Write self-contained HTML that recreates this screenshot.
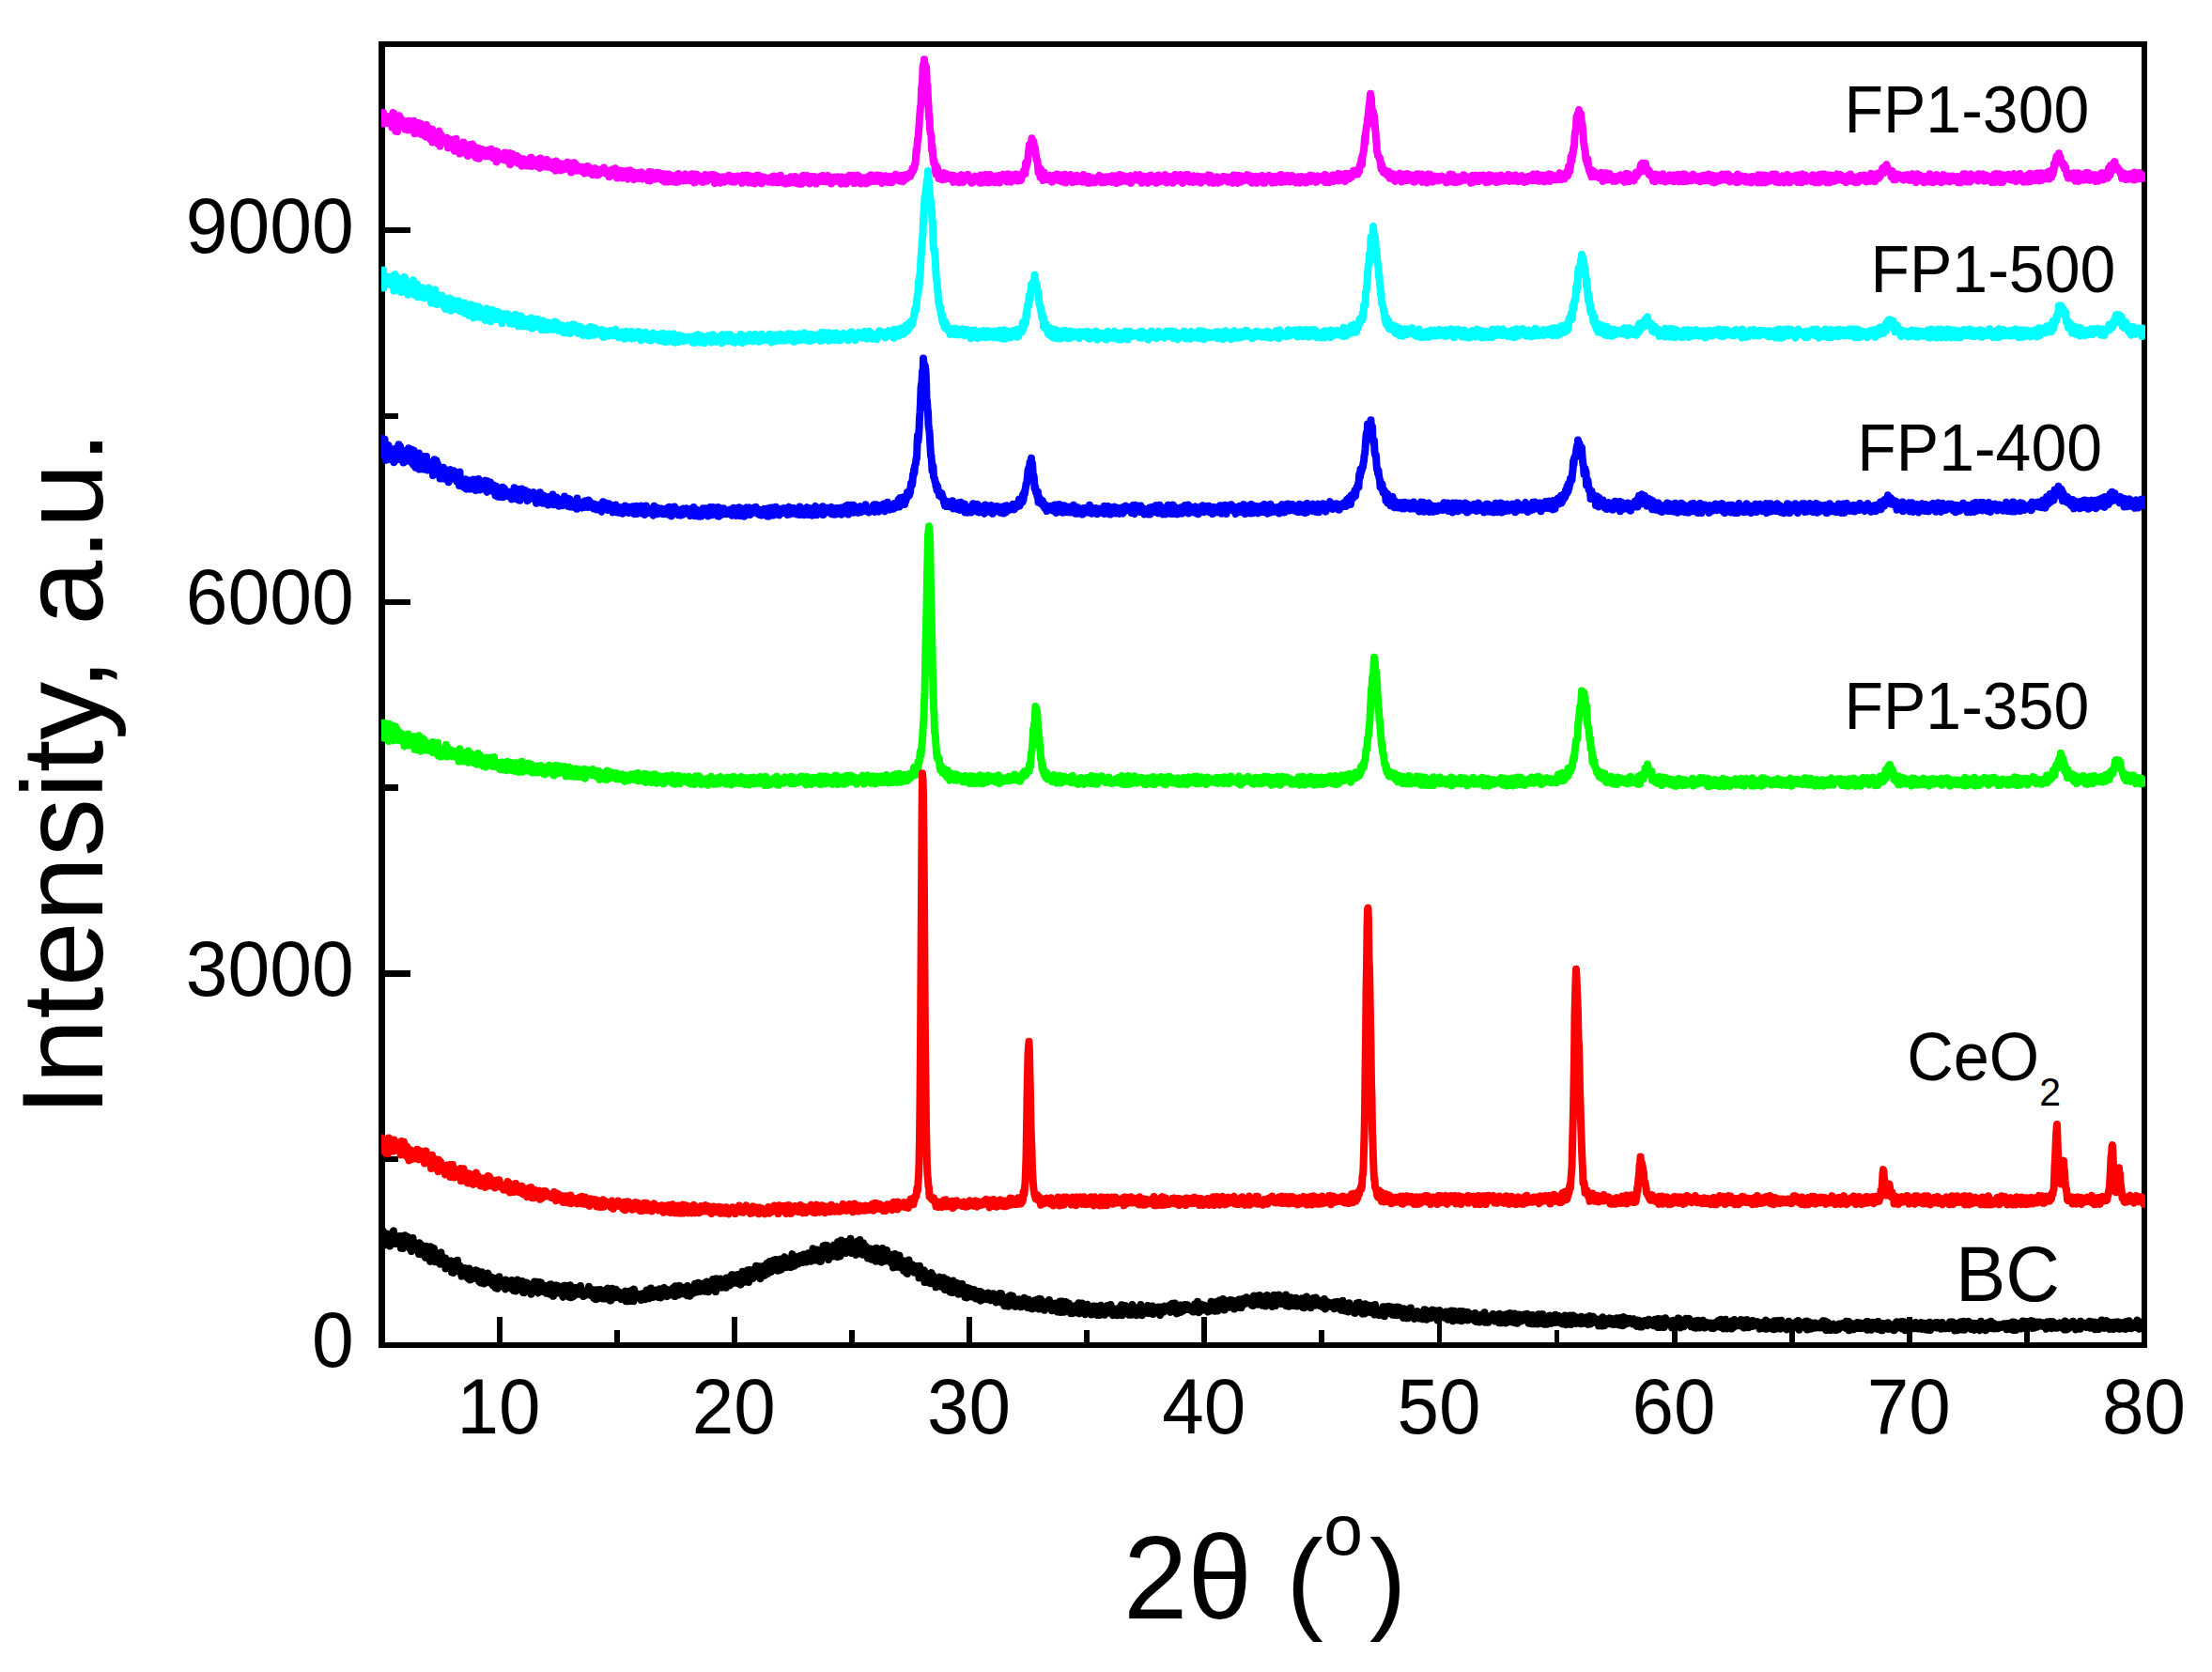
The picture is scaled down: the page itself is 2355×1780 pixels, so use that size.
<!DOCTYPE html>
<html lang="en"><head><meta charset="utf-8"><title>XRD patterns</title>
<style>html,body{margin:0;padding:0;background:#fff}svg{display:block}text{font-family:"Liberation Sans",Arial,Helvetica,sans-serif;fill:#000}</style></head><body>
<svg width="2355" height="1780" viewBox="0 0 2355 1780">
<rect width="2355" height="1780" fill="#fff"/>
<g stroke="#000" fill="none" shape-rendering="crispEdges">
<rect x="406.5" y="47" width="1876.5" height="1385" stroke-width="6.5"/>
<path d="M531.6,1432 V1402 M781.8,1432 V1402 M1032.0,1432 V1402 M1282.2,1432 V1402 M1532.4,1432 V1402 M1782.6,1432 V1402 M2032.8,1432 V1402 M656.7,1432 V1415.5 M906.9,1432 V1415.5 M1157.1,1432 V1415.5 M1407.3,1432 V1415.5 M1657.5,1432 V1415.5 M1907.7,1432 V1415.5 M2157.9,1432 V1415.5" stroke-width="5.8"/>
<path d="M406.5,1036.4 H436.8 M406.5,640.8 H436.8 M406.5,245.2 H436.8 M406.5,1234.2 H423.5 M406.5,838.6 H423.5 M406.5,443.0 H423.5" stroke-width="6.4"/>
</g>
<defs><clipPath id="cp"><rect x="406" y="0" width="1878" height="1780"/></clipPath></defs>
<g fill="none" stroke-width="8" stroke-linejoin="round" stroke-linecap="butt" clip-path="url(#cp)">
<path stroke="#ff00ff" d="M406.5,128.1l.5 2.6 .5-2.4 .5-8.4 .5 11.6 .5-2.3 .5-4.9 .5 5.9 .5-1 .5-.3 .5-1.2 .5 2.8 .5-6.4 .5 3 .5-1.5 .5 5.7 .5-2.8 .5-1.5 .5-2.3 .5 2.8 .5 1.4 .5-1.3 .5 8.1 .5-1.4 .5-14.3 .5 .2 .5 8.7 .5-1.1 .5 3.3 .5 .1 .5 8.5 .5-14.7 .5 3.7 .5 11.4 .5-6 .5 .2 .5-5.6 .5-5.4 .5 9 .5-.1 .5-6.4 .5 2.8 .5 3.1 .5-4 .5 4.2 .5 1.1 .5-.1 .5-2.5 .5 5.4 .5 1.6 .5-2.6 .5-5.2 .5 7.5 .5-5.7 .5 6.7 .5-9 .5 9.5 .5-4.3 .5-5.5 .5 4.5 .5 1.9 .5 1.2 .5-5.7 .5-.4 .5 6.2 .5-2.9 .5 3.4 .5 2.6 .5-10.9 .5 8.9 .5 4.6 .5-6.8 .5-2.2 .5 7.3 .5-2.1 .5 3.1 .5-5.4 .5-5 .5 6.4 .5-1.4 .5 5.7 .5-2.4 .5-8 .5 2.1 .5 9.5 .5-.7 .5-5.7 .5 3 .5 2.2 .5 .3 .5 2 .5-2.5 .5-1.4 .5-.5 .5 6 .5-12.7 .5 7.9 .5 .9 .5-6.1 .5 7.9 .5-4.1 .5 6.8 .5-4 .5 3.6 .5 2.6 .5-3.4 .5-5.1 .5-2.5 .5 14.1 .5-7.7 .5-2.2 .5 3.7 .5-1.1 .5 4.6 .5-3.2 .5 .1 .5-2.8 .5 5.2 .5-6 .5 7.2 .5 3.8 .5-12.3 .5-1.3 .5 10.5 .5 5.5 .5-11.6 .5-.8 .5 7.7 .5-5.6 .5 1.6 .5 .9 .5 3.8 .5-3.6 .5 3 .5-1.6 .5-2.4 .5 2.3 .5-2.3 .5 4 .5-4.2 .5 .3 .5 10.3 .5-5.7 .5 .2 .5 2.4 .5-3.4 .5 .9 .5 2.8 .5-.4 .5-5.4 .5 8 .5-5.3 .5-1.6 .5 .8 .5 2.1 .5 7.9 .5-10.5 .5 5.3 .5-7.7 .5 7.4 .5 3.6 .5-4.1 .5-1.3 .5 3.4 .5 1.9 .5 .1 .5 4.8 .5-6.2 .5-2.9 .5 1.9 .5 .4 .5 .8 .5-.4 .5 1 .5-6.7 .5 9.4 .5-5.1 .5-2 .5 6.8 .5 2.6 .5-2.9 .5-1 .5-3.9 .5 10.5 .5-3.6 .5-7.2 .5 1.5 .5 3.2 .5-5.7 .5 6.3 .5-2.1 .5 6.2 .5-.8 .5-10.1 .5 7 .5-5.7 .5 9.8 .5-3.2 .5 1.5 .5-5.6 .5 10.4 .5 .3 .5-10.3 .5 5.2 .5-3.6 .5 2.4 .5-4.2 .5 11.1 .5-9.8 .5 2.5 .5 2.9 .5-3.9 .5 1.6 .5-1 .5 1.6 .5-3.5 .5 2.7 .5 .9 .5-.3 .5 1.4 .5-1.1 .5 3.7 .5-3.5 .5 .7 .5-1.7 .5 .6 .5-2.4 .5 6.2 .5-5.5 .5 1.4 .5 3.9 .5 .3 .5-2.6 .5-5 .5 7.9 .5-.4 .5-5.5 .5 7.4 .5-4.8 .5-1.3 .5 4.2 .5-.8 .5 1.3 .5-5.9 .5 11.5 .5-7.9 .5-3 .5 7.2 .5-3.1 .5 2.4 .5-2.1 .5 1 .5 1.1 .5-3.2 .5 4.8 .5-3.7 .5-1.2 .5 3.2 .5 1.3 .5-2.1 .5-1.9 .5 4.9 .5-7.7 .5 2.5 .5 3.6 .5-4.5 .5 4.6 .5-.2 .5 3.2 .5-5.8 .5 1.1 .5 3.1 .5-7 .5 12.2 .5-8.2 .5 0 .5 5.2 .5-2.8 .5-5.5 .5 7.8 .5 .8 .5-4.1 .5 .6 .5 2.6 .5-4.4 .5 4.4 .5-.7 .5-2.7 .5-2.2 .5 3.8 .5-2 .5 6 .5-2.6 .5 2.1 .5-2 .5 .5 .5-3.2 .5 4.6 .5 3.6 .5-6.5 .5-.8 .5 1.5 .5-.9 .5-.7 .5 2.7 .5-1.2 .5 5.4 .5-4.4 .5 1.1 .5 2 .5-3.8 .5 5.4 .5-6.2 .5-.5 .5 1.4 .5 .9 .5-3.9 .5 4.3 .5-4.9 .5 9.4 .5-4.5 .5-1.6 .5-.7 .5 1.6 .5 .6 .5-2.4 .5 .4 .5 2.3 .5-.9 .5 4.5 .5 .6 .5-3.3 .5 1.5 .5-5.4 .5 6 .5-1.9 .5 1.6 .5 3.4 .5-10.4 .5 6.5 .5-4 .5 5.1 .5-5.6 .5 2.5 .5 2.2 .5 1.3 .5-1.6 .5-2.5 .5 .8 .5 4.3 .5-2.5 .5-4.9 .5 7.5 .5-1.2 .5 1.4 .5-3.5 .5 3.5 .5-5.5 .5 4.9 .5-3.1 .5 3.5 .5 1 .5-5 .5 2.1 .5 .3 .5 3.4 .5-1.3 .5-5.6 .5 4.9 .5 .9 .5 3.4 .5-10.3 .5 3.4 .5 5.5 .5-7.8 .5 .6 .5 5 .5 1.5 .5-4.8 .5 3.5 .5-1.2 .5 4.1 .5-4.3 .5 2.9 .5-5.3 .5 2.1 .5 .3 .5 3.6 .5-1.6 .5-3.7 .5 4.1 .5 .3 .5-2.4 .5-.4 .5 .3 .5-4.3 .5 5.5 .5 .1 .5-3 .5 4.6 .5-5.9 .5 2.3 .5 .3 .5 6.8 .5-9.8 .5 6.1 .5 1.1 .5-1.5 .5 2.3 .5-6.1 .5-2.4 .5 7.5 .5-5.4 .5 2.5 .5-2.4 .5 6.3 .5-.4 .5-4.4 .5 4.6 .5-2.2 .5-.6 .5 .6 .5-.7 .5 2.3 .5-.7 .5-1.8 .5 3.8 .5-4.4 .5 2.5 .5 .5 .5 2.9 .5-5.4 .5 6.3 .5-4.3 .5-.9 .5-1.3 .5 3.5 .5-1.4 .5-3.1 .5 0 .5 1.6 .5-.2 .5 4.9 .5 .8 .5-1.3 .5-1.4 .5-2 .5 1.4 .5 2.3 .5 2.8 .5-2.6 .5-3.2 .5 .9 .5-1.3 .5-.7 .5 1.6 .5 1.1 .5 4.5 .5-4.7 .5 3.6 .5 1.1 .5-4.4 .5 4.1 .5-2.3 .5-2.9 .5 1.9 .5-.6 .5-.6 .5 .1 .5 1 .5 .9 .5-3.5 .5 2.4 .5-3.9 .5 4.8 .5 1 .5-1.1 .5 .4 .5 .8 .5-3.2 .5 1.2 .5 2 .5 1.4 .5-1.5 .5 4 .5-5.2 .5 3 .5 .7 .5-3.6 .5-1.7 .5-.9 .5 3.6 .5 2.6 .5-2.2 .5-.2 .5-1.3 .5 2.5 .5-6.3 .5 5.6 .5-.5 .5-3.5 .5 8.5 .5-8.5 .5 .9 .5-.2 .5 6 .5-5.1 .5 4.1 .5-.2 .5-.8 .5-3.9 .5 1.8 .5 5.9 .5-7.5 .5 1.2 .5 1.8 .5 2.6 .5-1.4 .5 1.3 .5-4.6 .5 5.2 .5-.9 .5-5.4 .5 8 .5 .9 .5-6.7 .5 2.2 .5 3.4 .5-7.2 .5-1 .5 1.5 .5 1.9 .5 0 .5 3.1 .5-.8 .5-3.8 .5 4.6 .5 3.3 .5-1.6 .5-.5 .5-2.4 .5 2.5 .5-4.9 .5 4.4 .5-2.1 .5 3.1 .5-1.6 .5-3.9 .5 3.1 .5 2.8 .5-5.8 .5 1.4 .5-.4 .5-1.8 .5 6.1 .5 1 .5-1.3 .5-1.3 .5-.7 .5 .8 .5-2.4 .5 4.1 .5 .4 .5-.3 .5-3.6 .5 1.6 .5-.6 .5 4.9 .5-3.9 .5-5.1 .5 5.7 .5 3.7 .5-2.9 .5 .5 .5-2.1 .5-4.7 .5 .3 .5 1.4 .5 2.8 .5 1.1 .5 .9 .5-2.4 .5 3.2 .5-3 .5-1 .5 3.8 .5-4.3 .5-2.3 .5 2 .5 2.9 .5-4.8 .5 3.7 .5 .1 .5-2.6 .5-.1 .5 2.5 .5-.2 .5 4.5 .5-2.2 .5-4.7 .5 1.8 .5 3.8 .5 2.9 .5-3.6 .5-.2 .5 3.8 .5-4.5 .5-.7 .5-2.6 .5 2.2 .5 5.8 .5-8 .5 3.5 .5-3.4 .5 3.8 .5 1.8 .5-2.7 .5 2.4 .5 0 .5-.7 .5 3.1 .5-2.2 .5-2.6 .5-.9 .5-.4 .5 3.2 .5-1.9 .5 5.4 .5-.1 .5-5 .5-.2 .5 4.8 .5-8.5 .5 3.4 .5 3.4 .5-4.4 .5 1 .5 .4 .5 2.4 .5-1.2 .5 .6 .5 .5 .5-1.3 .5 2.6 .5-4.4 .5-1.7 .5-.8 .5 .4 .5 2.6 .5 3.8 .5-2.1 .5-1.8 .5-1.1 .5 1.3 .5 .3 .5-.3 .5-2.1 .5 2.3 .5 3.6 .5-7 .5 4 .5-3.9 .5 4.9 .5-2.2 .5-2.7 .5 4.8 .5 4.1 .5-4.1 .5 2.5 .5-2.9 .5-4.3 .5 5.7 .5-2.2 .5-2.4 .5 5.3 .5-1.1 .5-2 .5 3.4 .5-4.1 .5 3.6 .5-3.8 .5 3.5 .5-3.8 .5 6.1 .5-2.9 .5 2.8 .5-5.3 .5 .8 .5 3.1 .5-6.4 .5 1.9 .5 5 .5-1.3 .5 1.2 .5-3 .5 2 .5-3 .5-1.5 .5-.7 .5 2.7 .5 0 .5-.2 .5-3 .5 0 .5 3.3 .5 1.9 .5-2 .5-.7 .5-2.4 .5 8.9 .5-7 .5 6.5 .5-.3 .5-3 .5-1.9 .5 1.6 .5-3 .5 3.3 .5-.6 .5 1.3 .5 1 .5 1.8 .5-4.9 .5 3.3 .5-4.3 .5-.2 .5 .7 .5-.9 .5 4.6 .5-.1 .5 .8 .5-3 .5 .7 .5-2 .5-1.3 .5 3.7 .5-.4 .5-3.2 .5 4 .5-5.5 .5 3.7 .5-1 .5 .2 .5-1.3 .5 4.8 .5-.9 .5 1.4 .5-2.4 .5-3.3 .5 2.1 .5-1.9 .5 3.8 .5 1.8 .5-2 .5-2.2 .5 .5 .5 1.4 .5-3.9 .5 3.8 .5 .1 .5-1.7 .5 .3 .5 1.3 .5-2.3 .5 0 .5 3.8 .5-1.3 .5 3.4 .5-6.2 .5-1.9 .5 6.4 .5 0 .5-3.9 .5-1.7 .5 3.3 .5-4 .5 3.3 .5-3.6 .5 3.8 .5-3.8 .5 3.9 .5 4 .5-4.1 .5 2.4 .5-3.3 .5-.6 .5-1.4 .5 5.9 .5-2.5 .5 3.9 .5-6.5 .5 2.2 .5 .7 .5 3.1 .5 1 .5-5.8 .5-1.1 .5-1.4 .5 7.1 .5-3.3 .5-1.3 .5 1.4 .5-4.2 .5 .3 .5 6.2 .5-1.2 .5-.6 .5-2.7 .5 3.7 .5 2.8 .5-7 .5 2.9 .5-1.1 .5 1.9 .5-.8 .5-.4 .5-1.7 .5 2 .5-1.4 .5 1.1 .5 .2 .5 1.7 .5-2.9 .5 .6 .5 3.3 .5-3 .5-.1 .5 2.6 .5-1.4 .5-.4 .5 .3 .5-3.4 .5 3.9 .5 2.1 .5-1.8 .5-4.9 .5 4.2 .5-2.7 .5 1.6 .5 .8 .5-3.1 .5 5.9 .5-3.2 .5 2 .5-.4 .5 1.6 .5-.3 .5-6.2 .5 3.5 .5-4.4 .5 3.3 .5 2.7 .5 .5 .5 .8 .5-3.8 .5 1.6 .5-.5 .5 2.7 .5 .7 .5-4.5 .5 5.3 .5-4.5 .5-.8 .5 2.3 .5 .3 .5-.5 .5-2.7 .5 4.9 .5-3.3 .5 3.4 .5-.3 .5-6.2 .5 .7 .5 0 .5 2.9 .5-.5 .5 .5 .5-2.5 .5 2.9 .5 2.3 .5-6.4 .5 2.7 .5 1 .5-.9 .5-.1 .5 4.5 .5-1.1 .5-1 .5-3.7 .5 6.2 .5-3.6 .5-2.2 .5 .5 .5-.3 .5 5.6 .5-4 .5-.3 .5-4.5 .5 6 .5-4.1 .5-.2 .5 4 .5-3.4 .5 4 .5 .6 .5-6.7 .5 3.8 .5-3.3 .5 3.5 .5 2.2 .5-5.2 .5 7.3 .5-4.9 .5-2 .5 2.4 .5 2.2 .5-5.1 .5 3.2 .5-3.2 .5 6 .5-2.4 .5-1.4 .5 3.4 .5-5.4 .5 2.1 .5 5.2 .5-4.6 .5 3.5 .5-2.7 .5-2.1 .5 1 .5 .8 .5-1.1 .5-1 .5 .1 .5-1.6 .5 3.7 .5 .6 .5 .8 .5-5.9 .5 6.1 .5-1.9 .5-3.3 .5 3.5 .5 1.7 .5-.7 .5 .5 .5 .5 .5-.1 .5-2.2 .5-4.2 .5 2.5 .5 2.6 .5-1.9 .5 2.7 .5 .2 .5-1.7 .5 4.2 .5-6.6 .5 4.4 .5-3.2 .5-.7 .5 3.2 .5-2.8 .5 3.4 .5-4.7 .5 2.8 .5-2.1 .5 1.4 .5-.3 .5-1.7 .5 4.1 .5-4.4 .5 .6 .5 4.3 .5 .2 .5-.7 .5-.7 .5 3.6 .5-7.2 .5 1 .5-.5 .5 4.3 .5-1.4 .5 1.9 .5-.3 .5-2.8 .5-1.3 .5-.4 .5 6.7 .5-2.2 .5-.9 .5-2.1 .5 .3 .5-.4 .5 .1 .5-3.6 .5 4.2 .5-.8 .5 1.6 .5-.2 .5 1.5 .5-2 .5 1.9 .5-6.3 .5 1.9 .5 6.5 .5-6.8 .5 2.1 .5 2.3 .5-3.7 .5 3.7 .5-4.9 .5-1.1 .5 1.3 .5-.8 .5 3.8 .5-.7 .5 1.5 .5-3.2 .5 6.9 .5-4.7 .5 .1 .5 1.2 .5-1.7 .5-.9 .5 1.7 .5 1.9 .5-.6 .5 .7 .5-3.5 .5-.5 .5 6.2 .5-5 .5 1.7 .5 .5 .5 1.6 .5-6.4 .5 2 .5 .1 .5 .3 .5-3.7 .5 4.2 .5-4.2 .5 5.1 .5 .5 .5 .1 .5-4.1 .5 4.9 .5-4.2 .5-.8 .5 .5 .5 .3 .5 2.4 .5 1.5 .5-6.3 .5 3.1 .5 3.3 .5-1.6 .5 .7 .5-4.7 .5 5.7 .5-5.8 .5 4 .5 2.7 .5 1.2 .5-3.2 .5 .8 .5-3.4 .5 .3 .5 3.8 .5-2.8 .5-.3 .5-3 .5 3.6 .5 1.1 .5-3.3 .5 .6 .5 4.8 .5-3.2 .5-1.1 .5-2 .5 1.1 .5 .9 .5 3.7 .5-4.6 .5 5.5 .5-6.3 .5 1.3 .5 2.7 .5-2.5 .5-1.5 .5 1.6 .5 1.3 .5-5.1 .5 3.4 .5 .3 .5-.7 .5 2.6 .5-3.1 .5 .4 .5 .9 .5 1.5 .5-2.3 .5 4 .5-5.7 .5 5 .5-5.1 .5 1.6 .5 1.1 .5 3.5 .5-2.4 .5-3.2 .5 3.9 .5-3.7 .5-1.6 .5 2.9 .5-1.1 .5 1.9 .5-3.8 .5 2 .5 .4 .5-1.1 .5-1.1 .5-2 .5 3.5 .5-2.3 .5 .3 .5-2.8 .5 .1 .5-3.7 .5 1.7 .5 .4 .5-3.4 .5 .1 .5-3.7 .5 .3 .5-7.5 .5-7.8 .5 2.2 .5-6.4 .5-7.6 .5-.1 .5-7.2 .5-5.7 .5-9.5 .5-5 .5-6.8 .5-.9 .5-17.1 .5-3.8 .5-4.4 .5-14.6 .5-3.8 .5 13 .5-18.5 .5 10.7 .5-5.3 .5 3.2 .5-1.1 .5 9.7 .5 13.3 .5-2.8 .5 15.2 .5 5.9 .5 13.3 .5-2.2 .5 13.1 .5 5 .5 1.9 .5 1.1 .5 15.3 .5-4.4 .5 6.9 .5 7.6 .5 3.7 .5-2.7 .5 4.6 .5 1.4 .5 5.5 .5 3.2 .5-8.4 .5 8 .5-6.2 .5 5.5 .5-2.2 .5 7.9 .5-3.8 .5-1.9 .5 .9 .5 .1 .5 2.1 .5-.6 .5 2.2 .5 2.3 .5-1.9 .5-4.5 .5-.8 .5 2.2 .5 4.5 .5-3.2 .5-.7 .5 2 .5-3.6 .5 .7 .5 4 .5-1.8 .5-.3 .5 1.9 .5-2.1 .5-.2 .5 .6 .5 2.6 .5-1.2 .5-2.9 .5 2.1 .5 2.3 .5 2.9 .5-7 .5 3.5 .5-1.4 .5 2.6 .5-.9 .5 2.5 .5-2.2 .5-2.5 .5 0 .5 2.3 .5 0 .5 3.5 .5-.5 .5-6.6 .5 3.6 .5-3.9 .5-.8 .5 5.6 .5-.4 .5-3.7 .5 6.3 .5-6.1 .5-.4 .5 4.2 .5-1 .5-.9 .5 .3 .5 .7 .5-.9 .5 0 .5-4 .5 1.3 .5 4.5 .5-3 .5 2.9 .5 1.6 .5-3.7 .5 1.5 .5 3.8 .5-2.8 .5 2.6 .5-.7 .5-1.8 .5-2 .5-1.7 .5-.6 .5 3.7 .5 0 .5-1.5 .5 2.4 .5-3.4 .5 4 .5-2.5 .5-.2 .5 .1 .5-.2 .5 4.6 .5-8.1 .5 4.1 .5 2.5 .5-1.2 .5-2.4 .5 4.8 .5-6.5 .5-.6 .5 4.4 .5-4.7 .5-1.1 .5 6.5 .5-.3 .5-.1 .5-2.8 .5 1.6 .5-2.7 .5 6.3 .5-2.2 .5-.1 .5-6.2 .5 6.3 .5 1.6 .5-.7 .5-1 .5-1.8 .5-.8 .5 2.2 .5-.5 .5-.4 .5-1.2 .5 4.6 .5-6.6 .5 2.6 .5-1.3 .5 3.8 .5 .9 .5-.5 .5-1.1 .5-5 .5 7.6 .5-3.2 .5-1.5 .5 .3 .5-.8 .5 1.8 .5-.3 .5-1.6 .5-3.6 .5 4.3 .5 1.2 .5 .1 .5-1.6 .5 1.4 .5 1.3 .5-3.5 .5 4.5 .5-7.9 .5 1.5 .5 .8 .5-2.3 .5 2 .5 5.2 .5 0 .5-2.7 .5 3.7 .5-3.5 .5-1.7 .5 1.7 .5-1 .5 2 .5-5.3 .5 5.8 .5-3.5 .5 3 .5-5.7 .5 2.6 .5 1.1 .5 1.8 .5-5.1 .5 6.7 .5-3 .5-2.5 .5 3.9 .5-2.8 .5 2.2 .5 1.5 .5-3.1 .5-3.5 .5-.3 .5 1.8 .5-1.5 .5-3.6 .5-.7 .5 2.2 .5 1.8 .5-11.5 .5 5.1 .5-4.5 .5 .6 .5-2.1 .5-4.8 .5-5.8 .5-3.8 .5-4.1 .5 7.1 .5-6.6 .5-2.8 .5-.4 .5-4.1 .5 5.4 .5 4 .5 .8 .5-6.8 .5 11.4 .5-4.1 .5-.8 .5 4.8 .5 3.4 .5 5.2 .5-.5 .5 .9 .5 5.4 .5 7.4 .5-5.2 .5 4.3 .5 .2 .5 5.6 .5-8.6 .5 8.1 .5-5.2 .5 2.2 .5 1.6 .5 5.2 .5-6.1 .5-2.5 .5 7.9 .5-4.9 .5 1.5 .5 .7 .5 .4 .5-.5 .5 1.1 .5 .4 .5 1.2 .5-3 .5-.7 .5-.6 .5 3.9 .5-1.4 .5 1.4 .5 0 .5 2.8 .5-3.4 .5 1.3 .5-4.6 .5 .4 .5 1.8 .5-2.1 .5 4.5 .5-4.7 .5 3.3 .5-4.6 .5 1.9 .5 1.8 .5 .2 .5-3.5 .5 4.4 .5 2 .5-.7 .5-3 .5 .2 .5-1.4 .5 4.2 .5 1.9 .5-4.6 .5-2.7 .5 4.5 .5 1.1 .5-6 .5 4.7 .5 4.1 .5-2.5 .5-.6 .5-.3 .5 1.5 .5-4.6 .5 .2 .5 2.9 .5-2.5 .5 2.2 .5-5 .5 6.2 .5 .2 .5-1.9 .5 .3 .5 3.4 .5-6.3 .5 .4 .5-.4 .5 1.6 .5-1.4 .5 2.4 .5-1.5 .5-1.9 .5-.2 .5 6.4 .5-3 .5-.3 .5 .5 .5-.2 .5 1.9 .5-.4 .5-2.7 .5-.5 .5-.6 .5-.4 .5 6.2 .5-5.4 .5-2.3 .5 2.5 .5 .1 .5 2.6 .5-2.8 .5 3.3 .5-.4 .5 2.1 .5 1.4 .5 0 .5-1.2 .5-5.9 .5 1.8 .5 1.5 .5 3.8 .5-2.8 .5 1.2 .5-3.2 .5 1.8 .5 .3 .5-2.7 .5 2.8 .5 .7 .5-2.8 .5 2.7 .5 1.5 .5-3.7 .5-.2 .5-.7 .5-.7 .5 1.8 .5-1.3 .5 .2 .5-1 .5-1.8 .5 1.4 .5 2.9 .5-3.5 .5 1.3 .5 5.3 .5-1.2 .5-4.3 .5 3.1 .5-2.9 .5 5.2 .5-5.1 .5 1.5 .5 3.1 .5-5.2 .5 5 .5-4.9 .5 2.4 .5-1.2 .5 .5 .5 .5 .5-.5 .5-2.2 .5 4.4 .5-.4 .5 1.3 .5 .3 .5-6.4 .5 6.1 .5 .1 .5-4.3 .5 3.7 .5 1 .5-4.7 .5-1.9 .5 2.3 .5 5.3 .5-3.9 .5-3.4 .5 2.3 .5-1.7 .5 1.3 .5 1.2 .5-4.6 .5 5.2 .5 2.4 .5-3.7 .5-.4 .5 3.4 .5-5.5 .5 .1 .5-.4 .5 2.9 .5 1.3 .5-1.2 .5 1.5 .5 .7 .5-.8 .5-3 .5 1.2 .5 3.5 .5-5.3 .5 1.9 .5-.4 .5 .5 .5-2 .5-.7 .5 7.6 .5-2.3 .5-3.8 .5 1.5 .5 1.7 .5-2.3 .5 2.2 .5-2.9 .5 .6 .5 .7 .5-.9 .5-3.3 .5 4.4 .5 .6 .5 .5 .5-3.4 .5 3 .5-.3 .5-4.5 .5-.3 .5 5.5 .5-3.4 .5 4.6 .5 2 .5-5.7 .5-.2 .5 1.5 .5 1.6 .5-4.2 .5 5.5 .5-.6 .5-.7 .5-2.8 .5 3.4 .5-.2 .5-4.7 .5 7.1 .5-5.1 .5 1.6 .5-2.1 .5 2.1 .5 1.8 .5-4.5 .5-2 .5 2.8 .5-2 .5 1.3 .5 1.4 .5 .2 .5 3.1 .5-5.3 .5 3.2 .5-2 .5 4.3 .5 1.2 .5-3.7 .5 3.2 .5-5.1 .5-2.5 .5 .8 .5-.7 .5 1.4 .5 1.7 .5 3.2 .5-1 .5-.6 .5-2 .5-.7 .5 1.7 .5 .3 .5 .2 .5 .3 .5-1.1 .5-4.2 .5 1.9 .5 .6 .5 5.9 .5-5 .5 2.6 .5 1.8 .5-2.6 .5-1.7 .5 .3 .5-1.7 .5 3 .5 1.9 .5-1.3 .5 .5 .5-.1 .5 2.7 .5-5.8 .5 1.8 .5 1.3 .5 1.2 .5-7.3 .5 3.2 .5 .7 .5-1.9 .5 4.4 .5-1.5 .5-1.4 .5-2.9 .5 .8 .5 .7 .5 3.4 .5-3.9 .5-1.6 .5 1.1 .5 2 .5 5.2 .5 .5 .5-5.5 .5 3.3 .5 1.1 .5-.3 .5-3.2 .5-2.8 .5 1.9 .5-3.2 .5 4.9 .5 1.2 .5-6.2 .5 4.3 .5 .8 .5 2.2 .5 .3 .5-1.3 .5-3.5 .5 .8 .5 3.6 .5-4.2 .5 1.3 .5 3.7 .5-3.3 .5-3.5 .5 2.5 .5 2.2 .5-1.9 .5 3.1 .5 .3 .5-4.5 .5 .4 .5 .9 .5-2.6 .5 3.7 .5-1.3 .5 2.2 .5-3.2 .5-.6 .5 6.3 .5-6.3 .5 .7 .5-.4 .5 1 .5-1.4 .5 2 .5-1.5 .5 .6 .5 1.9 .5 .7 .5-.5 .5-2.8 .5 2.6 .5-1.2 .5 .1 .5-3.8 .5 5.6 .5-1.9 .5 4.3 .5-2.5 .5-4.1 .5-.6 .5 5.9 .5-4.7 .5 3.6 .5-2.3 .5 5.1 .5-4.2 .5 3.3 .5-.4 .5-4.2 .5 .4 .5 4.2 .5-3.5 .5-2 .5 4.8 .5 1.6 .5-4.4 .5 3.3 .5-3.6 .5 3.5 .5-3.7 .5 3.7 .5-1.9 .5-1.6 .5 .9 .5-1.8 .5-1.3 .5 .2 .5 2.3 .5-2.3 .5 3.4 .5 .3 .5-.2 .5-2.2 .5 1.3 .5-.2 .5 3.1 .5-4.9 .5 1 .5 .3 .5 .2 .5-1.4 .5 .3 .5 3.8 .5-3.8 .5 3.6 .5 2.1 .5-1.3 .5-7.1 .5 6 .5-.7 .5 .1 .5-5 .5 5.5 .5-4.3 .5 5.6 .5-.6 .5 1.8 .5-5.1 .5-2.7 .5 6 .5-.4 .5-2.9 .5 4 .5-1.6 .5-4.5 .5 2.1 .5-.2 .5 .8 .5 .7 .5-2.1 .5 1.2 .5 1.8 .5-1.5 .5-.5 .5-.1 .5 .5 .5-4.2 .5 4.8 .5-2.8 .5 2.7 .5-3.7 .5 5.6 .5-1.6 .5-3.7 .5 3.7 .5-2.3 .5 5.9 .5-3 .5-3 .5 2.3 .5-.6 .5 2.9 .5-2 .5 .4 .5-3.8 .5 4.5 .5 2.4 .5-2.8 .5-1.6 .5 .5 .5-2.6 .5 2.7 .5-3 .5 2.6 .5-1 .5-1 .5 3.3 .5-4.8 .5 3.3 .5-3 .5 7.4 .5 0 .5-2.3 .5 2.3 .5-2.9 .5-.1 .5-2.3 .5-1.1 .5 2.4 .5-1.5 .5 .2 .5 2.7 .5-2 .5-3.3 .5 3.1 .5-1.3 .5 1.1 .5-1.9 .5 5.4 .5 1.4 .5-6.8 .5 4.1 .5-.1 .5-3.9 .5 2.7 .5 3 .5-1.3 .5 1.8 .5-6.4 .5 .9 .5 2.4 .5 .2 .5-.8 .5-.9 .5-.1 .5-.5 .5 2.5 .5-5.6 .5 8.2 .5-4.9 .5-2.1 .5 4.6 .5-4.5 .5 4.1 .5-1.8 .5 2.3 .5 .4 .5 1.2 .5-4.2 .5 .5 .5 .7 .5-3.3 .5 4.6 .5-1 .5-3.4 .5 5.9 .5 .3 .5-6.2 .5 4.4 .5 1.5 .5-.9 .5-4.2 .5-1 .5 3 .5-.9 .5 1.1 .5-.2 .5 1.4 .5-2.5 .5 .9 .5 4.7 .5-4.6 .5 2 .5-1 .5-.2 .5-2.6 .5 3.3 .5-1.3 .5 2 .5 2.4 .5-3.9 .5 1.3 .5-4.1 .5 2.6 .5 3.3 .5-3.7 .5-1.3 .5 1.9 .5-.9 .5-.1 .5-.4 .5 5.3 .5-6.4 .5 1 .5-.3 .5 4.2 .5-3.6 .5 3.7 .5-2.6 .5-.5 .5-3.3 .5 6.2 .5-1.6 .5-.3 .5-1.2 .5-.7 .5-2 .5 5.1 .5-1.6 .5-1.4 .5-.7 .5 1.8 .5-.5 .5 4 .5-2 .5-3.2 .5-1.2 .5 2 .5-1.6 .5 2.3 .5 .8 .5 .5 .5-.5 .5-1.5 .5 1.9 .5-3.5 .5 1.9 .5 2 .5-1.2 .5-3.6 .5 .2 .5-1 .5 7.9 .5-7.8 .5 3.3 .5 4.5 .5-1.7 .5 .5 .5-4.2 .5 2.8 .5 2.7 .5-4.5 .5 1 .5-1.7 .5 .7 .5 .9 .5 2.3 .5-5.3 .5-1.3 .5 3.4 .5 .4 .5 2.8 .5-1.7 .5-3.1 .5 2.7 .5 1.3 .5-2 .5-1.5 .5 2.4 .5-2.5 .5-3.6 .5 7.5 .5-6.2 .5 2.2 .5 0 .5-.1 .5 .1 .5-2.8 .5 4.6 .5-1.2 .5-.1 .5 2.4 .5 0 .5 .5 .5 1.2 .5-3.4 .5-4.8 .5 4.1 .5-.6 .5 .1 .5-1.7 .5-.8 .5 3.9 .5 .3 .5-5.1 .5 3.9 .5-1.9 .5-.6 .5 2.4 .5-1.9 .5-1.4 .5 1.2 .5-5 .5 3 .5 .1 .5-2.6 .5 3.5 .5-.2 .5-2.6 .5 .6 .5 1.6 .5 .3 .5-5.4 .5 1.9 .5 .8 .5-3.9 .5-3.3 .5-1.6 .5-.6 .5-4 .5 6 .5-9.5 .5-.1 .5-3.6 .5-2 .5-6.8 .5-7 .5 5.6 .5-10.1 .5-3.8 .5-4.2 .5-.7 .5-6.2 .5-2.5 .5-5.1 .5-5.9 .5-2.2 .5-5.8 .5-5.6 .5 6.8 .5-2.3 .5 13.9 .5 1.3 .5 1.8 .5-2.7 .5 13.5 .5-9 .5 6.5 .5 6.2 .5 3.9 .5 8 .5 4.3 .5 9.3 .5 .6 .5 4 .5 .5 .5 1.1 .5 1 .5-.1 .5 3.8 .5 3.1 .5 4.5 .5-5.1 .5 2 .5 5.1 .5-2.4 .5 4.2 .5-1.2 .5-.3 .5-.9 .5 3.5 .5-1.2 .5 .6 .5 .2 .5 2.3 .5 .1 .5-4.3 .5 4 .5 1.5 .5 1.7 .5-.5 .5-1.2 .5-3.1 .5 1 .5 4.2 .5-3.8 .5 4.2 .5 .7 .5-5.5 .5 3.7 .5-1.2 .5 4.8 .5-2.4 .5-3.2 .5 2.3 .5-3.1 .5 1.9 .5 .9 .5-.1 .5 .4 .5-2.8 .5-2.2 .5 3.6 .5-1.2 .5 .5 .5 6.1 .5-1.7 .5-3.1 .5-2.9 .5 .3 .5 4 .5 1.7 .5-3.2 .5 1 .5 .3 .5 2 .5-6.9 .5 4.8 .5 .6 .5 1.3 .5-1.3 .5-3.5 .5 1.3 .5-2.2 .5 4 .5 0 .5 .8 .5-3.5 .5-.3 .5 6.2 .5-3.1 .5 3.6 .5-3 .5-4.4 .5 5.3 .5 1 .5-3.9 .5-3.4 .5 6 .5-1.9 .5 1 .5-5 .5 5.5 .5-5.5 .5 2.4 .5 4.1 .5-6.3 .5-.1 .5 3.3 .5 4.9 .5-.1 .5-5.1 .5 3.7 .5-1 .5-.7 .5 .2 .5-2.5 .5 3.6 .5 .6 .5 2 .5-2.3 .5-6.6 .5 1.6 .5 3.6 .5-.6 .5-4.5 .5 4 .5-.5 .5 .8 .5-.2 .5 2.4 .5 1.3 .5-1.8 .5-4.2 .5 .6 .5 .5 .5 1.4 .5-.9 .5 .2 .5-1.3 .5 4.3 .5-.2 .5 .3 .5-2.4 .5 1.2 .5-3.2 .5-.2 .5 1.1 .5 2.6 .5-1.7 .5-2.3 .5 2.9 .5 .8 .5-.6 .5-2 .5 1.7 .5-1.1 .5 .2 .5 .6 .5 1.9 .5 2.5 .5-.6 .5-2.1 .5-2.4 .5 .2 .5 .1 .5 3.3 .5-7.1 .5 5 .5-5 .5 4.4 .5 3.1 .5-5.2 .5-2.3 .5 7.4 .5 .5 .5-2.3 .5 1.7 .5-4.7 .5 4.6 .5 1.2 .5-2.5 .5-.8 .5 2.3 .5-.3 .5-4.4 .5 4.9 .5-1.4 .5-1.4 .5 2.7 .5-.9 .5-.4 .5-2.9 .5 3.1 .5-4.5 .5 2.3 .5-3.7 .5 0 .5 5 .5-1.2 .5 .4 .5 1.1 .5-.5 .5-2.9 .5 2.2 .5-.3 .5-1 .5 .9 .5-.6 .5-.6 .5 .7 .5 1.3 .5 3.9 .5-6.3 .5 3.1 .5-4.6 .5 7.1 .5-4.5 .5 1.1 .5 2.6 .5-.6 .5-5.8 .5 4.8 .5-1.9 .5 2 .5-1.1 .5 1.4 .5-1.1 .5-1 .5 3.1 .5-6.3 .5 2.6 .5-1.2 .5 1.8 .5-.6 .5 .6 .5-.8 .5 .1 .5-2.7 .5 3.7 .5 .8 .5-2.1 .5-.2 .5 .1 .5 5.4 .5-3.5 .5 .5 .5-1.6 .5-.5 .5-.9 .5 5.6 .5-7.5 .5 4.7 .5-.8 .5-.5 .5-3.1 .5 .8 .5 5.1 .5-3.8 .5 3.6 .5-.5 .5-.2 .5 .4 .5-4.6 .5 1.8 .5 2.6 .5-4.5 .5 6.8 .5-5.1 .5 1.1 .5-2.2 .5 3.2 .5-2.6 .5 1.2 .5-2.1 .5 5.4 .5-6.6 .5 4.9 .5-.5 .5 .4 .5-3.3 .5 4.7 .5-.1 .5-1.9 .5 .3 .5-1 .5 1.8 .5-3.4 .5 3.2 .5-.3 .5-4.3 .5-1.1 .5 4.1 .5-.1 .5 3.2 .5-2.7 .5-1.3 .5-2 .5 3 .5-1.2 .5-1.2 .5 2.3 .5 2.7 .5-2.2 .5-2.7 .5 3.2 .5-3.3 .5-1.1 .5 4.8 .5-2.4 .5 3.8 .5-1.8 .5-2.6 .5 2.3 .5 2.5 .5-3.4 .5-2 .5 .9 .5-.4 .5-.8 .5-.3 .5 4 .5 1.6 .5-3.5 .5 2.7 .5 .3 .5 1.8 .5-4.4 .5-.4 .5 1.8 .5-.7 .5 .4 .5 2.3 .5-4 .5 1.5 .5-2.8 .5 1.9 .5-1.2 .5-.2 .5 1.3 .5-.6 .5 1.9 .5 1 .5-5.3 .5 5.8 .5-6.8 .5 5 .5 1 .5-3.1 .5 .9 .5-1.3 .5 3.9 .5-6.5 .5 2.2 .5-2.2 .5 4.8 .5 2.6 .5-.3 .5-1.2 .5-1 .5-2.4 .5 4.6 .5-1.4 .5-3.4 .5-1 .5 1.5 .5 3.9 .5 .4 .5 .8 .5-5.6 .5 1 .5 4 .5-2.7 .5 1.2 .5-4.9 .5 2.2 .5 .8 .5-.8 .5-.2 .5-2.9 .5 7.6 .5-3.5 .5-3.8 .5 5.9 .5-2.4 .5 1.5 .5-2.2 .5-1.4 .5 0 .5 2.5 .5 1 .5-.7 .5 .3 .5 1.2 .5-2.2 .5 1.6 .5 .2 .5-2 .5-1 .5-.9 .5-2 .5-.9 .5 6.7 .5-3.3 .5-1.4 .5 5 .5-1.7 .5-2.3 .5 2.1 .5-3.2 .5 1.1 .5 3.3 .5-2.2 .5-3.6 .5 2 .5 .7 .5-3.8 .5-1.4 .5 5 .5-6.3 .5-3.7 .5 2.6 .5 3.1 .5-4.8 .5-.9 .5-10.2 .5 1.7 .5 2.5 .5-7.6 .5 2 .5-5.9 .5-3.9 .5 .4 .5-11.2 .5-4.1 .5-2.2 .5-3.6 .5-11 .5 7.3 .5-6.9 .5-4 .5 1.4 .5-4.8 .5 6.3 .5-3.4 .5 4.4 .5-3.5 .5 5.5 .5 6.1 .5-.8 .5 5.2 .5 6.3 .5 8 .5 2.8 .5 4.2 .5 1.7 .5 5.1 .5 5 .5-1.3 .5 3.3 .5 2.7 .5-5.1 .5 7 .5 2.9 .5 2.2 .5-1.6 .5 4.3 .5-3.3 .5 2 .5 5.2 .5-7 .5 3.7 .5 .2 .5 .5 .5-.8 .5 3.1 .5-3.9 .5-.4 .5 4.6 .5-3.9 .5 3.9 .5-.7 .5-1.5 .5 .9 .5 .7 .5 1.4 .5-2.5 .5 1.1 .5-2.8 .5 2.8 .5-3.8 .5 4.5 .5-.9 .5 5.5 .5-1.3 .5-3.3 .5 2.6 .5-1.5 .5-3.3 .5-1.9 .5 7.3 .5-1.7 .5-5.5 .5 6.2 .5 .6 .5-3.7 .5 3.5 .5-5.9 .5 3.6 .5 .6 .5 1.8 .5-.9 .5-.4 .5 .8 .5-2.8 .5 5 .5-4.2 .5 2.6 .5-1.8 .5-.6 .5 2 .5-.3 .5 2.1 .5-.6 .5-3.9 .5 2.5 .5-.9 .5-2.1 .5-.7 .5 3.2 .5-1.9 .5-2 .5 3.1 .5 .7 .5-.3 .5-3 .5 1.4 .5 4.6 .5-5 .5 1 .5 5.1 .5-3.5 .5-2.1 .5-3.3 .5 5.2 .5-4 .5 3.2 .5-2 .5-1.9 .5 7.7 .5-4.1 .5 2.3 .5-.4 .5-3.5 .5 1.8 .5-1.1 .5 3 .5-1.3 .5-2 .5 4.6 .5-2.9 .5-.3 .5-3.3 .5 2.6 .5-4.9 .5 4.2 .5-3.9 .5 2.2 .5-1.7 .5 .5 .5-.4 .5-1.8 .5-.9 .5-4.5 .5-2 .5 7.3 .5-2.6 .5-6.2 .5 8.4 .5-7.5 .5 3.1 .5-.3 .5-.6 .5 1.7 .5-4.6 .5 4.2 .5 .3 .5 1.8 .5-.1 .5 0 .5 .7 .5 4.8 .5-3.5 .5 3.7 .5 .6 .5-.6 .5 1.8 .5 .7 .5-2.2 .5 2.4 .5 4 .5-6.8 .5 2 .5-.9 .5 6.4 .5-7.7 .5 3.5 .5 2.2 .5-4.1 .5 1.7 .5-1.3 .5-1.4 .5 3 .5 1.4 .5-2.1 .5 1.4 .5 1.2 .5 1.2 .5-5.6 .5 4.3 .5-2.8 .5-3 .5 2.6 .5 3.4 .5-.8 .5-3.2 .5 6.3 .5-2.8 .5-1.1 .5-1.1 .5 2.2 .5-1.8 .5 3.5 .5-1.9 .5 .7 .5-2.1 .5-2.7 .5 4.7 .5-3.6 .5 2.1 .5 .2 .5-1.8 .5 3.9 .5-5.3 .5 6.7 .5-4.8 .5 3.6 .5 .8 .5-5 .5 .3 .5 3.9 .5-1.8 .5-.2 .5-4.4 .5 .4 .5 5.1 .5 2.1 .5-5 .5-.4 .5 2.5 .5 .6 .5 .2 .5-2.3 .5-3.4 .5 7.8 .5-4.5 .5 4.1 .5-7.4 .5 5.3 .5-2 .5-1.4 .5 4.8 .5 .7 .5-4.3 .5 2.9 .5-4 .5 1 .5 .9 .5-.2 .5 2.2 .5-4.2 .5 5 .5 0 .5-2.7 .5-2.3 .5-1.6 .5 4.2 .5-1.5 .5 1.9 .5-2.7 .5 2.5 .5-.2 .5 .2 .5 .6 .5 .1 .5 1.5 .5-4 .5 3.4 .5-1.2 .5-1.4 .5-1.3 .5 5.6 .5-2.8 .5-1.7 .5 1.4 .5-.2 .5-1.2 .5-2 .5 3.5 .5-.7 .5-.3 .5 3 .5-5.3 .5 .8 .5 2.6 .5 1.5 .5-.5 .5 .3 .5-6.1 .5 5.5 .5-.1 .5 .6 .5-3.2 .5 2.8 .5 1.1 .5 1.4 .5-3.1 .5-3.7 .5 3.2 .5 1.4 .5-.3 .5 3.2 .5-4.9 .5-1.8 .5 .8 .5 3 .5-3.3 .5-.6 .5 .5 .5 4.7 .5-2.3 .5-1.3 .5 2.8 .5-.4 .5-3.8 .5 4.1 .5-1.3 .5-5 .5 1.7 .5 3.3 .5 .5 .5-1.8 .5-1.6 .5 2.9 .5-4.8 .5 5.5 .5-1.6 .5 .2 .5-1.4 .5 3.4 .5-6.3 .5 2.4 .5 3.3 .5-2.9 .5 5 .5-2.4 .5-2.7 .5 4.3 .5-2.8 .5 1.6 .5-2.8 .5 .1 .5 3 .5-1.4 .5-2 .5-.3 .5 3.5 .5 2.6 .5-6 .5 3.5 .5-6.1 .5 1.4 .5 4.7 .5 2.1 .5-3.5 .5 1.1 .5-.6 .5 1.7 .5-4.8 .5 3.9 .5-2.4 .5 .2 .5 .8 .5-.5 .5-1.3 .5 1.2 .5-1.6 .5 5.6 .5-1.8 .5-2.6 .5 4.6 .5-.7 .5-1.8 .5-2.4 .5 1.9 .5 .7 .5 1.9 .5-3.6 .5-.9 .5 5.6 .5-1.1 .5-2.5 .5-2.8 .5 3.2 .5 1.4 .5-.8 .5 .2 .5-1.8 .5 2.5 .5-4 .5 .4 .5-.2 .5-.3 .5 5.8 .5-8.2 .5 4.4 .5-2.8 .5-.6 .5 3.1 .5-3.9 .5 3.4 .5 4.6 .5-4.6 .5 1.3 .5-3 .5 3.1 .5-4.6 .5 3.9 .5-.8 .5 4.7 .5-4.6 .5-.6 .5-.5 .5-1.5 .5 4.6 .5 1.5 .5-4.2 .5 2.5 .5-2.4 .5 1.7 .5 .1 .5-4.3 .5 1.5 .5 3.9 .5-6.5 .5 4.4 .5-.8 .5-1.4 .5 2.3 .5 .6 .5 .5 .5-5.7 .5 8.3 .5-5 .5 3.6 .5-2.7 .5-1.1 .5 1.2 .5 4.5 .5-.7 .5-4.5 .5 1.4 .5 2 .5-1.2 .5-1.2 .5-.6 .5-2.1 .5 4.3 .5 .8 .5 1.8 .5-5.6 .5 2.7 .5-1.5 .5 3 .5-3.2 .5-1.3 .5-2.4 .5 5.6 .5-1.3 .5 2.2 .5-3.9 .5 5.7 .5-6 .5 2.8 .5-.2 .5 1.6 .5-3 .5-1.7 .5-.2 .5 4.2 .5-1.6 .5 .5 .5-2.7 .5 2.2 .5 .2 .5 .9 .5-4.8 .5 1.6 .5 5.8 .5-4.9 .5 .7 .5-.7 .5-2.6 .5 1 .5 3.4 .5-2.5 .5 6 .5-7.9 .5-.9 .5 3.5 .5-1.9 .5 6 .5-4.2 .5 2.2 .5-4.5 .5 4.8 .5 0 .5 1.4 .5-2.4 .5 .7 .5-.8 .5 1.7 .5-3.1 .5 2.2 .5-2.6 .5 3 .5-2.3 .5-.8 .5-.1 .5 5 .5-7.1 .5 .2 .5 4.9 .5-3.8 .5 1.3 .5-.1 .5 5.6 .5-6 .5-.1 .5 .8 .5 1.4 .5 .6 .5-4.6 .5 4.5 .5 3.4 .5-8.6 .5 5.5 .5 .5 .5-1.5 .5-.8 .5-3.9 .5 7.2 .5-3.6 .5 .3 .5 3.3 .5-7.3 .5 4.3 .5 1.5 .5 .3 .5-.2 .5 3 .5-3.8 .5 1.7 .5-.5 .5-5.3 .5 1.7 .5 6.2 .5-5.1 .5 .5 .5-2.9 .5 2.3 .5-2.3 .5 1.6 .5 2.7 .5-3.2 .5 .5 .5 4.6 .5-2.1 .5 .2 .5 1.1 .5-3.6 .5 .3 .5-3.5 .5 6.2 .5-2.2 .5 .4 .5-2.5 .5 4 .5 0 .5-1 .5-4.2 .5 1.8 .5 1.8 .5-1.8 .5 2.8 .5 1.5 .5-4.1 .5 1.3 .5-1.2 .5 4 .5-.3 .5 2.3 .5-4.4 .5-2.2 .5 3.2 .5-1.5 .5 .9 .5 2.5 .5-3.6 .5 2.4 .5-6.1 .5 6.9 .5-2.2 .5-.9 .5-.6 .5 4.5 .5-4.5 .5 4.1 .5-4.1 .5 1.3 .5 .7 .5 3.6 .5-3.9 .5 0 .5-.7 .5-.6 .5-.7 .5 5.7 .5-.8 .5-5.1 .5 2 .5-3.1 .5 4.9 .5-.6 .5-1.3 .5-2.2 .5 3.7 .5-.4 .5-1.9 .5 2.2 .5-4.9 .5 1.7 .5-.8 .5 2.5 .5 3.6 .5-3.8 .5 2.5 .5-2.7 .5-.9 .5 3.3 .5-1.2 .5 2.1 .5-1.1 .5-4.2 .5-2.6 .5 4.7 .5-3.1 .5-.6 .5-.2 .5 1.9 .5 1 .5 .4 .5 4.3 .5-7.4 .5 2.7 .5-3.1 .5 .4 .5 2.3 .5 .6 .5-4.3 .5 5.5 .5-5.4 .5 4.1 .5-2.9 .5 1.8 .5-1.4 .5-2.8 .5 1.3 .5-5.4 .5-.6 .5 1.6 .5 3.8 .5-6.2 .5-.3 .5 5.4 .5-4.6 .5-.4 .5-2.8 .5 3.1 .5 1.7 .5-1.3 .5 2.7 .5-.5 .5 2.6 .5 .1 .5-1.7 .5 3.3 .5 3 .5-3.1 .5-3.1 .5 4 .5-.4 .5 5.6 .5-2.4 .5-4.1 .5 2.5 .5 4.2 .5-6 .5 1.8 .5 1.3 .5-.2 .5-.9 .5 1.8 .5-3.6 .5 2.1 .5 0 .5 .7 .5 .1 .5 .7 .5-.8 .5-.1 .5 1.9 .5 1.2 .5 .2 .5-4.9 .5 3.3 .5 1.2 .5-2.4 .5 1.7 .5-1.6 .5 1.5 .5-4.5 .5 4.7 .5-2.2 .5-.6 .5 1 .5 3 .5 0 .5-1.7 .5 1.5 .5-3 .5-1.9 .5-1.5 .5 4.3 .5-.2 .5 .4 .5 .1 .5 2.7 .5-5 .5 .3 .5 6.3 .5-2.7 .5-2.5 .5-3.6 .5 2.4 .5 1.1 .5 .6 .5 .7 .5-1 .5 3.2 .5-5.4 .5 2.1 .5-.9 .5 3.4 .5-1.4 .5 1.4 .5-1.7 .5 4.4 .5-2.9 .5-3.4 .5 1.8 .5-1 .5 2.7 .5 .5 .5-1.3 .5-1.3 .5-1.2 .5 5.3 .5-1.1 .5-7 .5 4.6 .5-2.2 .5 1.1 .5 4.9 .5-6.6 .5 .2 .5 6.9 .5-5.6 .5 .6 .5 3.2 .5-3.8 .5 1.2 .5 .5 .5 2.7 .5-7 .5 1.8 .5 1.7 .5 2.4 .5-3.6 .5 2.5 .5-2.2 .5 .2 .5 3.9 .5-3.5 .5 5 .5-3.6 .5 1.8 .5-.9 .5-5.4 .5 .1 .5 4.7 .5-3.7 .5 1.3 .5 .5 .5-1.4 .5 4.9 .5-.9 .5-1.4 .5 .9 .5-3.4 .5 4.1 .5-4 .5 5.6 .5-5.2 .5 .3 .5 4 .5-1.2 .5-3.8 .5 3.7 .5-1.4 .5 0 .5 1.4 .5 0 .5 .9 .5-1.2 .5-.4 .5-1 .5 3.8 .5-5.4 .5 6.3 .5 0 .5 0 .5-4.8 .5 4.8 .5-1.8 .5-.1 .5 1.9 .5-4 .5 .9 .5-4.3 .5-1.5 .5 5.1 .5 .4 .5 .6 .5-.9 .5-5.2 .5 5.3 .5 1.8 .5 1 .5-5.8 .5 .1 .5 .4 .5 .2 .5-2.3 .5 2.2 .5 5.3 .5-6.2 .5-1.9 .5 3.7 .5-.5 .5 2.7 .5-3.3 .5 1.3 .5-1.5 .5-.3 .5 3.1 .5-.6 .5-.4 .5 1.3 .5-3.1 .5 2 .5 .4 .5 2.3 .5-7.2 .5 3.6 .5 1.9 .5-2.4 .5 1.5 .5 1.4 .5-.5 .5-5.1 .5 1.2 .5-1.6 .5 5.9 .5-1 .5 2.6 .5-3 .5-2.8 .5 5.2 .5-5.6 .5 3.1 .5-.5 .5 2.3 .5 .3 .5-3.1 .5-.7 .5 1.6 .5-1.3 .5 3.6 .5-1.3 .5 2.3 .5 1.2 .5-6.5 .5 .6 .5 2.6 .5-.2 .5-1.8 .5-3.2 .5 8.5 .5-4.3 .5-2.9 .5-1.7 .5 7.7 .5-2.5 .5-.8 .5-2.4 .5 2.2 .5-.7 .5-3.5 .5 8.9 .5-3.5 .5-1.8 .5-1.5 .5 .9 .5 5.9 .5-3.6 .5-4.1 .5 5.3 .5-.9 .5 0 .5-1.5 .5-.1 .5 .9 .5-1 .5-2.9 .5 1 .5 2.4 .5-3.8 .5 3.4 .5-.4 .5 2.5 .5-1.4 .5-1.1 .5 0 .5 1.7 .5 1.2 .5-4.7 .5-1.1 .5 1.8 .5-2.6 .5 2.5 .5 3.8 .5 .4 .5 1.3 .5-3.5 .5 .2 .5-1.8 .5 .2 .5 1.9 .5 1.5 .5-1.2 .5-5.4 .5 5.6 .5-1.2 .5-1.4 .5 1.7 .5 1.8 .5-1.8 .5-2.1 .5 6.2 .5-6 .5 2.6 .5 1.9 .5-5 .5 3.3 .5-3.3 .5 1.3 .5-1.1 .5 5.9 .5-7.4 .5 4.4 .5-1.1 .5-4.5 .5 8.5 .5-5.5 .5 .7 .5 1.1 .5-2.6 .5 .3 .5 1.7 .5-2 .5 2.3 .5 2.7 .5-5.4 .5-1.4 .5 3.5 .5 1.2 .5 .6 .5-4.2 .5-1.9 .5 6.5 .5-.4 .5 1.9 .5-6 .5 3.6 .5 1.1 .5-6.8 .5 6.8 .5 .8 .5-2 .5-.2 .5 .4 .5-2.4 .5-2.9 .5 1.2 .5 1.6 .5-1.7 .5 4.4 .5-3.5 .5 .5 .5-4.1 .5 5 .5-2.9 .5 5.1 .5-8.2 .5 4.6 .5-2.2 .5-.5 .5 4.6 .5-2.6 .5-5.3 .5 4.8 .5-6.3 .5 2.7 .5-7.9 .5 2.4 .5-1.3 .5-1.5 .5-4.9 .5-2.3 .5 3.9 .5 .7 .5-2.6 .5-1.6 .5-3.7 .5 3.7 .5-.4 .5 .4 .5 3.6 .5 1.2 .5 2 .5-.4 .5-.2 .5 3.1 .5 1.1 .5-2.3 .5 4.6 .5-2.4 .5 .5 .5 3.5 .5 1.2 .5 3.9 .5-1.9 .5 2.5 .5 2.7 .5-2.9 .5 .9 .5-2.4 .5 3.9 .5-1.7 .5 .2 .5-2.8 .5 .6 .5 .7 .5 2 .5 2.4 .5-6.2 .5 2.8 .5 .2 .5 5.4 .5-5.1 .5-.7 .5 3.1 .5-4.4 .5 3.9 .5-5.2 .5 8.6 .5-4.7 .5-.9 .5-2.1 .5 2.8 .5 .6 .5-1.9 .5 4.5 .5-3.6 .5 1 .5 .5 .5 2.5 .5-4.1 .5 1.1 .5 .5 .5 .8 .5-5.8 .5 7.1 .5-3 .5-1.5 .5 1.7 .5-4.4 .5 2.6 .5 2.3 .5 2.8 .5-3.5 .5 1.2 .5-1.7 .5 2.7 .5-3 .5 2.1 .5-1.9 .5-1.5 .5-.1 .5 .8 .5 4.3 .5 1.7 .5-5 .5-1.3 .5 3 .5-.1 .5-2.5 .5 5.8 .5-2.5 .5 .1 .5-2.1 .5 .1 .5 2 .5-5.8 .5 1.4 .5 2 .5-3.8 .5 7.4 .5-5.6 .5 .3 .5 1.7 .5 2.6 .5-3.9 .5-2.1 .5-.7 .5 2.5 .5-2.4 .5 5.6 .5-2 .5-8.5 .5 1.8 .5 2.5 .5 3.3 .5-10.5 .5 2.9 .5 3.5 .5-5.7 .5 1.2 .5-2.1 .5 2.6 .5-5.2 .5 2.8 .5-4 .5 6.7 .5-.6 .5-1.2 .5 .8 .5 .7 .5-.3 .5 2.2 .5 1.3 .5-.4 .5-.6 .5 1.2 .5 .5 .5 2.8 .5-.2 .5 4.8 .5-4.7 .5 1 .5-1.4 .5 2 .5-1.1 .5-.8 .5 2.7 .5 3.5 .5-5.8 .5 .7 .5 1.5 .5 .8 .5 2.6 .5-4.6 .5 1.2 .5-1.5 .5-.2 .5 1 .5-1.5 .5 3.8 .5 1.4 .5-3.7 .5-.4 .5 4.8 .5-3.6 .5 4 .5-8 .5 4.1 .5-2 .5 1.2 .5 3.2 .5 .6 .5-3 .5 2.7 .5-4.9 .5 3.3 .5-1 .5-3.7 .5 6.2 .5-3.7 .5 2.6 .5-2.8 .5 2.2 .5 1.1 .5-1.5 .5-1.1 .5 2.6 .5-1"/>
<path stroke="#00ffff" d="M406.5,297.9l.5-3.6 .5 .7 .5-7.4 .5 18.9 .5-3.2 .5-7.3 .5 5.7 .5-2.4 .5-4.1 .5 7.9 .5-6.4 .5 0 .5-2.1 .5 6.3 .5-2.6 .5 3.3 .5-5.6 .5 3.8 .5-4.9 .5 8.7 .5-3.1 .5 .9 .5 .5 .5-6.8 .5 8.9 .5 5.6 .5-17.1 .5-.3 .5 1.2 .5 11.6 .5-3.3 .5 4.7 .5-1.6 .5-2.3 .5 .5 .5-2 .5 5.1 .5-9.4 .5 3.5 .5 3.3 .5 7.6 .5-12 .5-1.4 .5 2.6 .5 7.4 .5-5.5 .5 7.5 .5-14.8 .5 14.2 .5-.3 .5-11.3 .5 7.5 .5 5.1 .5-5.1 .5 4.4 .5 4.3 .5-7.4 .5-2.4 .5-2 .5 6.6 .5-3.7 .5 .3 .5 .5 .5 3.6 .5-7.6 .5-1.9 .5-1.5 .5 14.1 .5-4.9 .5 6.6 .5-6.6 .5-3.1 .5 5.6 .5-2.3 .5-5 .5 1.8 .5 11.9 .5-6.1 .5 .5 .5-2.9 .5-1.6 .5 7.1 .5-4.2 .5-2.6 .5 2.9 .5-3.2 .5 5 .5 4.3 .5-8.3 .5 10 .5-8.9 .5 3.8 .5-4 .5 2.8 .5 1.4 .5-1.9 .5-.9 .5 .4 .5-.4 .5-2.9 .5 5.7 .5 3 .5 2.4 .5-.9 .5 5.5 .5-6.4 .5-3 .5 9.9 .5-11.8 .5 8.5 .5-7.7 .5 5.7 .5-9 .5 11.7 .5-4.1 .5-3.1 .5 11 .5-3.4 .5-2.7 .5-3 .5 3.1 .5-.2 .5 3.8 .5 .5 .5-5.6 .5 .7 .5 .3 .5-3 .5 3.3 .5 2.2 .5 3.3 .5 2.7 .5-8.1 .5 5.5 .5-3.6 .5 9.3 .5-7.3 .5 2.3 .5-5.3 .5 .7 .5 4.2 .5-2.1 .5 3.1 .5-7.1 .5 8.7 .5-5.7 .5 10.1 .5-7.4 .5 5.4 .5-9.1 .5 7 .5-4.7 .5 1.7 .5 2.1 .5-1.1 .5 2.4 .5 1.9 .5-.1 .5-2.6 .5-4.5 .5 2.2 .5 2.5 .5-6.1 .5 9.8 .5-3.4 .5 .1 .5 4.5 .5-.8 .5-1.5 .5-4.3 .5 4.9 .5 .3 .5-4.3 .5 7.1 .5-1.8 .5-8.5 .5 7.4 .5-4.8 .5 8.7 .5-1.1 .5-6.6 .5 .9 .5 3.6 .5-1 .5 6.3 .5-2.6 .5-3.5 .5 3.1 .5-8.5 .5 7.9 .5 2 .5-3.5 .5-1.7 .5 4.5 .5 4.8 .5-5.8 .5-4.4 .5 9 .5-11.4 .5 8.3 .5-3.6 .5 5.3 .5-5.9 .5 7.5 .5-3.4 .5-6.8 .5-.4 .5 5.5 .5 5.5 .5-3.8 .5-.1 .5-.9 .5 3.4 .5-1.1 .5-.2 .5-4.2 .5 7.4 .5 .7 .5-8.8 .5 10.8 .5-3.8 .5-3.9 .5-4.6 .5 8.6 .5-.2 .5-3.8 .5-3.8 .5 9.7 .5-5.5 .5 .5 .5 7.9 .5 .1 .5-3 .5-4.5 .5 3.7 .5-8.2 .5 6.6 .5-2.7 .5-1.6 .5-.9 .5 7 .5-1.4 .5 .4 .5 2.3 .5-5.4 .5-1.1 .5-1.6 .5 4.7 .5 3.6 .5-2.8 .5 2.6 .5-5.7 .5 2.4 .5-.9 .5-1.4 .5 10 .5-3.1 .5-5.1 .5 .1 .5 2.4 .5-4.3 .5 6 .5-5.3 .5 3 .5-2 .5 1.8 .5-2.5 .5-.7 .5 2 .5 1 .5 1.3 .5 1.2 .5 4.6 .5-2.1 .5-3.2 .5 3.1 .5-4.2 .5 6.6 .5-2.6 .5-5.8 .5 6.6 .5 .3 .5-8.3 .5 3.6 .5 1 .5-4.3 .5 2.7 .5 .4 .5 4.5 .5-.5 .5 4.9 .5-6.8 .5 4.7 .5-3.1 .5 .6 .5-4.2 .5-2.1 .5 3.5 .5 4.7 .5 2.5 .5-2.8 .5-.3 .5-3.9 .5 7.2 .5-.5 .5-5.5 .5 1.5 .5-2.7 .5 7.4 .5-3.1 .5-1.4 .5 1.6 .5 .2 .5-2.4 .5-2.4 .5 0 .5-1.3 .5 6.6 .5 4.3 .5-10.5 .5 5.5 .5 .8 .5-4 .5 3.6 .5-3.7 .5 6.8 .5-5.2 .5 2.1 .5 1.8 .5-3.2 .5-3.8 .5 3.7 .5 3.8 .5-2.3 .5 1 .5-3.7 .5 3.6 .5 1.7 .5-1.9 .5 5.4 .5-5.9 .5-2.3 .5-1.6 .5 8 .5-3.4 .5 3.1 .5-1.5 .5 3.4 .5-.9 .5-4.6 .5 1.9 .5 2.4 .5-6.5 .5 7.7 .5-.6 .5-.6 .5-3.3 .5 1.5 .5-3.9 .5 3.4 .5-1.7 .5 1.9 .5-1.5 .5 2.2 .5 2.6 .5-6.9 .5 6.3 .5-7.7 .5 0 .5 5 .5 .5 .5 1.2 .5-5.6 .5 4.4 .5 .6 .5 3.2 .5-3.7 .5 1.8 .5-4 .5 2.2 .5-.6 .5 3.2 .5-4.6 .5 .5 .5 3.9 .5 3.4 .5-3.7 .5-.2 .5-1.7 .5 4 .5-1.4 .5 3.3 .5-3.8 .5-3.4 .5 1.1 .5-1 .5-.6 .5 6.8 .5-1.2 .5-5.4 .5 8.2 .5-4.1 .5-3.1 .5 3.6 .5-1.1 .5-1.8 .5-3 .5 5.3 .5 .7 .5-5.8 .5 6.6 .5 .3 .5-2.9 .5 1.7 .5-1 .5-1.4 .5 1.3 .5 4.6 .5-7.3 .5 4.5 .5-.1 .5-2.3 .5 .8 .5-2.5 .5 1.5 .5 2.3 .5 .9 .5-3.1 .5 7.3 .5-6.3 .5 1.8 .5-.8 .5-.4 .5 4.5 .5-4.6 .5 4.8 .5-.5 .5-5.6 .5 5.4 .5-4.3 .5 6.7 .5-5.9 .5-1.3 .5-2.4 .5 1.6 .5 1.9 .5-1.1 .5-.5 .5 1.4 .5 1.3 .5 4.3 .5-8 .5 3 .5-1 .5-1.3 .5 .7 .5 .9 .5 4.2 .5-2.2 .5-.9 .5 3 .5-.8 .5-1.2 .5 1.6 .5-3 .5 3.7 .5-.4 .5-2.1 .5-2 .5 6.9 .5-3.5 .5 4.6 .5-6.4 .5 3.8 .5-3.1 .5 1.7 .5 1.5 .5-4 .5 1.8 .5 .7 .5-.1 .5 1.3 .5 1.1 .5-.4 .5-1.4 .5-1.5 .5-1.9 .5 1 .5 .6 .5 3.1 .5-2.6 .5-2.1 .5 4.7 .5-3.5 .5 .1 .5 1.4 .5 1.8 .5-5.9 .5 2 .5 3.2 .5-1.2 .5-1.2 .5 .8 .5 4.8 .5-4.5 .5 2.9 .5 .3 .5-3 .5 2.2 .5-2.2 .5-.3 .5-1.2 .5 4.9 .5-3.1 .5-.3 .5-1.3 .5 7.2 .5-2.6 .5-2.1 .5-1.3 .5-2 .5 4.5 .5 0 .5-4.1 .5 6.3 .5-.9 .5-4.2 .5 1 .5 .4 .5 1.5 .5-.7 .5-3.6 .5 7.5 .5-2.7 .5 2.3 .5 0 .5-3.4 .5 1.3 .5 1 .5 .1 .5-2.2 .5-1 .5 1.6 .5-2 .5 .7 .5-3.2 .5 4.8 .5-2.6 .5 1.1 .5 1.3 .5 .9 .5 3.8 .5-4 .5-3.8 .5 3.7 .5-1.7 .5 2.4 .5-2.5 .5 0 .5 .5 .5-.3 .5-2.8 .5 2.8 .5 1.6 .5 2.9 .5-3.5 .5-.1 .5 2.3 .5-.1 .5 2.6 .5-2.4 .5-1.4 .5 3.3 .5 .5 .5-4.7 .5 1.5 .5-4.3 .5 3.1 .5-1.2 .5 1.7 .5-.6 .5 .7 .5 .2 .5 1.5 .5-.6 .5-1.9 .5-1.7 .5 6.1 .5 .4 .5-4.4 .5 2.5 .5-4.9 .5-.1 .5 3.1 .5 4.1 .5-5.9 .5 .5 .5 5.8 .5-8.2 .5 6 .5-.3 .5-1.6 .5 .9 .5 4.1 .5-7.1 .5 1.9 .5 .2 .5-1 .5-1.5 .5 6.9 .5-3.2 .5-4.7 .5 2.5 .5 2.7 .5 0 .5-4.3 .5 3.2 .5 .8 .5 .3 .5 .1 .5-5.3 .5 8.7 .5-3.8 .5 3.7 .5 .3 .5-4.9 .5-2.5 .5 5 .5-2.5 .5-.6 .5-1.3 .5 6.4 .5-5 .5-2.3 .5 2.3 .5-1.7 .5 3.2 .5-1.4 .5-1.5 .5 3.9 .5-2.9 .5 3.3 .5 1.2 .5-3.8 .5-.6 .5 2 .5 1.6 .5-2.1 .5 .4 .5-.4 .5 .8 .5 .8 .5-3.2 .5 .6 .5 1.2 .5-1.6 .5 1.9 .5 .9 .5-1.3 .5-1.3 .5-.4 .5 5.9 .5-2 .5-4.7 .5 .7 .5 6.4 .5-.9 .5-3.2 .5 2.4 .5-6.2 .5 3.5 .5 1.8 .5-6.1 .5 2.5 .5 3.7 .5 .8 .5-4 .5 2 .5 3.1 .5-4.6 .5-2.2 .5 3 .5-.8 .5 4 .5-2.7 .5-2.3 .5 6.4 .5-5.6 .5 2.3 .5 .4 .5 .3 .5-1.4 .5 .9 .5-1.5 .5-3.1 .5 2.8 .5 0 .5 .1 .5 .7 .5-1.8 .5 4.6 .5 .6 .5-8.1 .5 4.4 .5-1.7 .5-2.7 .5 5.4 .5-2.4 .5 .5 .5-.6 .5 4 .5 .4 .5-2.2 .5 .9 .5-1.9 .5 .6 .5-2 .5 1.8 .5-1.8 .5 2.6 .5 1 .5-1.2 .5 2.1 .5 1.6 .5-8.9 .5 4.5 .5-1.4 .5 .3 .5-2.1 .5 3.3 .5-.7 .5-.9 .5 .9 .5-.8 .5-3.1 .5 6.9 .5-3.2 .5-1.5 .5 2.9 .5-2.2 .5-2.9 .5 6.5 .5-6 .5 3.4 .5 .8 .5 2.8 .5-.4 .5-2.3 .5-2.2 .5 .8 .5 3.5 .5 1.6 .5-2.9 .5-2.8 .5 3.9 .5-3.3 .5 0 .5 .2 .5 2.1 .5-.8 .5 1.7 .5 .7 .5-1.8 .5-5.7 .5 .5 .5 4.3 .5-.5 .5 4.5 .5-4.5 .5-.3 .5 2.6 .5 .3 .5-3.1 .5 1.7 .5-3.8 .5 .5 .5 5 .5-6.1 .5 5.4 .5-.6 .5 .2 .5 .3 .5-.8 .5-5.7 .5 2 .5 1 .5 3.5 .5-4.8 .5 1 .5 .8 .5 3.9 .5-6.4 .5 .2 .5 4.6 .5-5.9 .5 5.2 .5-1.9 .5-2.6 .5 2.7 .5-1.4 .5 2.7 .5 .5 .5 2.6 .5-3.5 .5 .3 .5-1.6 .5 1.3 .5 2.4 .5-6.8 .5 5.9 .5-2.8 .5 1.4 .5 .6 .5 1.2 .5-1.4 .5-1.5 .5 1.6 .5-.7 .5-.5 .5 1 .5 1.5 .5-1.7 .5 0 .5-3.4 .5 2.7 .5-4 .5 6 .5-3.9 .5 5.2 .5 1.4 .5-5.4 .5 4 .5-2.1 .5-2.3 .5-.6 .5 3.2 .5 1.9 .5-2.4 .5-4.3 .5 1 .5 1.9 .5 3.7 .5-2.5 .5 .1 .5 2 .5-3.3 .5 .3 .5-.3 .5-3.7 .5 5.2 .5-.1 .5 1.3 .5-5.1 .5 .9 .5 4 .5-1.4 .5 2.4 .5-5.2 .5 2.5 .5-2.1 .5 2.3 .5-1.9 .5 2.4 .5 1.2 .5-.9 .5-5.8 .5 6.4 .5-1.2 .5-3.5 .5 .4 .5 2.1 .5 1.2 .5-2.3 .5-2.8 .5 4.4 .5-.2 .5 4 .5-7.5 .5 7.4 .5-.4 .5-3.3 .5 3.1 .5-3.6 .5 2 .5-4 .5 1.9 .5-2.6 .5-1.3 .5 3 .5-.9 .5 2.9 .5 1.6 .5-3.4 .5 .5 .5 .3 .5-4.3 .5 4.5 .5-.6 .5-.2 .5-2.4 .5-1.9 .5 3.8 .5 1.3 .5 2.4 .5-.5 .5 .7 .5-2.5 .5 1.8 .5-3.2 .5 1.9 .5 .7 .5 2.2 .5-3.8 .5-3.5 .5 6.1 .5-5.1 .5 1.7 .5-.5 .5-1.5 .5 5.2 .5-1.7 .5-2.8 .5 1.5 .5-1.1 .5 2.4 .5-2.3 .5-.9 .5 .2 .5 .5 .5 1.7 .5-2.9 .5 2 .5 1.2 .5 3.3 .5-2.4 .5-6.4 .5 3.2 .5 .3 .5 1.6 .5 2.9 .5-1.9 .5-6.2 .5 5.1 .5-.4 .5 .6 .5 2.2 .5-5.7 .5 5.1 .5-6.4 .5 3.9 .5 .8 .5 3.5 .5-6 .5-2.3 .5 5.5 .5-3.2 .5 5.2 .5-5.3 .5-.4 .5 4.9 .5-2.7 .5 2.1 .5-5.6 .5 7.1 .5-5.2 .5 3.2 .5-4.2 .5-1.3 .5 3 .5 1 .5 3.2 .5-2.8 .5 .8 .5-.1 .5 2.8 .5-6.3 .5 4.8 .5-3.2 .5 .9 .5-1.9 .5 4 .5-5.6 .5-.2 .5 2.6 .5-2.2 .5 4.3 .5 .5 .5-3.9 .5 3.5 .5-3.3 .5 1.4 .5 .1 .5 4.3 .5-4.4 .5-2.1 .5 0 .5 4.9 .5-6.7 .5 2.8 .5 .2 .5-3.5 .5 3.3 .5 3.4 .5-1.8 .5-2.7 .5 3.7 .5-.4 .5 3.2 .5-6.1 .5 .8 .5 .9 .5-.4 .5 .5 .5-.4 .5-1.4 .5-2.1 .5 2.4 .5-2 .5 .8 .5 1.2 .5 2.4 .5 .8 .5-4.4 .5 3.1 .5 1.1 .5-2 .5-3.7 .5-.6 .5 6.2 .5 .3 .5-1.5 .5-3.2 .5 5.8 .5-.5 .5-3 .5-.4 .5-3.9 .5 6.1 .5-5.5 .5 5.3 .5 .1 .5-1.5 .5 3.4 .5-4.4 .5 2.1 .5 .5 .5-1.3 .5-1.6 .5 3.8 .5-1.9 .5-1.5 .5 .1 .5 .6 .5 4.2 .5-4.3 .5-.8 .5-2 .5-.4 .5-1.5 .5 4.9 .5-.5 .5-2.6 .5-1.1 .5 2.7 .5-.5 .5-1.9 .5 3.8 .5-.4 .5-.5 .5 1.9 .5-3.4 .5 4.7 .5-5.7 .5 3.6 .5 .2 .5-2.1 .5 1.4 .5-4 .5-.5 .5 3 .5-1.3 .5 3.1 .5-1.4 .5 1.3 .5-.8 .5-.3 .5-.4 .5-1.1 .5-.3 .5 5.6 .5-8.9 .5 3.7 .5 2.7 .5-1.4 .5 2.2 .5-2.1 .5-4.5 .5 2.1 .5-2.7 .5 5.7 .5 1 .5-4.7 .5 2.2 .5-2.4 .5-2.7 .5 2.3 .5-3 .5 2.3 .5 1.8 .5 1 .5 1.2 .5-4.2 .5 1.2 .5 .2 .5 .1 .5-6.3 .5 2.4 .5 3.6 .5-5.2 .5 3.1 .5 1.1 .5-7.3 .5 3.7 .5 .5 .5-1.2 .5-4.8 .5 4.1 .5-3.3 .5 2.6 .5-2.2 .5-4 .5 .5 .5-4.2 .5-2 .5-4.7 .5 1.4 .5 .4 .5-5.1 .5-3.9 .5-5.7 .5-3.8 .5-.2 .5-12.8 .5 7.2 .5-13.1 .5 1.8 .5-9.5 .5-13.1 .5-2.2 .5-9.3 .5-6.5 .5-6 .5-13.7 .5-7.9 .5-6.3 .5-11.5 .5-.9 .5-3.2 .5-4.7 .5-4 .5-5.7 .5 4.7 .5-13.6 .5 8.4 .5 2.8 .5 9.9 .5 3.3 .5 6.1 .5 2.2 .5 11.3 .5-2.3 .5 12.5 .5-.8 .5 23.1 .5 6.8 .5-2.1 .5 6.2 .5 3.3 .5 7.5 .5 12.5 .5 4.8 .5 .7 .5 8.5 .5 4.1 .5 7.9 .5 4.6 .5 .5 .5 4.1 .5 2.5 .5-2.6 .5 7.8 .5 1.3 .5 4.1 .5-5.4 .5 8.3 .5-2.6 .5 3.5 .5 3.4 .5-6.3 .5 1.2 .5 6.7 .5-4.9 .5 1 .5 4.4 .5-1.6 .5 2.9 .5-.9 .5-.5 .5 2.8 .5 2.9 .5-5 .5 4.1 .5-.6 .5-2.3 .5 1 .5-3.2 .5 .9 .5 2.4 .5-.6 .5 3.4 .5-6.2 .5 2.6 .5-.7 .5 1.3 .5 3.3 .5-5.6 .5 5 .5-3.3 .5 .7 .5 3.3 .5-3 .5 2.4 .5-1.3 .5-.6 .5-.4 .5-3.2 .5 2.5 .5 2.2 .5 .2 .5-4 .5 6 .5-1 .5-4.4 .5 .7 .5 3.7 .5-5.3 .5 2.5 .5 1.6 .5-.1 .5 .2 .5 1.1 .5-2.7 .5 .7 .5 6 .5-8.1 .5 2.3 .5 1.4 .5-1.8 .5 4.5 .5-2.7 .5 1.6 .5-6 .5 7.1 .5-.1 .5-4.4 .5 4.8 .5-2.4 .5 1.6 .5 2.1 .5-4 .5-2.6 .5 2.4 .5-3 .5 1.2 .5 .1 .5 .1 .5 4.4 .5-.7 .5-4.1 .5 4.8 .5-6.6 .5 2.4 .5 1.2 .5 3.2 .5-1.1 .5-.6 .5 2 .5-1.4 .5 1.5 .5-5 .5-2.1 .5 3 .5 2.9 .5-1.3 .5 1.5 .5-.5 .5-.4 .5 .7 .5-3.6 .5 4.3 .5-5 .5 2.1 .5-3 .5 4.5 .5-4.9 .5 7 .5-6.5 .5 3.8 .5-1 .5-1.7 .5 5 .5-4 .5 4.5 .5-5.9 .5 .5 .5-2.4 .5 5.6 .5 .8 .5-1.6 .5-1 .5-1.8 .5 6.8 .5-2.9 .5-6.1 .5 3.6 .5-3.6 .5 8 .5 .9 .5-1.2 .5-3.6 .5-1.3 .5-2 .5 4.6 .5-3.1 .5 .8 .5-.6 .5 .7 .5 2.8 .5 1.8 .5-3.7 .5-.3 .5-2.8 .5-.3 .5 .3 .5 4.5 .5-1.6 .5 1.7 .5-1.4 .5-2.1 .5-2.2 .5 2 .5-2.8 .5 8 .5-4.3 .5-1.7 .5 5.3 .5-6 .5 2 .5-2.2 .5 .8 .5-2.4 .5 1.5 .5 1.6 .5-7.7 .5-2.5 .5 7.2 .5-4.4 .5 .5 .5-4.7 .5 3.4 .5-1.1 .5-10.6 .5 3.1 .5-6.2 .5-5.6 .5 1.2 .5-.1 .5-9.1 .5-2.7 .5 5.4 .5-7 .5-1.5 .5-8.1 .5-.7 .5 .6 .5-1.5 .5-1.4 .5 4.5 .5-5.5 .5-6 .5 3.2 .5 4.3 .5 6.5 .5-4.9 .5 3.5 .5 3.9 .5 .5 .5 2.5 .5 5 .5 6.9 .5 1.2 .5 .4 .5 4.8 .5-2.5 .5 9.2 .5 1.4 .5 .8 .5-3.4 .5 11.7 .5-8.6 .5 3.5 .5 1.5 .5 5.3 .5-4.6 .5 5.3 .5-.3 .5 .4 .5 3.4 .5 1.9 .5-2.1 .5-1.3 .5-3.3 .5 8.2 .5-4.1 .5-3.3 .5 4.8 .5 3.3 .5-3.7 .5-2.3 .5 7.7 .5-3.2 .5-.6 .5 1.8 .5-6.6 .5 4.1 .5-.1 .5 5.2 .5-6 .5 0 .5-1.9 .5 1.4 .5 1.5 .5 1.2 .5-1 .5 5.2 .5-3.5 .5 .4 .5 1.8 .5-1.8 .5-2.7 .5-2.4 .5 4.6 .5-2.8 .5 5.1 .5-4.9 .5-2.4 .5 4.4 .5 2.5 .5-3.1 .5 1 .5-.1 .5 3.8 .5-3.4 .5-.8 .5-1.3 .5-2.4 .5 7.2 .5-.6 .5-4.9 .5 3.7 .5-.7 .5-1.7 .5 .2 .5 2.6 .5-4.7 .5 1.7 .5 1 .5 .2 .5-.5 .5 1.1 .5 .7 .5-3.4 .5 2.4 .5-1.5 .5 4.9 .5-6.9 .5 2.8 .5 2.2 .5-2.3 .5-.2 .5-.4 .5 2 .5-3.5 .5 2.6 .5-.1 .5-3.2 .5 4.1 .5-1.7 .5 1.8 .5 1.4 .5-1.3 .5-3.5 .5 3.5 .5-4.5 .5 2 .5 5.7 .5-3.9 .5 3.7 .5-4.1 .5 .4 .5-2.6 .5 4.8 .5-2.6 .5 1.9 .5-.4 .5 .2 .5-.5 .5-.8 .5 .1 .5-1.6 .5-2.7 .5 5.5 .5 3.3 .5-1.9 .5 1.9 .5-3.3 .5-3.4 .5-.1 .5 4.1 .5-.9 .5-1.2 .5 2.1 .5-3.7 .5 3.2 .5-1.8 .5 1 .5 2.4 .5-3.1 .5 3.6 .5-.1 .5-4.9 .5 6.2 .5-7.3 .5 2.6 .5 2 .5-6.1 .5 6.8 .5 .3 .5-3 .5 .9 .5-.1 .5-1 .5 3 .5-3.4 .5 .8 .5 1 .5 1.1 .5 .6 .5-6.1 .5-.9 .5 4.1 .5 .2 .5-2.4 .5 3.2 .5 .8 .5-.6 .5 3 .5-6.3 .5 2.5 .5 4.3 .5-2.8 .5-4.2 .5 3.1 .5 2.3 .5 1.6 .5-2.8 .5 1.1 .5-5.3 .5 2 .5 3.4 .5-5.1 .5 2.1 .5-4.2 .5 7.9 .5-3.8 .5 1.6 .5-4.9 .5 .5 .5 7.4 .5-5.1 .5-.5 .5 2.5 .5 .1 .5-5.7 .5 2.1 .5 2.4 .5-.1 .5 .8 .5-1.8 .5 .3 .5 1.2 .5-2.1 .5-.4 .5 .7 .5 1.3 .5-.4 .5-.8 .5 .6 .5 .5 .5 .8 .5 .1 .5-3.9 .5 5.4 .5-6.1 .5 5 .5-2.9 .5 3 .5 1.1 .5-6.8 .5 5.8 .5-.8 .5-1.7 .5 1.9 .5-2 .5 1.4 .5-2.7 .5 4.3 .5-.5 .5 .4 .5-3.3 .5 5.8 .5 .2 .5-4.7 .5-.8 .5 .1 .5 2.5 .5 .8 .5-4.1 .5-2.7 .5 5.5 .5-1.2 .5 .5 .5 .8 .5-3.8 .5 2.8 .5-.9 .5 1.6 .5 1.9 .5-2.8 .5-2 .5 4.9 .5-1.3 .5-2.1 .5-3.8 .5 2.2 .5 2.4 .5 .9 .5-2.5 .5 2.3 .5-2.6 .5 .5 .5 2.3 .5-1.9 .5 .9 .5 1.8 .5 .6 .5-4.1 .5 .8 .5-2.5 .5 0 .5 3.8 .5-1.9 .5-3.1 .5 5.5 .5-3.2 .5 1.2 .5 1.7 .5 0 .5-1.1 .5-4.1 .5 5.6 .5-2.7 .5-1.9 .5-1 .5 7.3 .5-2.7 .5-.1 .5 1.2 .5-1.6 .5-3.3 .5 5 .5 .8 .5-1.1 .5 2.3 .5 .9 .5-6.3 .5 .8 .5 3.1 .5-1.6 .5 0 .5 1.7 .5-.4 .5-2.8 .5 1.3 .5-1.9 .5 1.2 .5-2.2 .5-1.7 .5 3.2 .5-.2 .5 3.4 .5 1.6 .5-3.6 .5 1 .5-2.6 .5-.6 .5 1.5 .5 0 .5 1.3 .5-.4 .5 3.6 .5-4.4 .5-3.3 .5 4.1 .5-1.8 .5 2 .5 2.1 .5-4.1 .5 1.3 .5 1.4 .5-3.4 .5 2.7 .5 .8 .5 .6 .5 .7 .5-1.3 .5-.4 .5-4.1 .5-1.2 .5 2.2 .5 5.5 .5-3 .5-4.7 .5 3.4 .5 1.8 .5-5.1 .5 5.6 .5-4 .5 5.1 .5-2.3 .5 4.4 .5-7.6 .5 3.8 .5-4.1 .5 6.1 .5-2.4 .5 1.8 .5-1.9 .5-2.9 .5 1.2 .5-1.4 .5 .4 .5 2.8 .5 2.2 .5-.5 .5-.8 .5-2.5 .5 2.4 .5-3.1 .5 2.4 .5 1.5 .5-2.4 .5-.6 .5 0 .5 2.5 .5-2.2 .5-2.6 .5 2.4 .5-1.6 .5 6 .5-3.5 .5-3.4 .5 4 .5 1.1 .5-.8 .5-1.8 .5 1.2 .5 .3 .5 1.7 .5-1.5 .5 3.6 .5-4.9 .5 4 .5-3.5 .5-4 .5 1.2 .5-1.5 .5 .2 .5 6.8 .5-4.3 .5 2.9 .5-3.5 .5 2.1 .5-2.5 .5 4.5 .5-2.6 .5-.5 .5 .7 .5 4.8 .5-3.4 .5 .9 .5-4.8 .5 1.3 .5 2.2 .5-5 .5 7.4 .5-2.5 .5-.6 .5-.5 .5-.1 .5-.6 .5 4.4 .5-1.6 .5 1.3 .5-3.6 .5-1.4 .5 5.2 .5-6 .5 1.4 .5 3.1 .5 .8 .5-5.6 .5 2.5 .5 .7 .5-.4 .5-1.7 .5 3.6 .5-2.9 .5 .7 .5-3.9 .5 4.2 .5-4.2 .5 6.1 .5-.5 .5-2.4 .5 1.6 .5-.1 .5-.6 .5 1.1 .5-1.1 .5-.8 .5-.8 .5 5.8 .5-3.5 .5-.5 .5 1.7 .5-2.6 .5 0 .5 2.5 .5 .8 .5-.8 .5-5.1 .5 3.6 .5-.2 .5 1.1 .5-3.1 .5-.4 .5 2.2 .5-1.8 .5-.4 .5 2.3 .5 2.3 .5-1.9 .5 2.3 .5-4.9 .5 3.9 .5-1.6 .5-2.1 .5 1.1 .5-1 .5 1.4 .5-1.2 .5 4.7 .5-3.8 .5-2.5 .5 2.9 .5 1.3 .5-1.6 .5 2.7 .5-4.1 .5 .1 .5 5.7 .5-3.7 .5 1.2 .5-.1 .5 .2 .5-1.3 .5-.5 .5 2.9 .5-3.6 .5 1.4 .5 1.3 .5-2.5 .5-2.7 .5 4.6 .5 1.5 .5-1.9 .5-4.5 .5 5.3 .5 3 .5-8 .5-.9 .5 3.9 .5 .7 .5 1.6 .5 .1 .5-1.7 .5 1 .5-.4 .5-.5 .5-.5 .5-.2 .5 2 .5-.7 .5-1.9 .5 3.5 .5-4.2 .5 1.1 .5 .8 .5-4.7 .5 3.5 .5 2.9 .5-.1 .5-4.7 .5 .9 .5-.6 .5 1.9 .5 .4 .5-3.5 .5 4.4 .5-.6 .5-.3 .5-1.4 .5 1.1 .5-3.7 .5 4.6 .5 0 .5-.8 .5-2.4 .5 5.6 .5-.3 .5-7 .5 5.3 .5-.6 .5-4.9 .5 5.7 .5 .3 .5 .2 .5-1.3 .5-1.9 .5 .3 .5 2.4 .5 1.5 .5-3.9 .5 .5 .5 2.3 .5-6.2 .5 5.6 .5-1.6 .5-4 .5 6.3 .5-3.9 .5 3.9 .5 1.4 .5-6.1 .5 .1 .5 2.7 .5-4 .5 5.7 .5-1.3 .5 1.9 .5-6.5 .5 4.7 .5 .5 .5-5.2 .5 6.2 .5-5.2 .5 3.6 .5-3.5 .5 4.8 .5 2.1 .5-3.8 .5 0 .5 2.9 .5-4.1 .5 1.2 .5 1.7 .5-.9 .5 2.7 .5-.9 .5 1.6 .5-4.4 .5 2.6 .5-4.5 .5 4 .5 2 .5 .2 .5-7.2 .5 2.5 .5 2 .5-3.7 .5 3.3 .5 0 .5-2.5 .5-.1 .5-.9 .5 2.8 .5 2.2 .5-2.3 .5 3.7 .5-7.8 .5 2 .5 2.9 .5-4.2 .5 3.4 .5 1.1 .5-1.5 .5-1 .5 2.7 .5-1.3 .5 .7 .5-.5 .5-2.9 .5-1 .5 1.6 .5 1.3 .5-.9 .5 2.6 .5-1.7 .5 1.7 .5-2.1 .5-2 .5 3.6 .5-.9 .5-3.2 .5 .9 .5 5.3 .5-9.2 .5 7.4 .5-2.7 .5-.3 .5-.7 .5-.6 .5 5.6 .5-5.6 .5 .2 .5 2.5 .5-1.1 .5-1.5 .5-.3 .5-2.7 .5 5.7 .5-5.4 .5-2.4 .5 7.2 .5-.9 .5-1.2 .5-2.3 .5 4 .5-5.9 .5-2.4 .5 5 .5 1.3 .5-.8 .5 2.8 .5-3.1 .5-3.2 .5-.4 .5 2.1 .5-3.1 .5-1 .5-5.2 .5 2.8 .5-3.9 .5 2.8 .5-1.7 .5-.1 .5 1.2 .5-7.8 .5 2.3 .5-10.3 .5 .9 .5-.7 .5-.5 .5-13.6 .5-1.4 .5-3.1 .5-5.5 .5-8.1 .5-7.7 .5-3.9 .5-.9 .5-10.4 .5 7.5 .5-7.2 .5-17.9 .5 1.8 .5 4.4 .5-2.1 .5-3.3 .5-12.3 .5 4.8 .5 8.5 .5-3.2 .5 .5 .5 7.8 .5 6.3 .5 1.1 .5 5.5 .5 8.5 .5-1.2 .5 4 .5 11.6 .5-2.1 .5 11 .5 .3 .5 9.8 .5-2.7 .5 11.4 .5 .7 .5 1.4 .5 1.2 .5 4.8 .5 .1 .5 1.4 .5 8.3 .5 .3 .5 3.2 .5-5.7 .5-.4 .5 1.9 .5 6.8 .5 1.2 .5-6.2 .5 8 .5-3.2 .5-1.5 .5 3.3 .5 2 .5-1.7 .5 .4 .5-1.4 .5-1.2 .5 2.9 .5-2.9 .5 5.7 .5-3.4 .5 5.5 .5-7 .5 7.6 .5-5.5 .5 .1 .5 3 .5 1.6 .5-2.2 .5-.6 .5 5.6 .5-3.3 .5-4.1 .5 2.4 .5 4.8 .5-3.2 .5 1.3 .5 2.7 .5-6 .5 2.4 .5-2.5 .5 1.7 .5 1.4 .5-4.5 .5 3.6 .5 0 .5 2.3 .5-3.9 .5-1.6 .5 4 .5-3.6 .5 3.2 .5 1 .5-3.5 .5 1.9 .5-2.2 .5-2 .5 1 .5-1 .5 4.7 .5-2.6 .5 2.2 .5 .3 .5 2.7 .5-3.4 .5-.1 .5 2.2 .5 2.7 .5-4.1 .5 1.1 .5-1.3 .5-1.2 .5-2 .5 3.5 .5-.4 .5 .1 .5 5.2 .5-5.4 .5 1.6 .5-1.6 .5 3.7 .5-3.5 .5 5.1 .5-5 .5 2.5 .5 .6 .5-3 .5 2.6 .5-1.9 .5-2 .5 .3 .5 2.4 .5 3.5 .5-5.5 .5 2.5 .5-3.2 .5 2.5 .5-3.7 .5 1.3 .5 1.8 .5-1.7 .5 1.1 .5 3.1 .5-2.7 .5-1.4 .5-1.3 .5 1.7 .5 4.1 .5-3 .5-.1 .5 2.1 .5 .2 .5 .4 .5-3.2 .5-1.3 .5-1.8 .5 2.3 .5 .8 .5 2.6 .5-1 .5-2.1 .5 3.5 .5-5.1 .5 .5 .5-.3 .5 .2 .5 2 .5-1.4 .5 .2 .5 5 .5-6.7 .5 1.1 .5 1.8 .5 1.7 .5 .1 .5-1.8 .5-.2 .5 .2 .5 2.4 .5-4 .5-2.3 .5 5 .5-3.2 .5 2.6 .5 3.5 .5-3.1 .5 4.1 .5-8.1 .5 4.3 .5 .4 .5 1 .5-3.7 .5 2.2 .5-.1 .5-.1 .5-3.5 .5-.8 .5 5.4 .5-.5 .5-.7 .5 1.4 .5 1.1 .5-5.4 .5 4.7 .5 1.7 .5-1.1 .5-1.1 .5 .3 .5-5.1 .5 2.3 .5 3.6 .5 1.1 .5-2.4 .5-2.2 .5 .7 .5 2.4 .5 2.4 .5-2.5 .5-3.1 .5 2.7 .5-.5 .5 3.4 .5-3 .5-1.3 .5-.3 .5-2.7 .5 .4 .5 1.4 .5-.8 .5 2.4 .5-.2 .5 2 .5 1.3 .5-3.2 .5-.8 .5-4 .5 5.3 .5 .7 .5-3.4 .5 .9 .5-.7 .5 4.2 .5-1.1 .5 1.4 .5-5.7 .5 7.2 .5-6.4 .5-.4 .5 2.9 .5-1.8 .5 5.6 .5-5.3 .5-.6 .5 3.9 .5 .6 .5-4.9 .5 .9 .5 .2 .5 .5 .5 4.5 .5-1.1 .5-.5 .5 .5 .5-3 .5 2 .5-2.2 .5-1.6 .5 5.7 .5-8.1 .5 4.2 .5-1.4 .5-2.6 .5 3 .5 1.1 .5 .9 .5-3.1 .5 3.8 .5-1.1 .5 1.2 .5-6.4 .5 3.4 .5-.4 .5 2.9 .5-3.2 .5 .6 .5-1.6 .5-.1 .5 .6 .5 4.5 .5-4.8 .5-2 .5 5.2 .5-1.8 .5 2.4 .5 0 .5-2 .5-.3 .5-.3 .5 1.3 .5-1.9 .5 2.3 .5 2.9 .5-4.9 .5 .1 .5 0 .5 2.9 .5 .1 .5 1.9 .5-1.7 .5-1.4 .5 .7 .5-4.2 .5 4.5 .5-.9 .5 4.1 .5-1.3 .5-5.2 .5 .6 .5 3.4 .5-6.6 .5 2.3 .5 3.1 .5 .6 .5-1 .5 2.3 .5-3.4 .5 .8 .5-.7 .5-2.1 .5 2.7 .5-1.4 .5 1.5 .5-4.8 .5 4.8 .5-1.6 .5-.1 .5 1.5 .5-1.2 .5 3.3 .5 .8 .5-.9 .5 .2 .5-1.5 .5-.8 .5-3.1 .5 2.2 .5 3.7 .5-1 .5-3.1 .5 1.5 .5 2.2 .5-2.9 .5 4.2 .5-5.7 .5 3.7 .5-.2 .5-1.3 .5 .3 .5 .6 .5-5.9 .5 5.7 .5 1.6 .5-1.8 .5 1.7 .5-5.5 .5 2.6 .5 1 .5-1.5 .5 3.5 .5-1.7 .5-2.4 .5 3.1 .5 0 .5-3 .5 2.5 .5-.6 .5-.1 .5-3.9 .5 6 .5-1.5 .5-1.6 .5 .8 .5 0 .5-1.6 .5-.7 .5 1.6 .5-1.7 .5 .2 .5-1.7 .5 2.1 .5 3.1 .5-2 .5-.4 .5-1 .5-.3 .5-2.7 .5 7.6 .5-5.8 .5-1.9 .5 4.5 .5-.4 .5-2 .5-2.4 .5 .2 .5 7.1 .5-4.2 .5-1.4 .5 6 .5-6 .5-1 .5 3.5 .5-.6 .5 2.8 .5-7.8 .5 4.4 .5-5.1 .5 5.1 .5-2.9 .5 .2 .5-.9 .5 3.7 .5 1.6 .5-4.6 .5-.8 .5-1.1 .5 2.2 .5-4.6 .5 7 .5-6.2 .5 4.3 .5-5 .5-5 .5-1.7 .5 1.8 .5-2.2 .5-.2 .5-4.3 .5 6.9 .5-2 .5-13.2 .5 4.5 .5-.4 .5-7.5 .5-2.7 .5 1.3 .5-5.1 .5-9.3 .5 5 .5-9.5 .5 4.9 .5-13.7 .5-6.9 .5 4.2 .5 1.4 .5-5.3 .5-3.6 .5-6 .5 6.1 .5-11.6 .5 10.6 .5-7.3 .5 3.7 .5-1 .5 3.9 .5 12 .5-7.2 .5 8.4 .5-.3 .5 10.2 .5-5.1 .5 8.4 .5 6.5 .5 6.7 .5-7.2 .5 4.2 .5 5.6 .5 7.5 .5-5.2 .5 7.9 .5-2.1 .5 .9 .5 .2 .5 6.6 .5 3.9 .5-1.7 .5-3.4 .5 4.5 .5 5.1 .5 .5 .5-.8 .5 3.8 .5-6.6 .5 .7 .5 8.7 .5-2.9 .5-1.9 .5-.4 .5-3 .5 6.9 .5-6.4 .5 .2 .5 4.6 .5 4.1 .5-4.6 .5 2.1 .5-1.9 .5 2.2 .5-5 .5 9.1 .5-7.1 .5 3.9 .5-5.8 .5 9 .5-3.3 .5 3.9 .5-6.4 .5 4.3 .5-3 .5 .4 .5 3.4 .5-5.4 .5 4.1 .5 3 .5-.3 .5-1.7 .5-1.8 .5-3.1 .5 6 .5-5.2 .5 4.7 .5-3.8 .5 .9 .5 0 .5 1.5 .5-2.5 .5 1.5 .5-1.7 .5 2.6 .5-.5 .5 .3 .5-3.1 .5 2.9 .5-.7 .5 1.4 .5-1.3 .5-2.5 .5 4.1 .5-3.4 .5 2.4 .5-5.2 .5 5.7 .5 .4 .5-3.9 .5 3.7 .5-2.4 .5 4.3 .5-1.7 .5-4.8 .5 2.6 .5-3.9 .5 3.5 .5 2.1 .5 .7 .5-2.4 .5-.3 .5 .9 .5-2 .5 2.2 .5 1.9 .5-2.4 .5 1.5 .5-4.2 .5 .5 .5 1.9 .5 3.6 .5-2.5 .5 1.5 .5-4.5 .5 2.6 .5-7.8 .5 5.1 .5-6.6 .5 7.5 .5-2.6 .5 1.2 .5-2.6 .5-3 .5-1.3 .5 1.8 .5 2.9 .5-3 .5-3.8 .5-.6 .5-.8 .5 1 .5 .1 .5-1.2 .5 1.3 .5-4.2 .5 9 .5-3.3 .5 4 .5-2.8 .5-.7 .5 1.4 .5 1 .5-1.6 .5 1.4 .5 6.6 .5-1.8 .5-3.2 .5 3.3 .5-2.9 .5 6.2 .5-5.7 .5 5.3 .5-1.8 .5 .3 .5-1.7 .5 1.6 .5-1 .5 0 .5 3.5 .5 3.6 .5-5.3 .5 3.4 .5-2.3 .5-1.6 .5 5.1 .5-1.7 .5 1.3 .5-2.4 .5 .1 .5-2.3 .5 1.4 .5 4.8 .5-8.7 .5 5.6 .5 2.7 .5-1.6 .5 .2 .5-2.7 .5 3.4 .5 0 .5-2.8 .5 4.1 .5-5.2 .5-3.4 .5 4.6 .5-.2 .5-1.8 .5 1 .5-.2 .5-3.1 .5 7.4 .5-2.9 .5 4.4 .5-4.5 .5 1 .5-4.5 .5 6.1 .5-5.1 .5 3.9 .5 1 .5-.4 .5-3.8 .5 0 .5 3.8 .5 1 .5 .7 .5-3.6 .5-.2 .5 4.6 .5-5.7 .5 3.2 .5-2.5 .5-2.7 .5 .7 .5 3.8 .5-.5 .5 .6 .5-2 .5-.4 .5 1.9 .5-1.1 .5-3.4 .5 2.8 .5 5.1 .5-5.9 .5 3.2 .5-1.5 .5 1.9 .5-3.8 .5-1 .5 4.1 .5-2.7 .5 1.6 .5-.7 .5 3.1 .5-1.7 .5-.3 .5-2.6 .5-1.5 .5 1.8 .5 4 .5-.4 .5-.2 .5-2.4 .5-1.5 .5 5.2 .5-2.3 .5 .9 .5-3.6 .5 .7 .5 3.1 .5 .3 .5-4.2 .5 3.1 .5-3.5 .5 5.7 .5-1.3 .5 2.9 .5-.9 .5-5.2 .5 2.1 .5-1.6 .5 1.4 .5 1.6 .5-1.9 .5 .2 .5-3.4 .5 4.6 .5-1.4 .5 1.5 .5 1 .5-2.4 .5 1.6 .5-3.1 .5 3.7 .5-2.3 .5-1.4 .5 .9 .5-2.8 .5 1.8 .5 .5 .5 1.1 .5-.3 .5-1.3 .5 1.1 .5-4.1 .5 4.7 .5 1.2 .5 .5 .5 .7 .5-3.1 .5 .3 .5-.9 .5 0 .5 1.4 .5 2.9 .5-7.2 .5 2.9 .5 1.8 .5-3 .5 3.3 .5-4.2 .5 2.4 .5-3.1 .5 4.6 .5-2.5 .5 3.3 .5-2.2 .5-1.6 .5 1.3 .5 1.3 .5-.3 .5-.6 .5-.2 .5 .8 .5 2 .5-3.4 .5 2.4 .5-4.1 .5 5.3 .5-1.4 .5-1.6 .5 0 .5-3.2 .5 4.2 .5-.8 .5-2.7 .5 2.3 .5 2.4 .5-1 .5 .2 .5-1.9 .5 3.3 .5-2.1 .5 2.1 .5 2.6 .5-9 .5 3.2 .5 1.2 .5-1.7 .5 4.2 .5-3.3 .5 4.8 .5-2.2 .5-.8 .5-1 .5 2 .5-.8 .5 2.3 .5-2.5 .5 1.5 .5-1.5 .5-.1 .5-4.5 .5 3.7 .5 .9 .5-3.7 .5-.5 .5 2.6 .5 1.4 .5-4.7 .5 4.7 .5 1.5 .5-2.8 .5 1.2 .5 .5 .5-2.7 .5 3.1 .5-.4 .5-4 .5 4.1 .5 .9 .5-4.6 .5 4.5 .5-2.6 .5-2.6 .5 .8 .5 .3 .5 3.4 .5-2.4 .5 .2 .5-2.1 .5 3 .5-2.9 .5 1.3 .5 3 .5 .2 .5-2.9 .5 1.2 .5 1.3 .5-1.2 .5 2.8 .5 .3 .5-3.3 .5-2.7 .5 2.5 .5 3.6 .5-.5 .5 .1 .5-.2 .5-3.8 .5 1.8 .5 2 .5-2 .5 1.5 .5-4.5 .5-.5 .5 7.4 .5-2.7 .5-.3 .5 2 .5 1 .5 0 .5-9 .5 5.4 .5 1.6 .5-7 .5 .3 .5 3.8 .5 4.9 .5-2.2 .5 2.2 .5-3.8 .5 1.9 .5 1 .5-2.5 .5-1.1 .5 .3 .5-4.8 .5 5.3 .5-5.2 .5 2.5 .5 3.6 .5-.7 .5-5.5 .5 5.8 .5 .5 .5-1.3 .5 1.1 .5-.3 .5-5.4 .5 3.6 .5-.2 .5-2.2 .5 2.8 .5-1.9 .5 1.8 .5-1.9 .5 4.6 .5 2 .5-5.9 .5 1.5 .5 0 .5 .9 .5-1.5 .5-4 .5 5.3 .5-1.2 .5-2.2 .5 2.1 .5-.8 .5 1.8 .5-1.3 .5 .1 .5 .9 .5 .3 .5-.5 .5 2.7 .5-2.2 .5-2.4 .5 5.9 .5-3.8 .5 3.5 .5-6.3 .5 3.9 .5 2.7 .5-1 .5-2.9 .5-1.6 .5 0 .5 1 .5-1.9 .5 .5 .5-.6 .5 0 .5 3 .5-4.8 .5 4.6 .5 1.3 .5-3.9 .5 0 .5 2.3 .5-.2 .5 2.4 .5-6.7 .5 4.2 .5 3.6 .5-3.2 .5 4 .5 .4 .5-5.9 .5 4.9 .5-2.3 .5-1.3 .5-.6 .5 .1 .5-1.7 .5 1.8 .5 2.7 .5 .7 .5-3.9 .5 2.2 .5-.1 .5-5.7 .5 6.2 .5-4.6 .5 .2 .5 4.7 .5 2 .5-6.6 .5 .5 .5-.2 .5 1 .5 .4 .5-1.1 .5-1.9 .5 8.1 .5-5.4 .5-.6 .5 3.9 .5-3 .5 3.5 .5-.8 .5 .5 .5-3.3 .5 2.5 .5-5.2 .5 .4 .5 3.4 .5-.9 .5 4 .5-3.9 .5-3.5 .5 4.3 .5-.8 .5 1.1 .5-3.2 .5 .9 .5 2 .5 1.6 .5-.8 .5 .9 .5-5.3 .5 3 .5 1 .5 1.8 .5-1.7 .5-1.2 .5 .3 .5 .1 .5-3.2 .5 3.4 .5 1.9 .5-.2 .5-6.2 .5 4.5 .5-3.6 .5 6.2 .5-1.4 .5 .4 .5-3.2 .5-3 .5 2.1 .5 1.6 .5-2.7 .5 1.1 .5 6.6 .5-7.3 .5 4.4 .5-5.7 .5 5 .5 1.4 .5-.9 .5 1.8 .5 1.4 .5-7.6 .5 3.9 .5 .6 .5-.2 .5 2.8 .5-3.2 .5 2.3 .5-.2 .5-2.4 .5 1 .5-3.2 .5 2.6 .5-.3 .5-.8 .5-.8 .5 3.5 .5-2.6 .5 4.7 .5-1.4 .5-1.3 .5-3.2 .5 3.5 .5-1.8 .5-.1 .5-2.9 .5 4 .5-.8 .5-1.7 .5-.6 .5 1 .5-2.6 .5 1.8 .5 4.6 .5-4.9 .5 5.9 .5-7.7 .5 5.8 .5-.1 .5 .1 .5-1.5 .5-5.4 .5 6.5 .5-.3 .5-2.7 .5-5.1 .5 7.2 .5-5.2 .5 1.3 .5 3.4 .5-.1 .5-2.7 .5-2.8 .5 5.2 .5-1.9 .5-3.8 .5-2.6 .5 2.6 .5-4.8 .5 7.6 .5-3.9 .5-2.7 .5 1.5 .5-5.9 .5 3.9 .5-1.8 .5-2.6 .5 2.5 .5 2.7 .5-4.5 .5 3.6 .5-3 .5 4.9 .5-4.7 .5 7 .5 .5 .5 .9 .5 3.1 .5-3.7 .5 .4 .5 1.7 .5-2.2 .5-3.1 .5 2.1 .5 .3 .5 3.9 .5-1.8 .5 .9 .5 2.6 .5-.7 .5 4.3 .5-4.6 .5-2 .5 5.5 .5-4 .5 1 .5 2.6 .5-1.9 .5 1.3 .5-3.1 .5 .9 .5 2.3 .5-2.8 .5 .4 .5 .9 .5 3.9 .5-.2 .5-3 .5-.4 .5-1.8 .5 4.9 .5-2.2 .5 1.3 .5-5.6 .5 5.4 .5-1.6 .5 1.5 .5 .7 .5-2.5 .5-.9 .5 2.6 .5-4.5 .5 6.3 .5-2.6 .5-3.5 .5 5.8 .5-.8 .5 1.4 .5-1.3 .5-1.2 .5-1.2 .5-2.4 .5 4.3 .5-.4 .5-2.4 .5 2.4 .5-3.5 .5 4.7 .5-2.2 .5 .2 .5-2.3 .5 4 .5-1.9 .5-1.7 .5 2.3 .5-1.5 .5 3 .5-6.1 .5 .9 .5 7 .5-5.4 .5 2.3 .5-2.1 .5 1.4 .5 3.8 .5-9 .5 6 .5-1.1 .5-.1 .5-2 .5-.3 .5 5.5 .5-2.1 .5-4 .5 2.8 .5-3.2 .5 7.5 .5-3.4 .5-5.2 .5 6.5 .5-.7 .5-.7 .5-.4 .5-1.7 .5 .9 .5-4.3 .5 7.8 .5 1.2 .5-3.1 .5 .3 .5-4.8 .5 2.3 .5-2.4 .5 .3 .5 4.4 .5 2.1 .5-3.6 .5 4.5 .5-2.3 .5-6.7 .5 3.7 .5 4.1 .5-2.8 .5 2.2 .5-6.6 .5 7.1 .5-5.9 .5 3.7 .5 3.5 .5-4.2 .5-.7 .5 2.4 .5-3.8 .5-.3 .5 4.6 .5-5.9 .5 .6 .5 7.1 .5-7.2 .5 4.1 .5 1.6 .5-2.8 .5-2.4 .5 4.5 .5-4.2 .5 6.6 .5 0 .5-6.8 .5 3.8 .5-3.1 .5 2.6 .5-1.5 .5-1.7 .5 3.5 .5-5.2 .5 4.7 .5-1.1 .5-1.5 .5 4 .5-2 .5-1 .5 .5 .5-.2 .5 2.8 .5-2.9 .5-3.9 .5 0 .5 2 .5-.5 .5 2.4 .5-2.6 .5 1.3 .5 5.1 .5-6.4 .5 5.3 .5-2.4 .5 3.5 .5-1 .5-2 .5 2.4 .5-2 .5-3.2 .5 3.9 .5 0 .5-1.5 .5 .9 .5-1.6 .5 1.8 .5-1.5 .5-3 .5 3.1 .5 4.4 .5-1.8 .5 1.6 .5-3.6 .5-1 .5-1.5 .5 2.9 .5 2 .5-.4 .5-.2 .5-3 .5 1.4 .5-2.1 .5 3.9 .5-.6 .5-2.9 .5 1.8 .5-5 .5 6.4 .5-3.7 .5 1.1 .5 2.3 .5 .2 .5-3.3 .5 5.4 .5 .6 .5-.9 .5-.3 .5-3 .5 3.2 .5-5.5 .5-.5 .5 3 .5 .2 .5-2.7 .5 6.4 .5-7.8 .5-1.2 .5 3.7 .5 4.9 .5-2.1 .5-1 .5-.5 .5 1 .5-.6 .5-.5 .5-.6 .5-3.5 .5 6.1 .5-3.3 .5 1.9 .5 .3 .5 1.3 .5-4.4 .5 3.9 .5 0 .5-2.3 .5 .1 .5 .5 .5-2.8 .5 1.4 .5-1.7 .5 5.6 .5-4.7 .5-.8 .5 3 .5 .9 .5-2.2 .5-1.4 .5 3.3 .5 1 .5-6 .5 6.1 .5-6.4 .5 5.8 .5-2.6 .5 .4 .5 2.3 .5 1.8 .5 1 .5-1.2 .5-1.7 .5-4.8 .5 2.2 .5 1.3 .5-1.8 .5 2.8 .5-2 .5 4.9 .5-4.8 .5-2.6 .5 1.8 .5-.5 .5 3.4 .5 1.7 .5-.9 .5 0 .5-4.2 .5-1 .5 .7 .5 2 .5-.9 .5 1.5 .5 1.8 .5-2.3 .5 3.9 .5-6 .5 3.4 .5-1.7 .5 2.5 .5-2.5 .5-1.2 .5 .9 .5-1.8 .5-.6 .5 4.6 .5-3.4 .5 4.3 .5 1.5 .5-5.4 .5 3 .5-2.4 .5-4.4 .5 4.3 .5 3.8 .5-6.6 .5 2.5 .5-.1 .5-3.2 .5 4.3 .5-1.2 .5 1.6 .5-1.3 .5-3.7 .5 3.7 .5 1.1 .5-2.3 .5 1.9 .5-.2 .5-6.3 .5 6.1 .5-6.5 .5 1.2 .5 2.6 .5-2.4 .5 0 .5 4.4 .5-6 .5 5.2 .5 1.1 .5-1.8 .5-7.2 .5-2 .5 3.3 .5 4 .5-6.7 .5-2.1 .5 0 .5 1.2 .5 0 .5-4.7 .5-1.7 .5 .6 .5-2.7 .5-2.6 .5-5.2 .5 4.7 .5-3 .5 .5 .5-.5 .5-1.9 .5 4.6 .5 2 .5-1 .5-2.7 .5 3.5 .5 2.7 .5-1.1 .5 3.6 .5-4.7 .5 4.8 .5 5.9 .5 0 .5-1.9 .5 1.8 .5 5.9 .5-1.2 .5-3.9 .5 3.5 .5-1.2 .5 .4 .5-1 .5 5.5 .5 3.5 .5-2.2 .5-5 .5 4.9 .5-4.7 .5 4.5 .5 2.3 .5 1.2 .5-3.1 .5 .6 .5-.6 .5-.3 .5 4.3 .5-6 .5-1.5 .5 8.2 .5 .4 .5-8.4 .5 6.2 .5-.3 .5-2.9 .5-1.3 .5 2.8 .5-1.2 .5 2.9 .5-3.5 .5 4.4 .5-4.4 .5 5.5 .5-1.7 .5 .6 .5-3.7 .5 .4 .5 .3 .5 3.1 .5-4.4 .5-.3 .5 1.3 .5 1.5 .5-1.1 .5 0 .5-3 .5 1.7 .5-1.1 .5 5.1 .5-2.6 .5 1.7 .5-4.8 .5 3 .5 1 .5-3.5 .5 1 .5 .3 .5 1.6 .5 .3 .5-4.2 .5 4.3 .5-.4 .5 .2 .5-2.9 .5 1.9 .5 3.3 .5-.4 .5-4.4 .5 5.4 .5-5 .5-1.3 .5 4.8 .5-2 .5 3.7 .5-5.4 .5 .8 .5 1.2 .5-1.3 .5-1.9 .5 .7 .5-.4 .5-.4 .5-.4 .5-4.3 .5 5.7 .5-4.4 .5 .4 .5-2.1 .5 .8 .5 2.4 .5 0 .5-3.3 .5-1.3 .5-2.7 .5-.2 .5 .6 .5-1.9 .5-3.1 .5 2.3 .5-3.7 .5 7.9 .5-4.8 .5-2.6 .5 3 .5-3.2 .5 1.7 .5 5.6 .5-.1 .5-6.2 .5 1 .5 2.5 .5 7.5 .5-4.2 .5 1.4 .5-1.2 .5 5.6 .5-.2 .5-6.3 .5 2.9 .5-1.9 .5 2.3 .5 1.4 .5-.8 .5 2.2 .5 3.7 .5 1.4 .5-2.2 .5 1.8 .5-5 .5 7.2 .5 1.3 .5-4.9 .5 1.9 .5-.4 .5-5.4 .5 7.2 .5-1.2 .5-5.1 .5 3 .5 3.9 .5-1.4 .5-4.7 .5 2 .5-.2 .5 2.1 .5-2.1 .5 1.9 .5-.5 .5-3.2 .5 4.6 .5-.3 .5-2.3 .5 3.5 .5 2.9 .5-8.5 .5 4.4 .5 1.5 .5-1.9 .5-1.5"/>
<path stroke="#0000ff" d="M406.5,488.7l.5-21.8 .5 13.5 .5-5.5 .5 .8 .5 1.5 .5-9.5 .5 9.7 .5-3.4 .5 15.8 .5-9.3 .5-3.1 .5 .5 .5-2 .5-2 .5 3.9 .5 5.1 .5-3.9 .5 6.8 .5-6.3 .5 1.4 .5 8.6 .5-5.4 .5-5.6 .5 1.9 .5 4.2 .5 7.6 .5-11.7 .5 .3 .5 6.9 .5-10.1 .5 3.4 .5 6.6 .5-1.5 .5-2.5 .5 3.3 .5-13.7 .5 15.9 .5-10.5 .5-3.6 .5 10.6 .5 2.4 .5-5.9 .5-3.2 .5 6 .5-.2 .5 7.9 .5-3.3 .5-2.8 .5 5 .5-6.7 .5-3.6 .5 8.1 .5 .1 .5-4 .5-2.7 .5 5.4 .5-10.8 .5 13.5 .5-.8 .5-10.8 .5 8.9 .5-5 .5 8.9 .5-13.3 .5 5.2 .5 8.4 .5 2.5 .5-15.3 .5 7.3 .5 4.3 .5-4.5 .5 11.2 .5-13.8 .5 8 .5-6.9 .5 12.5 .5-7 .5-1.5 .5-6.5 .5 17 .5-4.4 .5 .2 .5 2.1 .5-3.7 .5-4.7 .5-.6 .5 .2 .5 10.8 .5-13.5 .5 4.4 .5 1.5 .5 2.8 .5 1.9 .5-8.5 .5-2.1 .5 8.5 .5 6 .5-2 .5-2.4 .5-2.3 .5 3.1 .5-2.3 .5 5.2 .5-7.3 .5 4.6 .5-1 .5 3.3 .5-1.2 .5 8 .5-1.7 .5 .2 .5-15.4 .5 7.4 .5-1 .5 5.5 .5-10.9 .5 14.3 .5-.3 .5-10.5 .5 1.7 .5 1 .5 4.1 .5 2.9 .5 5.9 .5-9.2 .5 4.6 .5-2.5 .5 7.3 .5-4.3 .5 3 .5-10.6 .5 4.2 .5-2.5 .5 10.4 .5-3.5 .5-3.9 .5-.5 .5 4.4 .5-5 .5-.7 .5 6.3 .5 6.4 .5-9 .5-1.1 .5-2.4 .5-.5 .5 8.2 .5 1.6 .5-3.4 .5 1.6 .5-.7 .5 .3 .5-6.7 .5 4.7 .5 2.6 .5-3.5 .5 1.5 .5-1.2 .5 2.2 .5 5.1 .5-5 .5 1.3 .5 4.2 .5-.5 .5 4.5 .5-14.6 .5 11.5 .5-5.3 .5 2.7 .5 3.1 .5 1.2 .5 0 .5-3.4 .5 6 .5-7.4 .5 .7 .5 4 .5-5.3 .5 10 .5-3.4 .5 3.7 .5-7.5 .5-1.3 .5 2.4 .5 2.3 .5-5 .5 4 .5-1.5 .5 6.6 .5-8.8 .5 6.8 .5-6.4 .5-1.1 .5 1.1 .5-1.7 .5 5.4 .5 3.5 .5-3.2 .5 1.9 .5 4 .5-5.1 .5-.1 .5-1.7 .5-4.9 .5 9.2 .5-9.5 .5 9.3 .5-2.4 .5 4.5 .5-4.4 .5-2.7 .5 4.6 .5-3.4 .5 1.6 .5 1 .5-.6 .5 0 .5-2.3 .5 2.5 .5-6.2 .5 6.6 .5-3.7 .5 8.7 .5 .7 .5-11.6 .5 7.6 .5-.8 .5-3.3 .5 5.9 .5-3.5 .5-4.6 .5 5.6 .5 .5 .5 1.1 .5-4.8 .5 6.8 .5 .6 .5-6.7 .5 1.9 .5 2.2 .5-1.6 .5 8.4 .5-5.4 .5-4.3 .5 .9 .5 2.8 .5 7.1 .5-7.4 .5 1.2 .5 1.5 .5-1.8 .5 7 .5-8.6 .5 4.7 .5-2 .5 1.7 .5-6.2 .5 10.5 .5-6.5 .5 .6 .5-3.3 .5 .8 .5 4.7 .5 1.5 .5-.7 .5 1.7 .5-1.6 .5-2.3 .5 2.9 .5-.7 .5-2.3 .5 2.9 .5 2.1 .5-3.6 .5-1.9 .5 3.8 .5 4.1 .5-7.1 .5 .5 .5 0 .5 4.7 .5-10.3 .5 7.6 .5 2.9 .5-6.7 .5 7.9 .5-3.2 .5-3.5 .5 2.6 .5-5.8 .5 3.4 .5 8.1 .5-9 .5 9.3 .5-6.4 .5 3.7 .5-3.1 .5-6.4 .5 4.6 .5 2.6 .5-4.4 .5-.5 .5 5.7 .5-3.2 .5-3.4 .5 3.4 .5 5.2 .5-4.3 .5 4.7 .5 2.1 .5-4.9 .5-3.7 .5-.4 .5 4.2 .5 3.1 .5-1.9 .5 .9 .5-3.1 .5 2.5 .5-2.4 .5 .6 .5-3.1 .5-.8 .5 3.6 .5-1.9 .5 .5 .5 5.4 .5-2.5 .5 6.6 .5-3.1 .5-4.9 .5 4.6 .5-1.3 .5-3.2 .5 5.8 .5-5.9 .5-3.5 .5 8.6 .5-4.4 .5 6.8 .5-6.7 .5-1.6 .5 8.7 .5-8.2 .5 4.1 .5 4 .5-4.1 .5-.6 .5 .7 .5 2.4 .5-5.1 .5 4.5 .5 0 .5 4.2 .5-6.9 .5-1.7 .5 5.2 .5-3.5 .5 2.2 .5-.4 .5 3.3 .5-5.6 .5 1.9 .5-5.6 .5 3.2 .5 7.6 .5-6.8 .5 .1 .5-1.6 .5 5.6 .5-1.1 .5-4.1 .5 5.7 .5-1.1 .5 1.5 .5-4.2 .5 7.4 .5-4 .5-1.5 .5-1.2 .5 .9 .5 3.5 .5-3.4 .5 4.2 .5-1.5 .5 2.4 .5-1.5 .5-2.6 .5-5.5 .5 6.7 .5 1.6 .5-1.8 .5 1.2 .5-3 .5 .3 .5-1.6 .5 7 .5-3.5 .5-1.9 .5-2.4 .5 3.6 .5 4.8 .5-2.9 .5-3.4 .5 6.4 .5 .1 .5-1.3 .5-.5 .5 1.2 .5-1.8 .5 .8 .5-4.5 .5 6.8 .5-3.7 .5 5 .5-11.1 .5 7.7 .5 .9 .5-3.8 .5 2.3 .5 1 .5-.5 .5-3.1 .5 1.2 .5 3.4 .5 .8 .5-3.3 .5 0 .5 .4 .5 2.5 .5-6 .5-.7 .5 4.2 .5-3.4 .5 1.5 .5 2 .5 1.2 .5-4.4 .5 5.5 .5-7.4 .5 6.8 .5-6.1 .5 1 .5 5.5 .5-2.9 .5-1.1 .5 1.1 .5 2.6 .5-1.4 .5 .2 .5 3.1 .5-5 .5 .8 .5-.1 .5 4.8 .5-.4 .5 .9 .5-3.7 .5-.3 .5 2.9 .5-3.4 .5 3.5 .5-.3 .5-3.9 .5 1.8 .5-.1 .5 5.3 .5 .5 .5-5.6 .5 .4 .5-5.3 .5 6 .5-.6 .5-2.9 .5 5.2 .5-6.5 .5 3.8 .5 1.1 .5-3.8 .5 5.8 .5 .6 .5-6.7 .5 0 .5 5.6 .5-1.7 .5-3.2 .5 2.6 .5 .6 .5-.1 .5 2.7 .5-1.1 .5 3.8 .5-1 .5-1.9 .5 1.1 .5 .8 .5-1.7 .5-5.2 .5 5.7 .5-2.1 .5 4.3 .5-4.1 .5 1.2 .5-.5 .5 3.7 .5-4 .5-1.2 .5 1.7 .5-2 .5 1.7 .5-.5 .5 .8 .5 4.5 .5-6.2 .5 1.2 .5-.5 .5 2.3 .5-4.9 .5 1.4 .5 1.8 .5 1.6 .5-1.6 .5-1.1 .5-1 .5 3.8 .5 2.5 .5-3 .5-.3 .5 .7 .5-3.6 .5 1.7 .5 .2 .5 1.5 .5-.8 .5-3.1 .5 6.2 .5 1.6 .5-5.2 .5 1.8 .5-.3 .5 1.4 .5-6 .5 8.3 .5-5.5 .5 4.6 .5-3.1 .5-1.2 .5 .7 .5 2.8 .5-4.6 .5 1.3 .5-.3 .5-3.2 .5 8 .5-1.9 .5-1.5 .5 3.1 .5-5.5 .5 2.3 .5 4.8 .5-2 .5-7.5 .5 .1 .5 2.2 .5 5.6 .5-4 .5 .7 .5 2.1 .5-3.8 .5 2.9 .5 1.5 .5-.8 .5-.2 .5-2.6 .5 2.9 .5-2.4 .5 4.5 .5 1.6 .5-6.8 .5-3.1 .5 3.9 .5 2.1 .5 1.8 .5 .1 .5-4.9 .5 0 .5 5.4 .5-6.1 .5 5.7 .5-3.4 .5 2.6 .5-.1 .5 .2 .5 .1 .5-4.7 .5 3.4 .5-.8 .5 .8 .5 2.4 .5-3.9 .5-1.1 .5 0 .5 1.1 .5 2.8 .5-4.1 .5 5.2 .5-2.3 .5-1.3 .5-2.9 .5 4.2 .5 1.1 .5-6.3 .5 7.7 .5 1.2 .5-3.4 .5 .4 .5 3.7 .5-1.8 .5-5.5 .5 2.3 .5-.3 .5 0 .5-4.5 .5 6.9 .5-3.6 .5 2.1 .5-.8 .5 2.6 .5-3 .5-1.3 .5 3.5 .5 2.3 .5-4.5 .5 4.4 .5-2.9 .5-2 .5 5.3 .5-6 .5 4.7 .5-3.9 .5 2.5 .5-4.4 .5 1.1 .5 4.9 .5-2.3 .5-.3 .5-1.3 .5 2.3 .5-4.7 .5 .7 .5 2.5 .5-1.7 .5 .3 .5 1.6 .5-.1 .5-.2 .5 4.8 .5-1.6 .5 .5 .5-3.2 .5-1.2 .5-2.5 .5 2.9 .5-4 .5 3.4 .5 3.4 .5 2.3 .5-1.7 .5-4.7 .5 3.5 .5-3.4 .5 4.2 .5-2.4 .5 2.5 .5 2.7 .5-2.5 .5 2.5 .5-4.5 .5-1.3 .5 4.3 .5 1 .5-5.9 .5 1.7 .5-3.9 .5 3.2 .5 2.8 .5-2.5 .5-1.3 .5-2.2 .5 4.6 .5 1.1 .5-.5 .5-.9 .5-3.9 .5 7.8 .5-4.7 .5-.2 .5 2.3 .5-6.8 .5 4.7 .5-.2 .5 1.3 .5 2.5 .5-2.2 .5-6 .5 3.9 .5 1.4 .5-.2 .5-3.6 .5-1 .5 5.7 .5-.6 .5-.9 .5-4.4 .5 9 .5-9.4 .5 3.9 .5 5.8 .5-5.2 .5 1 .5-3.7 .5 6.5 .5-6.8 .5 4 .5-.3 .5-3 .5 4.9 .5-5.9 .5 1.9 .5 1.7 .5-1 .5 2.3 .5 1.1 .5-3.1 .5-.6 .5 0 .5 .4 .5 3 .5-2.6 .5 1.6 .5-1.3 .5-1.9 .5 4.4 .5-4.9 .5 2.7 .5 3.8 .5-6.7 .5 2.7 .5-3.9 .5 2.7 .5-2.5 .5 2.9 .5-.4 .5 1.7 .5 3.7 .5-3.3 .5 .9 .5-1.8 .5-.5 .5-1.5 .5-2.5 .5 4.8 .5 4 .5-3 .5-2.5 .5 5.6 .5-5.4 .5-.5 .5-1.5 .5 .7 .5 1.8 .5 5.5 .5-5.4 .5-2.1 .5 1.1 .5 .9 .5-3.8 .5 4.7 .5 1.5 .5-1 .5 .7 .5-4.8 .5-1 .5 7.6 .5-.5 .5-6.7 .5 4.4 .5-.4 .5 1.3 .5-.9 .5-1.8 .5 1.8 .5-.1 .5-.5 .5-4.7 .5-.1 .5 2.9 .5-2.2 .5 4.8 .5 1.2 .5-1.2 .5-1.6 .5 1.1 .5 2.9 .5-4.9 .5 4.2 .5-.5 .5-1.2 .5 3.1 .5-5.6 .5 4.3 .5-4.8 .5 .4 .5-.8 .5 3.9 .5-3.6 .5 2.6 .5-3.1 .5 5.6 .5 2 .5-4.1 .5 3.6 .5-2.8 .5 3.5 .5-4.6 .5-4.3 .5 7.8 .5-4.1 .5-2.4 .5 1 .5-2.5 .5 3.7 .5-2.3 .5 6.6 .5-2.1 .5-6 .5 .4 .5 2.4 .5-3.4 .5 4.6 .5 .1 .5-1.8 .5 .5 .5 2.7 .5 2.3 .5 .2 .5-3.7 .5 2.1 .5-4.1 .5 2.9 .5-3.5 .5 4.3 .5-5 .5 .7 .5 2.4 .5 1.5 .5-5.1 .5 2.3 .5 1.7 .5 .2 .5-2.7 .5 2.4 .5-1 .5 4.3 .5-2.2 .5-4.8 .5-1.4 .5 5.1 .5 2.7 .5-2.6 .5 1.8 .5-3.5 .5-2.2 .5 5.4 .5-1.7 .5 1.5 .5-5.3 .5 4 .5-2.1 .5 3.7 .5-3.6 .5-.1 .5 .1 .5 4.7 .5-3.2 .5-2 .5-.7 .5-.1 .5 6.4 .5-8.4 .5 2.5 .5 3.8 .5 1.3 .5-3.4 .5 2.4 .5-.1 .5 .6 .5-2.4 .5 4 .5-3.7 .5 3.4 .5-6.7 .5 5.2 .5-5.6 .5-.7 .5 5.1 .5-3.4 .5 3.3 .5-3.9 .5 6.8 .5-4.1 .5-2.9 .5 3.3 .5 1.8 .5-4.3 .5 3.3 .5 3.4 .5-2.5 .5-2.3 .5-1.4 .5 2.9 .5-5.4 .5-1.1 .5 3.2 .5-1 .5 7.2 .5-4.2 .5-2.8 .5-.5 .5 4.2 .5-3.4 .5 .6 .5 1.2 .5 .5 .5 0 .5 0 .5 3 .5 1 .5-8.5 .5 8.8 .5-4.3 .5 2.8 .5-5.1 .5 2.7 .5-.3 .5-.2 .5 1.8 .5-.5 .5-4.2 .5 2.2 .5 2.2 .5-.2 .5-2.6 .5 .1 .5 .3 .5-2.4 .5-.5 .5 7.3 .5-5 .5 1.2 .5-2.1 .5 5.2 .5 1.1 .5-5 .5 1.9 .5-3.3 .5 6.4 .5-2.1 .5-4.6 .5 5.4 .5-2.3 .5 .1 .5-.1 .5-2.7 .5 .4 .5 2.9 .5-1.7 .5-2.3 .5 7.1 .5-5.2 .5-.9 .5-.4 .5 3.5 .5 .8 .5-1.9 .5 1.6 .5-6.1 .5 2.9 .5-.3 .5 1.2 .5 1.2 .5-6.3 .5 9.8 .5-7 .5 3.1 .5 1.3 .5 0 .5-1.6 .5-5.7 .5 2.3 .5 4.7 .5-4.3 .5-.4 .5-2.3 .5 8.1 .5-1.8 .5-3.7 .5 2 .5 0 .5-2.6 .5 2.2 .5 1.3 .5 .7 .5 1.9 .5-3.2 .5-1.3 .5 2.2 .5-2.7 .5-1.6 .5 6.1 .5-3.9 .5 1.2 .5 1.4 .5-4.6 .5 4.5 .5-.5 .5-1.4 .5 1.2 .5-3 .5-3 .5 4.2 .5-1.6 .5 4.5 .5-1.6 .5-2 .5 1.4 .5 3.4 .5-.6 .5-2 .5 .1 .5-1.9 .5 .4 .5 1.8 .5-1.8 .5 1 .5-3.7 .5-1.5 .5-.1 .5 3.3 .5 4.5 .5-.4 .5-5.7 .5-1.5 .5 6.1 .5-.9 .5-4.9 .5 6.3 .5-2.3 .5 2.9 .5-2.6 .5 1.4 .5-1.6 .5-3.4 .5 1.9 .5-1.3 .5 3.9 .5-4.8 .5-1.5 .5 5.8 .5 1.1 .5 .7 .5-1 .5-6.9 .5 2 .5 .3 .5 1.4 .5-5.2 .5 5 .5 .7 .5-3.4 .5 2.7 .5 2.8 .5-3.2 .5 2.6 .5-.2 .5-1.8 .5-.2 .5-2.2 .5 4.2 .5-4.7 .5-.8 .5 3.6 .5-4 .5 2.9 .5 1.5 .5-2.8 .5-.2 .5 2.1 .5-.7 .5-6.6 .5 .4 .5 7 .5-2.9 .5-6.7 .5 1.2 .5 3.5 .5-3.2 .5 3.8 .5-1.6 .5 .8 .5-5.2 .5 4.6 .5 3.2 .5-8.3 .5 5.5 .5-1.6 .5-1.6 .5-2.9 .5-4.1 .5 0 .5 4.1 .5-.3 .5-.3 .5-2 .5-1.4 .5-5.6 .5-4.1 .5 3 .5-.9 .5-3.4 .5-7.7 .5 1 .5-6.1 .5 2.8 .5-7.6 .5-.4 .5-2 .5-5.1 .5 .2 .5-15.3 .5-9.4 .5 6.2 .5-4.6 .5-6.8 .5-12.9 .5-6.7 .5-10.1 .5-15.4 .5-4.2 .5-1.6 .5-12.1 .5 8.6 .5-22.3 .5 4.8 .5 9.3 .5-7.1 .5 1.5 .5 4.6 .5 10.4 .5 19.4 .5 2.3 .5 8.6 .5 3 .5 14.2 .5 3.9 .5 2.3 .5 8.6 .5 8.7 .5 9.3 .5 0 .5 6.7 .5 9.2 .5-6.3 .5 1.8 .5 11.1 .5 .8 .5 .7 .5 3.5 .5 .1 .5 4.7 .5-1.1 .5 5.2 .5-4.8 .5 2.4 .5 4.2 .5-.7 .5 4.6 .5-1.3 .5-.6 .5 3 .5-1.4 .5-2.3 .5 1.9 .5 1.6 .5 1.5 .5 2.2 .5 2.9 .5-.6 .5 3.9 .5-1 .5-3.8 .5 5.6 .5-1 .5-4.3 .5 2.5 .5 2.4 .5-2 .5 2.4 .5-1.5 .5 1.1 .5-2.6 .5 2.1 .5-1.8 .5 3 .5-6.2 .5 5.6 .5 2.7 .5-1.7 .5-1.5 .5 1.7 .5-3.6 .5 .2 .5 1.4 .5 .7 .5 3.1 .5-4.9 .5 5.2 .5-6.8 .5 2.2 .5 2.1 .5 3.3 .5-4.6 .5-3.5 .5 6.4 .5-1.1 .5-2.7 .5 .2 .5 .9 .5 2.2 .5 1.6 .5-5.6 .5 8.8 .5-4.9 .5-.8 .5 2.8 .5-1.5 .5 4.7 .5-2 .5-3.8 .5 0 .5-.2 .5 .4 .5 2.7 .5-3.4 .5 6 .5-4.4 .5-.1 .5 2.8 .5-7.5 .5 2.7 .5 4 .5-1.5 .5 0 .5 1.1 .5-2.6 .5 1.2 .5-3.1 .5-1.3 .5 8.2 .5-5.7 .5 .6 .5 5.5 .5-.9 .5-4.1 .5 0 .5 1.2 .5-2.3 .5 4 .5-1.1 .5 0 .5 1.6 .5-.1 .5 3 .5-.9 .5-8.3 .5 6.8 .5-5.3 .5-.8 .5 5.6 .5-3.7 .5 1 .5 3.6 .5-4.4 .5-.6 .5 3.1 .5 2.3 .5-1.8 .5-5.3 .5 2.3 .5 1.3 .5 5.2 .5-2.5 .5-.1 .5 .9 .5-3.9 .5 2 .5 0 .5-3.8 .5 2.5 .5 1.5 .5-4.3 .5 4.9 .5-.2 .5 .7 .5-4.7 .5 2.3 .5 3.5 .5-1.8 .5-4.1 .5 2.6 .5 3.1 .5-3.9 .5 1.1 .5 3.9 .5-5 .5-.2 .5-2.4 .5 .8 .5 5.6 .5-4.3 .5-2.8 .5 .6 .5 2.4 .5 1.9 .5-4 .5 3.7 .5-3.2 .5 2.1 .5 .4 .5 .1 .5-2.8 .5 .5 .5 1.7 .5-4.9 .5 3.7 .5 .8 .5 1.2 .5-3 .5-.6 .5 .6 .5-2.5 .5 1.1 .5 1.4 .5-.7 .5-3.9 .5 1.6 .5-4.8 .5 6.9 .5-4.2 .5 1.6 .5-4.5 .5 2.1 .5 .7 .5 .5 .5-7.9 .5 5.2 .5-4.5 .5-3.5 .5 1.9 .5-4.5 .5-2.5 .5-4 .5 .1 .5-3.8 .5-4.2 .5-6.3 .5-2 .5 .1 .5 .5 .5-7.1 .5 4.4 .5-5.6 .5-3.2 .5 8.5 .5-3.2 .5 8.3 .5 5.8 .5-1.3 .5 4.2 .5 10 .5-2.7 .5 2.8 .5 4.1 .5-.5 .5 1.9 .5 3.2 .5-5.2 .5 11 .5-6.1 .5 1.1 .5 5.5 .5-.7 .5-2.9 .5 4.7 .5-3.1 .5 1.7 .5-1.8 .5 2.3 .5 3.6 .5-.4 .5 .8 .5 1.9 .5-2.3 .5-1.5 .5 1.3 .5 5.2 .5-4.1 .5 1 .5-1 .5 1 .5 .7 .5-1.1 .5-.2 .5-1.6 .5 0 .5 3.3 .5 1 .5 .5 .5-2.2 .5-2.2 .5 3.9 .5 0 .5-5.4 .5 6 .5-.5 .5 2.8 .5-7.1 .5-.4 .5 5.4 .5-6.6 .5 2.8 .5-.9 .5 .2 .5-2.2 .5 4.3 .5 3.1 .5-1.3 .5 0 .5-2 .5 4.6 .5-2.3 .5 1.4 .5-6.7 .5 4.9 .5-3.8 .5 3.9 .5-.4 .5-3.4 .5 3.4 .5 2.5 .5-1.7 .5 .3 .5-3.7 .5 .5 .5-1.1 .5 3.2 .5 2.7 .5-1.9 .5-1.1 .5-2.9 .5 4 .5-1.7 .5-4.2 .5 .4 .5 3.6 .5-1.4 .5 6.5 .5-4.1 .5-2.8 .5 1.4 .5 5.4 .5-6.5 .5 4.4 .5-.9 .5 2.7 .5-2.4 .5-2.4 .5 2.4 .5-1.2 .5 2.3 .5-2.6 .5 5 .5-5.1 .5 1.4 .5-2.8 .5 2 .5-.2 .5 .3 .5 1.9 .5-3.7 .5-.7 .5 4.9 .5-3.5 .5-1 .5 4.7 .5-1 .5-6.9 .5 4 .5 3 .5 .1 .5-3.4 .5 5.2 .5-6 .5 1.5 .5 .9 .5-.3 .5 2 .5 .6 .5-2.7 .5 3.6 .5-5.3 .5 1.2 .5 5 .5-4.2 .5 2.5 .5-3.8 .5 .4 .5 .4 .5 .7 .5-1.2 .5 .9 .5 1.6 .5 1.4 .5-2.8 .5 1.4 .5 .6 .5-5 .5-1.3 .5 8.1 .5-.7 .5-3.2 .5 .7 .5-3.3 .5-1.1 .5 4.3 .5-4.6 .5 6.2 .5-4.1 .5 2.5 .5 4 .5 0 .5-5.5 .5 3.4 .5-5.3 .5 1.1 .5 2.5 .5 2.5 .5-4.9 .5 2.8 .5-1.1 .5-3.5 .5 2.9 .5 4.1 .5-4 .5 1.5 .5 .8 .5-4 .5 5 .5 .7 .5 .3 .5-.8 .5-4.5 .5-.3 .5-.5 .5-.3 .5 .3 .5 4.5 .5 1.2 .5-5.4 .5 3.7 .5-5.3 .5 2.4 .5-1.7 .5-1.6 .5 4.3 .5 .1 .5-1.3 .5-.3 .5-1.2 .5 2.2 .5-1.2 .5 2.1 .5-3.6 .5 3.6 .5 .7 .5 1.9 .5-.5 .5-2.2 .5-2.2 .5-3 .5 4.7 .5 3.6 .5 .6 .5-9.1 .5 3 .5 1 .5-1.8 .5 3.2 .5-.4 .5-1.4 .5 1.2 .5-4 .5 1.6 .5 .2 .5 4.6 .5-6.5 .5 3.6 .5 2.6 .5-2.2 .5 2.2 .5-3.7 .5 2.8 .5 1.2 .5 2.5 .5-3 .5 1.8 .5-3.6 .5 .2 .5 3.8 .5-2.6 .5 2.2 .5-1.8 .5 3 .5 0 .5-7 .5 6.9 .5-3.6 .5 .1 .5-1.5 .5 2.1 .5-4.7 .5 1 .5-.1 .5 2.7 .5 1.6 .5-.5 .5-.9 .5-2.5 .5-3 .5 5.6 .5-.7 .5 .6 .5 2.7 .5-4.1 .5-.1 .5-4.4 .5 6.4 .5-1.6 .5-1.8 .5 2.9 .5-3.6 .5 1.2 .5 6.2 .5-2.8 .5 .4 .5-.5 .5-.2 .5-1.2 .5 4.3 .5-5 .5 2.1 .5-2.5 .5-.3 .5-4 .5 0 .5 8.9 .5-.2 .5-4.9 .5 1 .5 1.6 .5-4.1 .5 7.1 .5-7.2 .5 .8 .5-3.1 .5 8.8 .5-3.7 .5 4 .5-6.7 .5 3.4 .5-.7 .5 .3 .5 4.4 .5 0 .5-1.3 .5-4.6 .5 3.3 .5 1.2 .5-2.1 .5 .1 .5-.3 .5-3.5 .5 2.9 .5 3.5 .5-6.7 .5 2.8 .5 1.9 .5-5.6 .5 3.1 .5-4 .5 2.8 .5-2.1 .5 1.4 .5 1 .5 .5 .5 .2 .5-4.4 .5 9 .5-4.8 .5-2.1 .5 1.2 .5 2.4 .5-3.4 .5 1.5 .5-.1 .5 2.6 .5-3.3 .5 3.1 .5-.3 .5-1.3 .5 3.6 .5-3.2 .5-3 .5 3.7 .5-.4 .5-.4 .5 .7 .5 4.2 .5-4.2 .5 .5 .5-1.8 .5 4 .5-3.5 .5-1.9 .5-1.1 .5 4.5 .5 .6 .5-6 .5 2.2 .5 3.5 .5 1 .5-6.1 .5 2.4 .5 3.2 .5-3.6 .5 .3 .5-.3 .5-2 .5 3.5 .5 .7 .5-4.4 .5 3.9 .5 2.5 .5-2.3 .5 1.9 .5-3.8 .5 4.9 .5-5.5 .5 6.8 .5-6 .5-.7 .5-.4 .5 1.2 .5-.2 .5-.5 .5 .9 .5 2.6 .5 .5 .5-3.1 .5 4 .5-5.7 .5-.1 .5-.3 .5 4.5 .5-5.6 .5 .4 .5 6.9 .5 1.1 .5-.9 .5-7.3 .5 3.8 .5 2.1 .5-1.9 .5-4.4 .5 3.3 .5-3.5 .5 1.2 .5 8.1 .5-3.2 .5-5.5 .5-.1 .5 5 .5-2.7 .5 3 .5-3.1 .5 1.1 .5 1.1 .5-3.2 .5-2.3 .5 1.8 .5 1.3 .5 1.3 .5 .3 .5 0 .5 1.5 .5-3.6 .5 5.9 .5 1.3 .5-4 .5-.5 .5 2.8 .5-1.6 .5-1.2 .5-.9 .5-1.5 .5-1.1 .5 4.7 .5 1.4 .5-5.8 .5 2.5 .5 .8 .5-1.7 .5-.9 .5 1 .5-3.9 .5 4.7 .5-.6 .5 5.7 .5-2.5 .5-3.3 .5 .8 .5 4.5 .5-.3 .5-3.7 .5-.8 .5-3.4 .5 2.9 .5 .4 .5-1.5 .5 6.4 .5-9.3 .5 4.5 .5 1.4 .5 0 .5 3.2 .5-7.9 .5 1.6 .5 2.2 .5 .1 .5-1.3 .5-1 .5 4.7 .5-5.5 .5 1.3 .5 5.2 .5 .7 .5-2.2 .5-4.5 .5 0 .5-.1 .5-.6 .5 1.8 .5 4.4 .5-2.7 .5-2.6 .5 0 .5-1.1 .5 6.2 .5-8 .5 5.5 .5-4.4 .5 1 .5-1.1 .5 6.3 .5-2.7 .5 5.2 .5-7.7 .5-.2 .5 4.4 .5-.1 .5-2.2 .5-4.1 .5 8.6 .5-2.3 .5-.5 .5-2.5 .5 3.1 .5-3.1 .5 1.6 .5-.6 .5 3.7 .5-4.5 .5 .3 .5 3.8 .5-2.3 .5-.7 .5-.5 .5 3 .5-4.1 .5 2.9 .5 3.8 .5-4 .5-3.1 .5-1.1 .5 3.5 .5-3.6 .5-1 .5 2.2 .5-.9 .5 5.1 .5-6 .5 7.8 .5-6 .5 2.2 .5 1.4 .5-1.2 .5 1.3 .5-4.4 .5-2.2 .5 4.2 .5-3.9 .5 2.9 .5 3.9 .5-2.9 .5-1.1 .5-1.4 .5 2.2 .5 .3 .5-3.7 .5 4.9 .5-3.6 .5 3.3 .5-1.7 .5 3.7 .5-.3 .5-2.3 .5-.3 .5 1.4 .5 2.5 .5-.9 .5-2.3 .5 .4 .5 3.3 .5-8.4 .5 5.7 .5-3.8 .5 5.9 .5-4.9 .5 1 .5-2.5 .5 2.8 .5 2.1 .5 2.3 .5-7.7 .5 2.1 .5 6.2 .5-2.6 .5-2.5 .5 1.4 .5-6.3 .5 9.1 .5-3.8 .5-4.2 .5 6.8 .5-4.7 .5-1.1 .5 4.1 .5-.4 .5-2.2 .5 .9 .5-3.3 .5-.3 .5 6.1 .5 1.1 .5-2.3 .5-.2 .5-2.1 .5 .7 .5-2.1 .5 7 .5-6.1 .5 2.5 .5-1.1 .5-3.7 .5 8.7 .5-6.1 .5-1 .5 2.3 .5-2.8 .5 2.5 .5-2.7 .5 4 .5-1.4 .5-3.8 .5 6.3 .5-2.2 .5-3.5 .5 3.8 .5 .2 .5 3.7 .5-7.3 .5 4.6 .5-2.6 .5 1.8 .5-2.4 .5 .5 .5 1.5 .5-4.6 .5-2 .5 5 .5-1.2 .5 1.4 .5 1.4 .5-2.4 .5 3.7 .5-3.4 .5 .4 .5 1.8 .5-.7 .5-1.9 .5 .5 .5-2.5 .5 .3 .5 1.8 .5 1.9 .5-3.5 .5 3.3 .5 2.7 .5-.1 .5-5.2 .5 2.7 .5-1.3 .5 .3 .5 0 .5-1 .5 .7 .5-2 .5-1.4 .5 1.2 .5 .5 .5 1.8 .5-2.6 .5 .8 .5 1.7 .5-6.9 .5 1.6 .5 2 .5-1.8 .5-3.3 .5 5.3 .5-3.4 .5-3.1 .5 7.7 .5-9.5 .5 3.1 .5-2.5 .5 1.7 .5 .7 .5-4.9 .5 1.4 .5-1 .5-3.6 .5 5.7 .5-4.2 .5-2.6 .5-2.5 .5-.4 .5 .1 .5-3.6 .5 3.9 .5-12.6 .5-2.1 .5 3.6 .5-8 .5 3.8 .5-4.7 .5 1.8 .5-3.5 .5 .4 .5-4.6 .5-1.9 .5-6.2 .5-1.2 .5-5.7 .5-8 .5-6.2 .5-3.1 .5 4.5 .5-13.4 .5 7.3 .5-6 .5 5.6 .5-3.1 .5-4.5 .5 4.1 .5-7.8 .5 11.7 .5 3 .5-7.7 .5 14.7 .5-1.1 .5 4.5 .5-3.3 .5 11.9 .5 3.3 .5 .9 .5-.5 .5 10 .5 4.9 .5-.3 .5 4.9 .5-3.1 .5 5.1 .5 3.2 .5 1.3 .5 7.8 .5-2.9 .5-1.5 .5 6.2 .5-4.7 .5 6.1 .5 2.6 .5-2.8 .5 1.7 .5-.9 .5 4.3 .5-1.6 .5 8 .5-2.5 .5-1.9 .5-2.9 .5 10 .5-.9 .5-1.9 .5-.4 .5 .4 .5-1.5 .5 6.9 .5-4.2 .5-4.4 .5 2.6 .5-3.5 .5 7.7 .5 .6 .5 3 .5 .3 .5-7 .5 3.7 .5 1.7 .5-.4 .5-3.4 .5 3.7 .5-.6 .5 2.5 .5-3.7 .5-.4 .5-.7 .5 .5 .5-.9 .5 1.3 .5 2.4 .5-.1 .5 2.5 .5-.5 .5-1.2 .5-4.8 .5 4.8 .5 1.7 .5-6.6 .5 .6 .5 .5 .5-.2 .5 2.1 .5-1.7 .5 3.6 .5-4.2 .5 3 .5-1 .5-1.2 .5 5.4 .5-2.6 .5 1.4 .5-2.3 .5 2.8 .5-.2 .5-2 .5-4.3 .5 7 .5-.3 .5-1.3 .5 .2 .5-.3 .5 .2 .5-3.1 .5 2.5 .5 1 .5-2.4 .5-.9 .5 7.5 .5-3.3 .5-2.4 .5-.4 .5-3.9 .5 1.4 .5 3.2 .5 4.1 .5-8.6 .5 3.4 .5 6.7 .5-3.1 .5-.6 .5 2.1 .5-3.5 .5-.1 .5 2.3 .5 .4 .5-5 .5 6.8 .5-8.6 .5 2.8 .5 6.7 .5-6.2 .5 3.1 .5-4.3 .5 1.8 .5-1.1 .5 .9 .5 2.8 .5 2.9 .5-2.3 .5 1.8 .5-5.4 .5 5.2 .5-2.4 .5 2.2 .5-4.8 .5 .5 .5 4.3 .5-2 .5-1.3 .5-2.1 .5 1.5 .5 1.6 .5 .6 .5-3.4 .5 .6 .5 2 .5-4 .5 5.4 .5-2.5 .5-.4 .5-4.7 .5 .9 .5 1.4 .5 1.2 .5-1.3 .5 3.9 .5-.7 .5-1 .5-4.3 .5 8.7 .5-4.4 .5 2.2 .5-3.3 .5 1.8 .5 1.8 .5-1.2 .5 1.9 .5-3 .5 5.5 .5-10 .5 3.6 .5 4 .5-3.2 .5-.5 .5-3.5 .5 7.8 .5-8.1 .5 6.3 .5-.8 .5 1.7 .5 1.6 .5-5.7 .5-.3 .5 1.3 .5-3.7 .5 6.7 .5-3.2 .5 1.5 .5-3.4 .5 3 .5-1.7 .5 1.4 .5-2.6 .5 5.5 .5-4.4 .5-3.2 .5 6.6 .5-2.5 .5-1.5 .5 7.4 .5-5.2 .5-3.4 .5 1.9 .5 2.6 .5-1.6 .5 3.9 .5-.5 .5-4.9 .5 2.2 .5 1.6 .5-2.8 .5-.1 .5 3.5 .5-1.1 .5-4.9 .5 2.3 .5 .3 .5 .8 .5-1.6 .5 5.5 .5-6.1 .5-.3 .5 3.4 .5-5.4 .5 2.1 .5 4.4 .5-5.1 .5 1.2 .5 5.1 .5-1.7 .5-1 .5 .5 .5-2.4 .5 2.6 .5-1.4 .5 5.6 .5-3.6 .5-2.3 .5 .7 .5 .3 .5-3.8 .5 1.5 .5 6.2 .5-7.7 .5 2.1 .5 4.3 .5 1.2 .5-6.6 .5 6.5 .5-4.8 .5 5.3 .5-3 .5-2.1 .5 2.7 .5-.5 .5-3.5 .5 7.1 .5-5.9 .5 3.9 .5-4.3 .5-3.5 .5 1.8 .5 2.7 .5 2.1 .5 2.8 .5-4.4 .5-1 .5-2.5 .5 3.1 .5 .9 .5-5.7 .5 8.4 .5-.5 .5 2.1 .5-7.5 .5 2.5 .5 0 .5-3.6 .5 1.3 .5-.4 .5 3.9 .5-.2 .5 2.4 .5-4.6 .5-2.6 .5 4.8 .5-.2 .5 .8 .5 1.5 .5-4.8 .5 3.6 .5-4.7 .5 3 .5 1.4 .5-2.1 .5 .9 .5-4.3 .5 2 .5 2.1 .5-3.6 .5 .9 .5 7.3 .5-4.4 .5-2.9 .5-.5 .5 6.3 .5-8.6 .5 4 .5 2.5 .5-3.2 .5 2.8 .5-4.1 .5 2.7 .5 .1 .5-.1 .5 .3 .5-.3 .5 2.9 .5-3.7 .5-.9 .5 .8 .5-.1 .5-3.2 .5-.7 .5 1.1 .5 4.3 .5-2.5 .5 .6 .5 6.5 .5-2.4 .5-3.6 .5-1.1 .5 5.3 .5-5.8 .5 5.4 .5-1.8 .5 2.1 .5-5.6 .5 4.3 .5-7.1 .5 4.2 .5 3.3 .5-1.1 .5-6.5 .5 6.4 .5-.6 .5-1.4 .5-1.8 .5 1.1 .5-.8 .5 4 .5-1.3 .5 1.6 .5-1 .5-5.3 .5 3.7 .5 5 .5-8.4 .5 3.6 .5-2.8 .5-.4 .5 2.9 .5 1.8 .5-.4 .5-.9 .5 1.3 .5-7 .5 6.5 .5-1.2 .5-1.7 .5 .4 .5-2.3 .5 5.3 .5-5.2 .5-2.1 .5 3.9 .5-1.6 .5 1.2 .5 4.2 .5-4.6 .5 .6 .5 5.1 .5-9.5 .5 4.7 .5 2.1 .5 .8 .5 1.2 .5-7.5 .5 3.3 .5-2.2 .5-1.2 .5-.9 .5-2.3 .5 4.7 .5 .9 .5-5.3 .5 4.8 .5-4.1 .5-1.6 .5-2.6 .5 7.8 .5-1.5 .5-3.5 .5-.8 .5-3.2 .5 4.7 .5-2.5 .5 1.1 .5-1.9 .5-5.8 .5-1.5 .5 5 .5-7.8 .5 4.9 .5 .6 .5-8.6 .5 4.7 .5-3.9 .5-.2 .5-6.1 .5-.1 .5-.8 .5 2.6 .5-6.6 .5-3.6 .5-9.6 .5 3.3 .5-6.9 .5-.6 .5-1.5 .5 .1 .5-4.1 .5-3.9 .5-3 .5 4.6 .5-10.5 .5 3.5 .5 5.9 .5-5.9 .5 5.6 .5 1.9 .5 6.5 .5-.9 .5-8.7 .5 9.6 .5 4.1 .5 5 .5 1.2 .5 8.5 .5-.2 .5-5.6 .5 4.5 .5-1.7 .5 14.6 .5-4.2 .5 1.9 .5-2.9 .5 5.5 .5 4.4 .5-1.2 .5 1.3 .5 .6 .5 9.2 .5-6.8 .5-1.8 .5 3.7 .5 1.3 .5 1.5 .5 .2 .5-2 .5 3.2 .5 2.3 .5-4.8 .5 10.2 .5-.4 .5-9.4 .5 4.2 .5 4.2 .5 1.2 .5 1.5 .5-9.5 .5 1.9 .5 1.9 .5 3.2 .5-4.4 .5 4.4 .5 .3 .5 .9 .5-5.5 .5 4.3 .5-.2 .5-1.2 .5 4.9 .5-4.3 .5 5 .5-5.6 .5 6.5 .5-.1 .5-6.7 .5 3.3 .5 .1 .5-3.5 .5 4.9 .5-.4 .5-4 .5 2.8 .5 2.2 .5-2.8 .5-1.4 .5 6.4 .5-7 .5 3.6 .5 2.2 .5-.9 .5-6.9 .5 4 .5 .6 .5-.2 .5 2.3 .5-.2 .5-1 .5 .4 .5 2 .5 .7 .5-8.3 .5 10.1 .5-6.6 .5 3.6 .5-6.5 .5 3 .5-2 .5 6.4 .5-.5 .5-2.4 .5-.5 .5 1.5 .5-3.6 .5 .9 .5-.5 .5 4.3 .5-2.2 .5-3.6 .5 4.4 .5 .4 .5 2.3 .5-5.4 .5 2.6 .5 3.9 .5-6.2 .5-.2 .5 2.2 .5-2.9 .5 1.2 .5-1.6 .5-1.1 .5 4.4 .5-3.8 .5-2.1 .5 1.7 .5 0 .5 .8 .5 1.4 .5 2 .5-9 .5 2.3 .5-5.1 .5 5.5 .5 .4 .5-3.8 .5-1.2 .5-.5 .5-1.7 .5 6.2 .5 3.7 .5-8.9 .5 8.4 .5-4.9 .5-3.3 .5 6.1 .5 1 .5-.6 .5-1.4 .5 6 .5-5.1 .5 3.1 .5 .5 .5-4 .5-2.1 .5 .6 .5 4.1 .5 2.4 .5-5.6 .5 3.2 .5 6.4 .5-8.9 .5 6.3 .5-.1 .5 1.4 .5-6 .5 5 .5-4.6 .5 7.5 .5-5.8 .5 3.4 .5-3.1 .5 2.6 .5-4.4 .5 4.9 .5 .9 .5-1.6 .5 4.4 .5-3.3 .5 1.2 .5-.7 .5 3.7 .5-6.8 .5 1.1 .5 .1 .5 2.3 .5-.9 .5 1.5 .5-1.4 .5-2.1 .5 1.2 .5 1.4 .5-5.9 .5 8.5 .5-5.2 .5 .6 .5 1.6 .5-1.3 .5-3.2 .5 3.3 .5 4.3 .5-.9 .5 .5 .5-4.7 .5 .9 .5 3.4 .5 1.2 .5-3.9 .5-2.6 .5-2.3 .5 8.7 .5-7.9 .5 5.3 .5 1.2 .5 2.7 .5-4.5 .5-.8 .5 1.5 .5 .2 .5 2.2 .5-1.7 .5-3.9 .5-2.9 .5 5.8 .5-2.6 .5 5.6 .5-7.3 .5 4 .5-2.5 .5-.3 .5 6.8 .5-4 .5-.9 .5 2.4 .5-4.1 .5 1.2 .5-.8 .5 6.7 .5-4 .5 .8 .5 1.3 .5-3.5 .5 .1 .5-4 .5 5.7 .5-.6 .5-1.8 .5 4.4 .5-8.1 .5 5.9 .5-4.8 .5 .6 .5 2.6 .5 4.1 .5-6.8 .5 .5 .5-.5 .5 8.2 .5-3.5 .5-.4 .5 3.9 .5-4.3 .5-5.6 .5 3.6 .5-1.9 .5 8.2 .5-8.8 .5 4.7 .5-2.2 .5 .2 .5 1.2 .5-.4 .5-1.5 .5-1.5 .5 1.6 .5-1.1 .5 .4 .5 2.8 .5-.7 .5 1.7 .5-2 .5 5.7 .5-7 .5-.7 .5 5.5 .5-4.7 .5 2.2 .5 2.3 .5-2.9 .5-.7 .5 3.6 .5-1.7 .5-2.3 .5-1.9 .5 2.3 .5-3.5 .5 2.1 .5-.6 .5 3.8 .5 1.3 .5-3.9 .5 .6 .5-1.8 .5-.7 .5 2.5 .5 2.7 .5-.2 .5 .3 .5-2.3 .5-4.2 .5 7.4 .5 1.1 .5-1.1 .5 0 .5 .5 .5 2 .5-4.1 .5 3.4 .5-2.1 .5-.3 .5-2.2 .5-.6 .5-2.1 .5 4.7 .5-2.5 .5-2.4 .5 1.2 .5-1.1 .5 7.5 .5-5 .5 1 .5-3.6 .5 .5 .5 5.6 .5-3.5 .5 1.3 .5 4.4 .5 0 .5-3.1 .5-.6 .5-.7 .5-1.4 .5 5.8 .5-8.3 .5 3.1 .5-4.8 .5 1.6 .5 4.5 .5 .1 .5-.3 .5-1.8 .5-1 .5 .4 .5 .5 .5 4 .5 1 .5-2.8 .5-2.6 .5-1.1 .5 3.3 .5-1.4 .5-4.3 .5 8.6 .5-3.7 .5-.8 .5-1.5 .5 0 .5 4.8 .5-5 .5 2.8 .5 1.4 .5 3.3 .5-3.3 .5-1.8 .5-1.1 .5 3.5 .5 .5 .5-3.9 .5 2.7 .5-1.9 .5-4.1 .5 1.7 .5 4.9 .5 1.7 .5-2 .5-2.4 .5-1.4 .5 3.4 .5-.6 .5-5.2 .5 6.1 .5-3.7 .5 3.8 .5-.4 .5 .5 .5 .9 .5-.9 .5-4.8 .5 .1 .5 5.6 .5-1.6 .5-5.5 .5-.7 .5 7.4 .5 2.5 .5-2.7 .5-2.9 .5 1.4 .5-5.7 .5 2.2 .5 5.5 .5-.4 .5-7.3 .5 8.2 .5-1.8 .5 1.1 .5-3.1 .5 .6 .5-3 .5 3.8 .5 1.6 .5-5 .5 3.5 .5-2.4 .5 4.3 .5-.2 .5-7.6 .5 6.2 .5 1.5 .5-4.3 .5 1 .5 .1 .5-2.6 .5 2.7 .5 4.6 .5-3 .5 2.9 .5-1.5 .5 .6 .5-2.9 .5 1.8 .5 2.8 .5-1 .5-3.1 .5-2.7 .5-.6 .5 3.1 .5 .5 .5-6.1 .5 5.5 .5 .4 .5-.1 .5-2.3 .5 6.4 .5-2.6 .5-6.1 .5 1.8 .5 4.1 .5-.8 .5-1 .5-.5 .5-.5 .5-.6 .5-1.6 .5 4.4 .5-6.5 .5 2.9 .5 5.3 .5-5.4 .5-1.2 .5 8.3 .5-2.2 .5-3.3 .5-1.1 .5 .9 .5-.3 .5 .3 .5-1.4 .5 3.5 .5-3 .5-3.3 .5 1.3 .5 3.5 .5-2.8 .5-2 .5 8.8 .5-2.7 .5-2.6 .5-.2 .5 2.8 .5 2.4 .5-5.4 .5 2.7 .5-2.8 .5 2.6 .5-4 .5-1.7 .5 5 .5-.4 .5 2.2 .5-3.8 .5 5.5 .5-3.4 .5 3.9 .5-5.1 .5 5 .5-4.3 .5 .6 .5 2.2 .5-7.4 .5 1.9 .5 7.8 .5-9 .5 2.7 .5 2.9 .5 2.4 .5-5.3 .5 1.7 .5-3.4 .5 2 .5 3.9 .5-1.9 .5-1 .5 1.2 .5-.7 .5 0 .5-1.4 .5-1.7 .5 4.5 .5-4.9 .5 5.8 .5 2.4 .5-1 .5 1 .5-7.9 .5 3.5 .5-2.9 .5 .2 .5-2.6 .5 1.3 .5 5.6 .5-.4 .5 1.4 .5-.2 .5-1 .5-4.3 .5 1.9 .5 2.3 .5 1.4 .5-4.4 .5-.3 .5 .2 .5 5.4 .5-2.7 .5-2.4 .5-1.2 .5 3.2 .5-5.7 .5 3.9 .5-.9 .5 0 .5 2.1 .5 .6 .5 3.8 .5-4.7 .5 1.6 .5-4 .5-2.3 .5 7.5 .5 1.9 .5-7.7 .5 2.5 .5 3.2 .5-2.7 .5-5.3 .5 7.7 .5-3.1 .5 2.4 .5-4.6 .5 5 .5 .4 .5-4.7 .5 3.2 .5-3 .5 .3 .5-1.1 .5 1.3 .5-.7 .5 5 .5-3.8 .5-2.4 .5 6.7 .5-2.2 .5 1.2 .5-2.9 .5 2.1 .5-2.2 .5-2.3 .5 2.9 .5 .1 .5-.1 .5 1.9 .5-6.9 .5 5.4 .5-2.9 .5 1.4 .5 1.9 .5-1 .5-2 .5 3.8 .5-2.2 .5 2.7 .5 .8 .5-4.3 .5-2 .5 3.1 .5 2 .5-1.4 .5-4 .5-1.4 .5 2 .5-.1 .5 4.2 .5-1.5 .5 2.1 .5-2.6 .5 4.7 .5-4.5 .5 1.4 .5-2.7 .5 2.3 .5 1.7 .5-1 .5 1.3 .5-5.2 .5 2.8 .5 3.3 .5-4.1 .5-1.3 .5-.3 .5-1 .5 1.7 .5 3.2 .5-2.8 .5-1.6 .5-2.4 .5-1.2 .5 7.8 .5-6.6 .5 1.2 .5-2 .5 1.5 .5-2.1 .5 1.1 .5 3.5 .5-6.7 .5 3.3 .5-2.1 .5 2 .5-4.4 .5 3 .5-4.2 .5-2.5 .5 1.5 .5 1.1 .5-.3 .5 2.5 .5 4.4 .5-6.1 .5 4.9 .5-.5 .5-2 .5-.3 .5 4.2 .5 .6 .5-2 .5 .9 .5 .7 .5-3.3 .5 4.2 .5 .8 .5 4.3 .5-8.1 .5 1.3 .5 2.8 .5-1.6 .5 .6 .5 1.3 .5-.7 .5 .8 .5 1.4 .5-5.4 .5 5.9 .5-6.5 .5 9.7 .5-2 .5-4.1 .5 4.4 .5-3.1 .5 1.6 .5 .9 .5-1 .5-.9 .5 1.7 .5-2.2 .5-.4 .5-1.5 .5-2.3 .5 9 .5-2.1 .5-5.7 .5 4.7 .5-.4 .5-5.6 .5 2.8 .5 2 .5 4.8 .5-1.6 .5 .4 .5-2.5 .5 1.8 .5-5.7 .5 4.7 .5 .4 .5-5.3 .5 4 .5 3.4 .5 .9 .5-1.2 .5-5.6 .5 1.6 .5-1.1 .5 4.6 .5-5.4 .5-.6 .5-1.5 .5 4.8 .5 .7 .5-2.8 .5-.4 .5 1.5 .5 4.1 .5-7.1 .5 3.4 .5 .7 .5 .4 .5 2.4 .5-1.2 .5-1.4 .5 3.1 .5-.8 .5-2.3 .5-.1 .5-3.8 .5 3.5 .5-2.4 .5-.9 .5 2.2 .5-3.8 .5 2.2 .5 1 .5 2.2 .5-1.7 .5 1.9 .5 3.1 .5-2 .5-5.2 .5-1.7 .5 2.3 .5 0 .5-2.7 .5 .5 .5 0 .5 2.9 .5 5.3 .5 .8 .5-7.2 .5 1.4 .5-2.4 .5-.7 .5 4.1 .5 .3 .5-1.8 .5 3.3 .5-2.6 .5 3.7 .5-4.2 .5 3.6 .5-2.8 .5 .9 .5 1.3 .5-5.2 .5 1.6 .5 1.7 .5-.5 .5 1.4 .5-2.8 .5-1.4 .5 3.2 .5 1 .5-2.8 .5 5.3 .5-1.4 .5 .4 .5-.1 .5-4.4 .5 7.5 .5-7 .5 2.8 .5 1 .5-1 .5-.4 .5-2.6 .5 1.1 .5 1.1 .5 3.4 .5-5.2 .5 3.6 .5-.6 .5-1 .5-1.6 .5 1.1 .5-4.2 .5 4.9 .5 .5 .5-2.2 .5 2.8 .5-.5 .5-2.8 .5 4.1 .5-3.6 .5 6.2 .5-7.5 .5 .6 .5 .5 .5 2.3 .5 2.4 .5-2.8 .5-1.3 .5 5.8 .5-2.1 .5-3.4 .5 .4 .5-3.7 .5 4.1 .5 4.4 .5-7.6 .5-.7 .5 4.1 .5-5.6 .5 8.9 .5-7.7 .5 2.1 .5 1.5 .5 3.5 .5-2.1 .5-6.1 .5 .6 .5 4.9 .5-5.6 .5 4.3 .5-1.5 .5 4.3 .5 1.1 .5-8.2 .5 6.1 .5 .5 .5-3.7 .5 .4 .5-1.6 .5 2.3 .5 1.9 .5 2.5 .5 .3 .5-4.6 .5-1.5 .5 4.9 .5-7.6 .5 1.2 .5 5.4 .5 3.4 .5-7.2 .5 2.3 .5-3.2 .5 2.8 .5-.1 .5-1.8 .5 3.1 .5-1.5 .5 1.8 .5-1.9 .5-2.7 .5 3.6 .5 1.9 .5-4.4 .5 5.7 .5-2.4 .5-2.1 .5 1 .5-1.2 .5-1.3 .5 4.8 .5 0 .5-3.6 .5 .7 .5-.1 .5 2.4 .5 2 .5-5.6 .5 2.5 .5-.8 .5 1.5 .5 2.3 .5-6.1 .5-2.7 .5 4.5 .5-3.8 .5 8.7 .5-6.3 .5 1.1 .5 1.4 .5-.1 .5-1.7 .5 1.1 .5 2.5 .5-3.3 .5 5.7 .5-4 .5-6 .5 7.4 .5-7 .5 5.5 .5 4.1 .5-2.1 .5-5.9 .5 .8 .5 2.2 .5 3.8 .5-5.8 .5 4.9 .5-2.2 .5-1.1 .5-.1 .5 4.9 .5-8.6 .5 1 .5 5.4 .5 .3 .5-6.2 .5 1 .5-.6 .5 4.5 .5-3.3 .5 5.6 .5-1.8 .5-1.4 .5-.2 .5 .9 .5 .8 .5-2.3 .5 .7 .5 1.4 .5-2.4 .5 2.9 .5-3.1 .5-1.7 .5 2.5 .5 3.9 .5-.5 .5-8.3 .5 5 .5-2.2 .5 .4 .5-.1 .5 .3 .5-.9 .5 .6 .5 1.3 .5-3.9 .5-.1 .5 .2 .5-.1 .5 4.6 .5-4.7 .5 2.7 .5 .2 .5 1.7 .5-2 .5 2.7 .5-3.2 .5 .7 .5 1.2 .5-6.2 .5 4.8 .5 2.9 .5-4.1 .5-1.2 .5 5.7 .5-5.3 .5 2.8 .5-9.1 .5 5.3 .5-2.1 .5 2.1 .5 1.8 .5-4.2 .5-.7 .5-5.4 .5 7.3 .5 1 .5-4 .5-2.4 .5 1.9 .5 1.4 .5-1.8 .5 3.2 .5-8 .5-3 .5 5.2 .5 1.9 .5-5.7 .5 1.2 .5-2.3 .5-2 .5 1.6 .5-3.6 .5 6.9 .5 .8 .5 1.6 .5-4.9 .5 1.1 .5-2.7 .5 1.2 .5 7.7 .5 3.6 .5-8.3 .5 2.6 .5 4.5 .5-4.3 .5 4.3 .5-2.1 .5 .6 .5 3.9 .5-2.9 .5-2.4 .5 6.3 .5-1.9 .5-1.2 .5-.4 .5 4.2 .5-3.4 .5 2.6 .5 2.7 .5-2.8 .5 3.5 .5-6.7 .5 5.7 .5-.1 .5 3.9 .5-5 .5 2.5 .5-2.8 .5-2.4 .5 .6 .5 .6 .5 4.1 .5-4.2 .5 2.3 .5 2.4 .5 1 .5-.8 .5 1.5 .5-7.1 .5 1.8 .5 2.2 .5 2.2 .5-1.6 .5-3.5 .5 1.6 .5-4 .5 6.7 .5-7 .5 5.5 .5 2.3 .5-.5 .5-6.8 .5 5 .5-1.6 .5 .2 .5 5.2 .5-3.7 .5-4.7 .5 1 .5 4.8 .5-1.3 .5-3.7 .5-1.5 .5 3 .5 .3 .5 3.4 .5-3.9 .5 3.4 .5 1.5 .5-7.7 .5 2.7 .5 5.8 .5-5.5 .5 1.1 .5 2.6 .5-4.8 .5 .9 .5-3.5 .5 6 .5-3 .5 .2 .5-4.3 .5 7.7 .5-.9 .5-4.3 .5 5.4 .5-8.8 .5 4.8 .5-4.8 .5 9.9 .5-11 .5 1.4 .5 1 .5 4 .5-.3 .5-1.7 .5-2.2 .5 5.9 .5-8.3 .5 2.5 .5 3.8 .5-9.3 .5 .8 .5 5.2 .5-2.3 .5-5.7 .5 3.7 .5 5.5 .5-6.6 .5 3.1 .5-1.9 .5-2.3 .5 7.2 .5-1.7 .5 1.1 .5-3.6 .5 1.2 .5 .8 .5 1.2 .5-1.9 .5 0 .5 5.7 .5-6.5 .5 2.3 .5 .6 .5 0 .5-1.7 .5 1.6 .5 4.7 .5-3 .5-.8 .5 7 .5-8.3 .5 6.9 .5-1.8 .5-4.6 .5 2.8 .5 .1 .5 4.8 .5-1 .5-3.2 .5-2.4 .5-1.4 .5 4.3 .5-3.4 .5 3.5 .5-.1 .5 1.7 .5 1.7 .5-2.4 .5 1 .5-1.7 .5 3.3 .5-.6 .5 2.2 .5-.6 .5-5.8 .5-2 .5 5.8 .5 1.4 .5-5 .5 6 .5-3.8 .5-.5 .5 1.2 .5-4.9 .5-.6 .5 3.5 .5-2.2 .5 3.1 .5 .1 .5-4.9 .5 2.6 .5 3.7 .5-6.3"/>
<path stroke="#00ff00" d="M406.5,773.5l.5 2.6 .5 9.4 .5-4.8 .5-11.3 .5 8.3 .5-2.8 .5 4 .5-8.5 .5 9.3 .5 .2 .5 6.7 .5-5.9 .5 1.1 .5-9.5 .5 16.6 .5-18.2 .5 14.7 .5-6.7 .5-2.5 .5 1.3 .5 .1 .5 5.2 .5-2.1 .5 7.7 .5-15.5 .5 8.9 .5-4 .5 8 .5-12.4 .5 7.5 .5 2.8 .5-7.7 .5 11.7 .5-3.6 .5 4 .5 0 .5-8.8 .5 1 .5 3 .5 4.5 .5 .6 .5-6.9 .5 .6 .5-.6 .5 1.1 .5 1.8 .5 .6 .5 9.4 .5-10.7 .5 1.2 .5 3.5 .5-6.1 .5 2.7 .5 1.9 .5 3.6 .5-9.1 .5 12 .5-7.4 .5 2.5 .5 3.1 .5-.6 .5 1.9 .5-3.7 .5-.7 .5 1.6 .5-5.5 .5 9.8 .5-8.5 .5-1.9 .5 13.8 .5-8.6 .5-4.3 .5 13.1 .5-9.1 .5 6.1 .5-7.9 .5 2.6 .5-5.9 .5-.7 .5 4.1 .5 3.9 .5 3.8 .5 4.8 .5-12.1 .5 8.7 .5-6.6 .5 2.1 .5-5.4 .5 .2 .5 3.1 .5-1.6 .5 5.1 .5-2.7 .5 8.1 .5-4.3 .5 .2 .5 4.1 .5-2.3 .5-2.1 .5-.1 .5 0 .5 5 .5-1 .5-1.5 .5 1.9 .5-5.3 .5 4.4 .5-7.5 .5 11.2 .5-4.9 .5 .5 .5 1.8 .5-2.2 .5-.8 .5 5.8 .5-4.1 .5-3.9 .5 5.5 .5-8.2 .5 13.2 .5-6.9 .5 1 .5 7.3 .5 .2 .5-6.8 .5 2.1 .5 2 .5 2.4 .5-6.9 .5 1.2 .5 4.3 .5-3.5 .5 2 .5-.4 .5-6.5 .5 1.2 .5-3.8 .5 6.4 .5 6.2 .5-9.1 .5 8.9 .5-.7 .5-3.8 .5 .3 .5 .5 .5-3.4 .5 2.3 .5 1 .5 2.6 .5 .8 .5-5.5 .5 5.9 .5-5.8 .5 2.4 .5 2.1 .5-1.3 .5-.2 .5 1.6 .5-2.9 .5-.2 .5 1.7 .5 4.4 .5-3.7 .5 7.3 .5-5.9 .5-7.5 .5 5.4 .5 7.6 .5-5.8 .5-1.4 .5-1.5 .5 8 .5-1 .5-1.1 .5-.8 .5 3.8 .5-2.1 .5-7.2 .5 7.2 .5-2 .5-.8 .5 3.1 .5-2.4 .5-6.7 .5 12.2 .5-1.7 .5-3.9 .5-.8 .5 2.2 .5-5.1 .5 5.6 .5-1.7 .5-.3 .5-1.9 .5 1 .5 6.2 .5 .9 .5-2.7 .5-1.8 .5-2.7 .5 5.5 .5 3.1 .5-10.8 .5 9.6 .5-10.4 .5 5.4 .5 2.6 .5-5.8 .5-.4 .5 5.8 .5 2.5 .5-4.5 .5 6.2 .5-7 .5 8.6 .5-5.4 .5 .5 .5 1.4 .5-.9 .5 5.2 .5 .2 .5-4.4 .5-2.2 .5-3.3 .5 1.5 .5 2.6 .5-.2 .5 .3 .5 .2 .5 1.7 .5-5.9 .5 1.1 .5 7.1 .5-.8 .5-4.4 .5 6.1 .5-6.3 .5 1.4 .5-5 .5 8.8 .5-2.7 .5 3.6 .5-1.1 .5-1.9 .5 .3 .5 3.4 .5-4.2 .5 .1 .5 .8 .5 2.4 .5 .5 .5 3.1 .5-6.1 .5 4.4 .5-6 .5 4 .5-1.4 .5 5.2 .5-3.5 .5-3.2 .5 3.3 .5-.6 .5-2 .5 .1 .5-1.9 .5 8.8 .5-5.3 .5 2.7 .5-6.6 .5 .3 .5 3 .5 .1 .5 3 .5-5.5 .5 4.9 .5 3.1 .5-7.5 .5 5.7 .5-5.7 .5 4.1 .5 .1 .5 4.3 .5-7.4 .5 2.7 .5 2.8 .5-6.7 .5 3.6 .5-2.6 .5 .6 .5 4.3 .5 .1 .5 3.6 .5-1.4 .5-.2 .5-4.3 .5-.4 .5 1.4 .5-6.2 .5 10.9 .5-7 .5-1.1 .5 1.9 .5 4.1 .5 1.1 .5-4.8 .5 2.5 .5-1.4 .5-2.8 .5 3.6 .5-.4 .5-4.6 .5 7.9 .5-7.9 .5 5.4 .5-3.7 .5 .7 .5 .4 .5 4.3 .5-5.8 .5 3.2 .5 5.2 .5-6.6 .5 2 .5 2.1 .5-3.6 .5 3.2 .5-3.3 .5 4.1 .5-1.9 .5-2.8 .5 6.9 .5-4.4 .5-.5 .5-1.8 .5 1.4 .5 1.1 .5 .9 .5 2.7 .5-7 .5 2.9 .5 4.6 .5-2.9 .5 .7 .5 3.5 .5-3.6 .5 .4 .5-1.4 .5 5.2 .5-2 .5-5 .5 3.7 .5-4.9 .5 6.5 .5-1.1 .5-2.4 .5-.6 .5-4 .5 7.4 .5-2.5 .5-.5 .5 3 .5-3.9 .5 .3 .5-.3 .5-1.8 .5 9.3 .5-5.9 .5-.4 .5 3.6 .5-7.9 .5 5.4 .5 .1 .5-2.7 .5 4.1 .5-6.6 .5 5.4 .5 2.5 .5-7.7 .5 1.2 .5 3.6 .5 .4 .5-1.7 .5 2.8 .5-.3 .5-4.4 .5 3.5 .5-3.3 .5-1.3 .5 0 .5 7.9 .5-3.2 .5 5.8 .5-9.5 .5 3.1 .5 2 .5-1.3 .5 1.9 .5-1 .5-2 .5-3.1 .5 2.3 .5 7.4 .5-2.6 .5 1.8 .5-5.4 .5 1.2 .5-1.9 .5 3.6 .5-.9 .5 1.2 .5 3.6 .5-7.1 .5 4.4 .5-5.8 .5 6.9 .5-4.2 .5 1.1 .5 .6 .5 4.2 .5-4.6 .5-1.2 .5-1.8 .5 4 .5-3 .5 1 .5 1.3 .5 2 .5-3.7 .5 3.8 .5 3 .5-8.8 .5 7.8 .5 1.8 .5-7 .5 3.3 .5-5.3 .5 4.6 .5-1.7 .5 1.7 .5-3.2 .5 .3 .5 1 .5-.6 .5 .2 .5 1.2 .5-2.4 .5 2.6 .5 1.8 .5-6 .5 5.3 .5-2.5 .5-1 .5-.5 .5 1.3 .5 .3 .5 3 .5-4.3 .5 6.2 .5-4.9 .5 4 .5 1.2 .5-6.1 .5 6.1 .5 2.7 .5-6.6 .5 2.8 .5-1.8 .5 .7 .5-.7 .5-.8 .5 3.3 .5 .5 .5-2.3 .5 4.1 .5-1.1 .5-.9 .5-3.7 .5 6.9 .5-1.5 .5-8.3 .5 2.1 .5 1.6 .5 3.8 .5 .8 .5-3.9 .5 1.4 .5 1.2 .5-5.1 .5 5 .5-2.3 .5 1.3 .5-.6 .5-2.9 .5 .5 .5 2.8 .5 .2 .5-.9 .5 3.4 .5-3.6 .5-2.2 .5 2.3 .5 .5 .5 .1 .5 3.4 .5-1.6 .5 1.4 .5-1 .5-2 .5 3.1 .5-3.3 .5 1.3 .5-3.1 .5 2.8 .5-1 .5 1.8 .5 3.8 .5 .2 .5-2.2 .5-2.7 .5 2.3 .5-1.5 .5-2.1 .5 1.4 .5-.4 .5-.9 .5 5.1 .5-4.9 .5 .2 .5 3.1 .5-3.5 .5-1.2 .5 .8 .5 3.5 .5-.3 .5-.1 .5-1.9 .5-1.1 .5 4.6 .5-5.9 .5 3.2 .5-2.8 .5 2.3 .5 .7 .5 3.5 .5-7.9 .5 8.4 .5-5.7 .5 3 .5 1.3 .5-3.9 .5 1.8 .5 1.5 .5-1.6 .5-1.5 .5 2.4 .5-.2 .5-4 .5 7.2 .5-2.8 .5-5.3 .5 2.7 .5 6.5 .5-.3 .5-3.3 .5-4.9 .5 3.7 .5 3.3 .5-1.7 .5-1.8 .5-.9 .5 3.9 .5-2.6 .5 1.4 .5 .4 .5 2.9 .5-3.6 .5 .2 .5-5 .5 7.2 .5-.5 .5-2.2 .5-4.8 .5 3.5 .5 1.6 .5 4.4 .5-3.1 .5 .5 .5 .1 .5 1.3 .5-6.1 .5 .8 .5-.8 .5 2.2 .5-.1 .5 1.1 .5-2.7 .5 2.7 .5-2.3 .5 6.8 .5-5.9 .5 5.9 .5-.5 .5-7 .5 5.3 .5-.8 .5-5.2 .5 5.3 .5-1.7 .5 1.1 .5-3 .5 2 .5 1.2 .5-1.4 .5-1.1 .5 1.2 .5-2 .5 3.2 .5-5.5 .5 8.4 .5-3.5 .5 1.1 .5 .9 .5-5.1 .5 7.6 .5-7.2 .5 3.9 .5-.4 .5 2.5 .5-3.2 .5-3.4 .5 4.2 .5-5.4 .5 4.2 .5-.6 .5 4.9 .5-4.5 .5-.4 .5-.7 .5-.2 .5 .7 .5 2.9 .5-4.7 .5 2.7 .5-3 .5 3.2 .5 .8 .5-3.4 .5 1.6 .5 1.7 .5 1.6 .5 .5 .5-2.6 .5-2.1 .5-1.5 .5 5.8 .5 1.5 .5-2.5 .5 2.9 .5-4.8 .5 .1 .5 4.8 .5-6.2 .5 3.9 .5-.5 .5-.6 .5 3.8 .5-6.2 .5 1.1 .5-3.6 .5 2.1 .5 1.3 .5 .3 .5 .4 .5 1.3 .5-2.4 .5-2.9 .5 4.9 .5 .7 .5-3.8 .5 .9 .5 6.2 .5-1.8 .5 .2 .5-1 .5-1.3 .5-1.6 .5 2.6 .5-1.8 .5-.6 .5 1.1 .5-.2 .5 2.4 .5-4.5 .5 6.9 .5-7 .5 1.4 .5 3.3 .5-4.2 .5 .8 .5 1.2 .5-4.5 .5 3.3 .5-1.1 .5 1.7 .5 1.8 .5 .4 .5 2 .5-.1 .5-1 .5-2.5 .5 2.6 .5-4.9 .5 2.2 .5 3.7 .5-1.6 .5-5.2 .5 1.9 .5 3.6 .5-.7 .5 1.1 .5-6.8 .5 1.2 .5 2.5 .5-1.8 .5 2.3 .5 .1 .5 .8 .5-1.1 .5 1.7 .5 .5 .5-1.5 .5-3.3 .5 6.1 .5-2.6 .5 .5 .5-.6 .5-4.3 .5 5.3 .5-3 .5-1.3 .5 6 .5-3.8 .5 1.4 .5 1.4 .5 1.8 .5-8.2 .5 2.5 .5 3.4 .5-3.2 .5-2.9 .5 4.9 .5 .2 .5 1.3 .5-1.3 .5-1.6 .5 1.6 .5-.6 .5-1.2 .5 1.9 .5 .2 .5-3.3 .5 4.9 .5-.5 .5-.1 .5-6.4 .5 4.8 .5-.5 .5-2.1 .5 3.7 .5-4.9 .5 6.5 .5-2 .5-2.1 .5 4.6 .5-2.3 .5-.3 .5-3.9 .5 4.3 .5 2.1 .5-.7 .5-5.7 .5 6.4 .5 .5 .5-1.9 .5-2.9 .5-2.7 .5 1.4 .5 .8 .5 2.1 .5 .6 .5-3.1 .5-2.1 .5 2.9 .5-2.2 .5 6.3 .5-6.1 .5 4.1 .5 .8 .5-4.3 .5 4.7 .5-2.7 .5-1.6 .5-.4 .5 2.5 .5 2.3 .5-6.9 .5 5.8 .5-1.8 .5-1.5 .5 1.6 .5 .2 .5-.1 .5 2.1 .5-4.1 .5 6.7 .5-2.5 .5-3.5 .5-3 .5 4.4 .5-1 .5 2.8 .5-.1 .5 2.9 .5-4.9 .5 2.2 .5-2.9 .5 .1 .5 4.6 .5-4 .5 .1 .5-.6 .5 1.6 .5 .6 .5-1.7 .5-2.4 .5 3.5 .5-2.7 .5 1.1 .5 1.3 .5 .1 .5-5.1 .5 8.6 .5-2.2 .5 2.6 .5 0 .5-6.8 .5 .9 .5 2 .5 1.6 .5-3.5 .5 .5 .5 3.3 .5-4.7 .5 2.6 .5 2.1 .5-3.2 .5 2.4 .5-2.1 .5-3.5 .5 2.4 .5 .8 .5-.3 .5 .8 .5 .9 .5-.3 .5-.2 .5-1.5 .5 .5 .5-.4 .5-.5 .5 4.6 .5-7.5 .5 4.8 .5-4.5 .5 2.5 .5 3.3 .5-2.6 .5 4 .5-5.7 .5 1.6 .5-.8 .5 1.5 .5-.8 .5-.2 .5 1.1 .5 2.4 .5-2.3 .5-.3 .5-.8 .5-1 .5-1.8 .5 .9 .5 2.6 .5-4.1 .5 5.5 .5-2.6 .5-1.2 .5 .9 .5 2.8 .5-.7 .5-.2 .5 3.6 .5 .8 .5-8.1 .5 5.2 .5-3.9 .5-1.4 .5 2 .5 3.7 .5-3.1 .5-.4 .5 4.5 .5-2.1 .5-1.4 .5 4.6 .5-3.2 .5-2.9 .5-.8 .5 1.6 .5 1.4 .5 1.8 .5-.2 .5-1.7 .5-3.1 .5 5 .5-2 .5-2.9 .5-.3 .5 3.4 .5 .3 .5 1.1 .5-4.9 .5 7.5 .5-8.9 .5 4.2 .5 3.3 .5-.7 .5-4.8 .5 3.7 .5 1.5 .5-1.2 .5-4.1 .5 6.3 .5-7.9 .5 4 .5-2.7 .5 1.5 .5 .2 .5 2 .5-4.2 .5 3.5 .5 2.6 .5-3 .5 1.2 .5-.3 .5-2.9 .5 .9 .5 1 .5 1.1 .5 3.5 .5-.8 .5-5 .5 0 .5-1.4 .5-1.9 .5 7.5 .5-1.9 .5-5.6 .5 4.4 .5 4.7 .5-3.6 .5 .1 .5-.7 .5-2.4 .5-.9 .5 .8 .5 2.3 .5-.9 .5 2.3 .5 2.5 .5-2.8 .5 .6 .5-2.9 .5-2.2 .5 7.7 .5-2.9 .5 1.1 .5-3.7 .5-3.2 .5 7.3 .5-7.7 .5 4.1 .5-.9 .5 1.8 .5 1.4 .5 .1 .5-6.5 .5 6.9 .5-6.9 .5 6.1 .5-2.7 .5-1.7 .5 1.5 .5-2 .5 3.2 .5 2.3 .5-.3 .5-1.9 .5 2.6 .5-1.5 .5 3.4 .5-3.3 .5-2.7 .5 .7 .5-1.1 .5 1.1 .5 .3 .5 2 .5 .3 .5-1.8 .5 .9 .5-2.8 .5 .4 .5-3.1 .5 2.6 .5 .6 .5 5.8 .5-7.9 .5 3.5 .5-1 .5-3 .5 4.4 .5-.6 .5-3.6 .5-.9 .5 4.3 .5-3.3 .5 5.1 .5-2.3 .5 1.9 .5-2 .5 4.5 .5-2.1 .5 2 .5-3.4 .5-2.8 .5-.9 .5 2.2 .5 1.9 .5-2.2 .5 6 .5-4.7 .5 1.3 .5-.9 .5-3.3 .5 5.6 .5-1 .5 .5 .5-4.4 .5 2.4 .5-.2 .5 3 .5-6.3 .5 5 .5 1.5 .5-4.2 .5-1 .5 5.3 .5-2.7 .5 2.2 .5-1 .5 .8 .5-3.1 .5-4.2 .5 6.1 .5-3.2 .5 3.2 .5-2.9 .5 5.3 .5-4.6 .5 2.6 .5 .7 .5-3 .5 1 .5-.9 .5-2.3 .5 5.9 .5-5.9 .5-1.7 .5 2.6 .5 1.5 .5-.2 .5-1.1 .5-.3 .5-3.6 .5 6.2 .5 2.7 .5-6.2 .5-2.7 .5 6.2 .5-2.3 .5-4.4 .5 2.8 .5-1.9 .5 .7 .5 7.4 .5-2.2 .5-2.9 .5 .3 .5 3.8 .5-6.8 .5 4.5 .5-3.6 .5 3.6 .5-1.7 .5-2.6 .5 4.5 .5-1.5 .5 3 .5-5.8 .5 1.2 .5-2.3 .5 4.7 .5-5.4 .5 1.7 .5 3.1 .5-2.3 .5-.9 .5-.4 .5-.2 .5 .4 .5-3 .5-4.8 .5 8.2 .5-7.1 .5 7.1 .5-4.8 .5 3.4 .5-2.5 .5-3.1 .5 .4 .5-7.9 .5 3.1 .5-3.1 .5-.8 .5-7.9 .5-2.6 .5 5 .5-5.9 .5-6.2 .5-4.5 .5-9.1 .5-8.1 .5-6 .5-16.6 .5-11.2 .5-24.6 .5-26.6 .5-17.6 .5-22.5 .5-31.9 .5-20.6 .5-22.1 .5-5 .5-5.7 .5 6.8 .5 2.1 .5 28.4 .5 30.6 .5 19.2 .5 23.8 .5 19.7 .5 28.7 .5 14.8 .5 18.8 .5 8 .5 18.3 .5 1.5 .5 2.8 .5 10.7 .5 5.4 .5 6.3 .5-2.5 .5 2.3 .5 3 .5 1.5 .5-2.5 .5 8.7 .5 2.7 .5-4.6 .5 .4 .5 3.2 .5-1.1 .5 5.2 .5-3.2 .5 3.9 .5-4.5 .5 .1 .5 .1 .5 .8 .5 5.3 .5 1.4 .5-1.5 .5 .5 .5-5.1 .5 7.9 .5-5.8 .5 6.8 .5 1.6 .5-4.4 .5 1.6 .5 .2 .5-4.8 .5 .6 .5 1.3 .5 2.3 .5 1.9 .5-1.8 .5 2.7 .5-4 .5-2.2 .5 3.8 .5-.2 .5-3.3 .5 6.2 .5-4.9 .5 .7 .5 2.4 .5-3.1 .5 4.3 .5-.5 .5 .2 .5-1.1 .5-1.1 .5-.7 .5 2.7 .5 2.7 .5-1.4 .5-1 .5 1.7 .5 .8 .5-6.4 .5 3.1 .5 3.2 .5-4.6 .5 .5 .5 2.7 .5-2.1 .5 3.6 .5-3.7 .5 2.3 .5 3 .5-1.6 .5-6.2 .5 .8 .5 .1 .5 2.4 .5-3.3 .5 4.8 .5 2.9 .5-.3 .5-5.8 .5 1.2 .5 0 .5-1.3 .5 6.2 .5-5.8 .5-1 .5 3.6 .5-.1 .5 3 .5 0 .5-4.2 .5-4.1 .5 6.2 .5 .3 .5 2.5 .5-8.3 .5 1 .5 6.7 .5 .2 .5-.8 .5-3.3 .5 3.2 .5-4.5 .5-1.7 .5 2.9 .5 .4 .5 1.7 .5 .7 .5-6.9 .5 5 .5 .5 .5-4.3 .5 2.4 .5 .8 .5 .9 .5-3.1 .5 .6 .5-1.2 .5 3.5 .5-1.7 .5-.6 .5 3 .5-2 .5-2.5 .5 5.7 .5-.4 .5-1.3 .5-3.6 .5 5.2 .5-4.1 .5-3.1 .5 4.2 .5 4.7 .5-5.5 .5 2.5 .5 1.9 .5-2.9 .5-1.2 .5 .7 .5 1.4 .5-2.6 .5 2 .5 .5 .5-2.3 .5 2.7 .5-.4 .5-2.2 .5 .3 .5 .7 .5-.6 .5-.2 .5-2 .5 2.7 .5 1.5 .5-.2 .5-3.6 .5 3.3 .5 .1 .5-3.8 .5 3.5 .5-1.7 .5-.5 .5 1.4 .5-1.2 .5-4 .5 5 .5-3.3 .5 2.4 .5 1.8 .5-2.3 .5-.6 .5 1.3 .5 .8 .5-3.4 .5 .4 .5 2.7 .5 2.5 .5-4.1 .5 2 .5-4.1 .5 1.6 .5 0 .5-3.6 .5 2.9 .5-.7 .5-4.5 .5 4 .5 .6 .5-.6 .5-.4 .5-4.2 .5 .2 .5 .5 .5-2.8 .5-.3 .5 3 .5-7.6 .5-.8 .5 3.4 .5-8.9 .5-6.5 .5-.7 .5-5.4 .5-5.9 .5-12.5 .5 .1 .5-6.3 .5-.2 .5-10.1 .5-7.8 .5 1.8 .5 2.6 .5 .3 .5 5.7 .5 11.5 .5 3.4 .5 6.8 .5 1.3 .5 10.4 .5-2.1 .5 14.1 .5-1.1 .5 6.4 .5 4.9 .5-4.6 .5 8 .5-1 .5 3.7 .5-2.9 .5 .1 .5 5.8 .5-1.6 .5-.4 .5-2.5 .5 6.5 .5-3.7 .5 .6 .5-.9 .5 2 .5 1.6 .5-1.4 .5 .2 .5-1 .5 5.1 .5 .5 .5-4.5 .5-1.3 .5 2.9 .5-4.4 .5 4.5 .5 .2 .5-.2 .5 3.5 .5 .6 .5-3.2 .5-1.8 .5 3.3 .5 .3 .5-5.5 .5 1.2 .5 1.2 .5-3.3 .5 1.3 .5 6.6 .5-6.8 .5 5 .5-3.9 .5 4.3 .5-1.6 .5 1.4 .5-5.3 .5 4 .5-2 .5 3.1 .5-.1 .5-1.2 .5-.7 .5 .3 .5 .6 .5-1.7 .5 .1 .5-.4 .5-1 .5 5 .5-5.6 .5 6.2 .5-1.4 .5-5.6 .5-.3 .5 4.3 .5-2.5 .5 2.8 .5 1.9 .5-1.3 .5-1.4 .5 .1 .5 3.9 .5-4.3 .5 4.9 .5 .4 .5-5.2 .5 1.5 .5 3.4 .5-5.6 .5 2.6 .5 1.5 .5-4.9 .5 3.3 .5-.5 .5-1.6 .5 4.9 .5-3.9 .5 4.6 .5-2.6 .5-3.3 .5 2.2 .5-2.3 .5 3.6 .5-.3 .5-4.3 .5 1.8 .5 2.1 .5-1 .5-2.4 .5 4.8 .5 .6 .5-6.6 .5 6.9 .5-8.1 .5 4.3 .5-1.2 .5 .3 .5 1.7 .5-3.1 .5 2.4 .5 4.2 .5-2.9 .5 2.4 .5-1.4 .5-5.8 .5 7.9 .5-2.1 .5-.5 .5-2.4 .5-.3 .5-1.2 .5 2 .5 .7 .5-.7 .5 0 .5-4.1 .5 2.7 .5 0 .5 2.5 .5-1.8 .5 0 .5 1.3 .5-1.3 .5 .4 .5 3.2 .5-2.9 .5-1.7 .5 3.5 .5 .4 .5-.4 .5-4.5 .5 5.3 .5-2.1 .5 .2 .5-.1 .5 .9 .5 0 .5 2.3 .5-2.8 .5-.8 .5 1.7 .5-1.7 .5 2.7 .5-2.1 .5 1.3 .5-2.8 .5 3.4 .5-.8 .5-3.4 .5 1.1 .5 1.1 .5-3.3 .5 .6 .5 3.6 .5 0 .5 1.9 .5-6 .5 2.1 .5-3.8 .5 8.7 .5-7.1 .5 2.5 .5 4.9 .5-1.1 .5-5.2 .5 6.3 .5-3.3 .5-3.4 .5 2.9 .5 .9 .5 0 .5-6.1 .5 8.8 .5-7.8 .5 3.1 .5 3.8 .5-2.4 .5-1 .5-1.3 .5 2.7 .5 1.9 .5-4.4 .5 2.2 .5-1.8 .5-.1 .5-3.6 .5 5.1 .5 1.6 .5-2.5 .5 2.8 .5-2 .5 2.4 .5-2.5 .5-1.1 .5-.3 .5 1.3 .5 .5 .5-2.5 .5 1.5 .5-2.7 .5 0 .5 4.5 .5-.6 .5 1.2 .5-1.7 .5 .2 .5 3.6 .5-6 .5 2.5 .5 2.9 .5 .8 .5-3.1 .5-1.5 .5-2.1 .5 2 .5 .7 .5-.3 .5 1.1 .5 .1 .5-2.3 .5-1 .5 1.4 .5 1.6 .5 2.8 .5-7.5 .5 6.2 .5-3.1 .5 3.1 .5 1.8 .5-3.1 .5-3.7 .5 1.6 .5 1.8 .5-1.6 .5 .6 .5-1.6 .5 1.2 .5-.9 .5 3.4 .5-1.3 .5 1 .5-5.4 .5 2.7 .5-.6 .5 .7 .5-1 .5 .3 .5 5.2 .5-4.2 .5-2.2 .5 2.2 .5 5 .5-2.8 .5-3.7 .5 1.6 .5 .4 .5 .2 .5-4.2 .5 2 .5 1.8 .5-3.5 .5 3.4 .5 .6 .5 1.6 .5 .6 .5-2.8 .5 1 .5 1 .5 .7 .5-2.1 .5-1.8 .5 3 .5 .6 .5-1.6 .5 1 .5 2.3 .5-4.8 .5-.4 .5-.9 .5 3.3 .5 1.3 .5-3.2 .5 5.2 .5-5.4 .5 1.9 .5-.9 .5 3.4 .5-4.5 .5 5.1 .5-4.1 .5-2.6 .5 1.7 .5 1 .5 4.1 .5-4.8 .5 1 .5 4.4 .5-4 .5-1.8 .5-.2 .5-1.9 .5 4.3 .5 1.9 .5-3.5 .5-1.6 .5 3 .5-.6 .5-.3 .5 1.3 .5-.9 .5-.9 .5 3 .5-6.4 .5 1.6 .5 2 .5-2.5 .5 6.5 .5-7.9 .5 6 .5-.3 .5-.5 .5 .2 .5-2.2 .5-.4 .5 4.9 .5-3.6 .5-2.9 .5 .5 .5-.7 .5 4.1 .5 1.9 .5-3.2 .5 1 .5-1.5 .5 3.2 .5 0 .5 .1 .5 2 .5-6.8 .5 4.5 .5-5.2 .5 5.1 .5 .2 .5-.2 .5 .2 .5-2.1 .5-1.1 .5 3.2 .5-3.2 .5 3.1 .5-3.5 .5 2.6 .5-.1 .5-2.5 .5 1.2 .5 2.7 .5-1.9 .5 1.1 .5-2.4 .5 1.5 .5-3.6 .5 1.6 .5 4.5 .5-1.6 .5-1.1 .5 .2 .5-3.3 .5 4 .5-3.7 .5 1.1 .5 3.2 .5-3.2 .5 .5 .5 .9 .5 .4 .5 2.8 .5-6.8 .5 2.9 .5 2.2 .5-2.4 .5 .2 .5-1 .5 1.2 .5 2.1 .5 1.3 .5-2 .5 2.3 .5-2.8 .5-3.9 .5 5.3 .5-6.1 .5 4.3 .5 .2 .5-2.6 .5 2.1 .5-.7 .5 1.5 .5-1 .5 2 .5-2.2 .5 2.2 .5-1.3 .5 .5 .5-.2 .5-1.4 .5 3.6 .5-1.2 .5-5.8 .5 1.8 .5 6.5 .5-4.4 .5 5 .5-3.4 .5 0 .5-2 .5 .5 .5 .9 .5 1.6 .5-1.8 .5-.3 .5-2.1 .5 1.2 .5 .1 .5 .6 .5-1.3 .5-.8 .5 1.7 .5-3.7 .5 1 .5 1.5 .5 2.7 .5-2.5 .5-.8 .5 3.8 .5-1.7 .5 3.2 .5-3.5 .5-1.1 .5 .8 .5 4.7 .5-.5 .5-3.1 .5 2 .5-5.4 .5 5.8 .5-2 .5-.9 .5 .2 .5 .5 .5-1.5 .5 .1 .5-1.8 .5 6.1 .5-5.5 .5 1.6 .5 2.6 .5 .4 .5 .5 .5-4.5 .5 .3 .5 .8 .5-3.8 .5 5.9 .5-5.6 .5 3.3 .5 2.3 .5-.2 .5-2.8 .5 3 .5 .4 .5-6.1 .5 3.1 .5 2 .5-.5 .5-1.4 .5 .2 .5 5.4 .5-5.9 .5 3.1 .5-4.9 .5 3.8 .5 1.1 .5-3.2 .5-.4 .5 5.5 .5-4.5 .5 2.7 .5-5.4 .5 6.9 .5-7.7 .5 2 .5 .7 .5 1.3 .5 .5 .5 3.2 .5 1.1 .5-.5 .5-2.3 .5-1.3 .5-4.7 .5 4 .5-1 .5 2.6 .5-3.6 .5 .4 .5 .2 .5 3.1 .5-1.1 .5-2.6 .5-1.5 .5 2.5 .5-.1 .5 .2 .5 1.4 .5 1.4 .5 .1 .5-3.2 .5-.2 .5 5 .5-3.8 .5 2.1 .5-1.2 .5 .5 .5 2.7 .5-4.1 .5 3 .5-1.3 .5-1.5 .5-.7 .5-.1 .5 3.7 .5-.3 .5-4.1 .5 2.8 .5-4.9 .5 4.1 .5 4.4 .5-7.2 .5 3.4 .5-2.1 .5 1.6 .5-2.6 .5 2.8 .5-4.9 .5 3.9 .5-.1 .5 .5 .5 4.6 .5-7 .5 1 .5-1.5 .5 4.1 .5-1.1 .5-2.6 .5 4.7 .5-1.5 .5 2.6 .5-1.5 .5-1.5 .5-2 .5-2.6 .5 3 .5 3.8 .5-3 .5-1.4 .5 2.4 .5 1.1 .5 3 .5-6.9 .5 1.5 .5-1.8 .5 .9 .5 3.7 .5-2.3 .5-3.1 .5 6.3 .5 .9 .5-2.2 .5-4 .5-.2 .5 5.3 .5-5.2 .5 1 .5-2 .5 7.6 .5-5.9 .5 1.2 .5-1.4 .5 .2 .5-1.1 .5 5.1 .5-4.1 .5 4.8 .5-6.2 .5 4 .5 1 .5-4.8 .5 3.2 .5-1.9 .5-1.2 .5 1.5 .5-3.3 .5 3.5 .5-2.8 .5 4.9 .5 2 .5-.3 .5-4.9 .5 1.3 .5 4.8 .5-1.6 .5-1.5 .5-5.7 .5 3.5 .5 5.5 .5-3.8 .5-2.1 .5 1.2 .5 4.6 .5-1.9 .5-6 .5 .3 .5 2.7 .5 2.8 .5-4.7 .5 .3 .5-2.9 .5 2.7 .5 2.8 .5-.1 .5-4.9 .5 5.2 .5-3.9 .5-1.4 .5 4.4 .5-5.1 .5 2.6 .5-1.1 .5 1.6 .5 .8 .5-1.7 .5-1 .5 .6 .5-3 .5 3.7 .5 5.1 .5-4.2 .5 1.8 .5-2.9 .5-.1 .5 .9 .5 .4 .5-.3 .5-3.8 .5 1.9 .5-4 .5 6 .5-2.9 .5-1 .5-2.7 .5 3.9 .5 .9 .5-1.6 .5 1 .5-5.2 .5 3.7 .5-3 .5-5.4 .5 4.6 .5-4.2 .5 1.1 .5-2.6 .5-2 .5 3.7 .5-6.3 .5-.1 .5-.9 .5-5.9 .5-5.8 .5 .4 .5-4.6 .5-7.1 .5-1.7 .5-1.4 .5-6.9 .5-4.2 .5-7.3 .5-11.7 .5-8.1 .5-12 .5 2.3 .5-14.4 .5-1.1 .5 0 .5-10.7 .5-9.5 .5 1.9 .5 4.8 .5 11.1 .5-2.7 .5 6.8 .5 2.7 .5 13.3 .5 6.4 .5 10.2 .5 .4 .5 12.9 .5-.9 .5 8.8 .5 6.1 .5 6.3 .5 6.6 .5-3.1 .5 9.3 .5 2.4 .5 .1 .5 5.6 .5 4.3 .5-.6 .5 1.6 .5 4.6 .5-2.6 .5 5.9 .5-.8 .5 1 .5 1.2 .5 2.3 .5-4.4 .5 5.3 .5-4.7 .5 3.6 .5 1 .5-.7 .5-2.8 .5 .1 .5 .5 .5 2.9 .5 .8 .5 1.2 .5-4.9 .5 4.7 .5 1.9 .5-1.8 .5-.3 .5 2.2 .5 2 .5-.1 .5 .2 .5-6.5 .5 6.6 .5-4.1 .5 2.9 .5-3.3 .5 2.4 .5-2.1 .5 .7 .5 5.2 .5-7.1 .5 5.2 .5-2.1 .5-2.7 .5 5.8 .5-3 .5-1.3 .5 2.2 .5-2.6 .5 5.8 .5-7.3 .5 2.3 .5-3.3 .5 5.2 .5 1.4 .5 .3 .5 1.5 .5-3.6 .5-1 .5 3.3 .5-3.5 .5 2.2 .5-1.8 .5-.6 .5 1.6 .5 2.8 .5-.5 .5-1.7 .5-5 .5 4.7 .5 .9 .5 .4 .5-2.9 .5 4.1 .5-1.6 .5-5.1 .5 6.2 .5 2 .5-3.1 .5-2.4 .5 6 .5-1.8 .5-6.6 .5 6.7 .5-1.5 .5-.2 .5-4.8 .5 .2 .5 4.3 .5 3.8 .5-3.8 .5-.1 .5-1.7 .5 .5 .5 3.4 .5-4.2 .5 6 .5-3.1 .5-.4 .5-1 .5-1.4 .5 1 .5-2.7 .5 3.5 .5-4.6 .5 8.8 .5-4.6 .5-3.4 .5 4.1 .5-.3 .5-1.6 .5 1.9 .5-2.4 .5 1.5 .5-.1 .5 1.6 .5-2.4 .5 1.9 .5-4.9 .5 6.8 .5-2.1 .5 .9 .5-1.9 .5 2.7 .5-2.1 .5 .5 .5-.2 .5-1.5 .5-.8 .5 3.4 .5 .2 .5-1.6 .5 3.1 .5-2.6 .5 .8 .5 1.5 .5-.9 .5-2.1 .5-2.1 .5 .8 .5-.7 .5 4.3 .5-6.2 .5 8.8 .5-6.5 .5 4.6 .5-1.8 .5 .6 .5-4.3 .5 5.4 .5-2.6 .5 1.7 .5-3.6 .5 2.1 .5-1.6 .5 2.4 .5 .9 .5-2.1 .5 1.5 .5 .2 .5-1.4 .5-.4 .5-3.8 .5 6.8 .5-2 .5-1 .5 1.1 .5-1.7 .5 .5 .5 1.9 .5-4.7 .5 2.8 .5 1.3 .5-4.2 .5 1.1 .5 5.4 .5 1.5 .5-3.6 .5 .8 .5-3.5 .5 5.1 .5-3.2 .5 .3 .5 .8 .5-2.3 .5-.3 .5 1.6 .5-2.4 .5 1.1 .5-3.2 .5 2.2 .5 3.4 .5 1.5 .5-1.2 .5-3.3 .5 2.1 .5-2.4 .5-.3 .5 4.8 .5-3.2 .5 .1 .5 1.2 .5 1.7 .5-1.8 .5-.8 .5 1.3 .5-.9 .5-.6 .5-3.8 .5 2.6 .5 1.7 .5-2 .5 6.6 .5 0 .5-.3 .5-6 .5 3.2 .5-.1 .5-.2 .5-4.4 .5 5.8 .5 1.7 .5-2 .5 2.3 .5-4.8 .5 2.3 .5 1.3 .5-5 .5 1.8 .5-1.4 .5 3.7 .5-4.6 .5 3.3 .5-1.9 .5 3.3 .5-3.3 .5 .9 .5 .9 .5-2.3 .5 .7 .5 .4 .5-.6 .5 1.8 .5-2.4 .5 1.9 .5-.9 .5-.8 .5-1.1 .5-1.8 .5 2.7 .5 2.8 .5-2.1 .5 4.2 .5-5.7 .5 1.4 .5-2.8 .5 6.2 .5-5.7 .5 4.1 .5-.4 .5 3.8 .5-1.4 .5-1.2 .5-1.5 .5 4 .5-5.2 .5-2 .5 4.9 .5-2.2 .5-1.4 .5 2.3 .5 .4 .5-4.7 .5 5.8 .5 2.1 .5-5.2 .5-2.6 .5 4 .5-.8 .5 2 .5 .4 .5-2.4 .5 3.7 .5-7.9 .5 2.8 .5 2 .5 .5 .5-1.1 .5 1.2 .5-4 .5-1.5 .5 6.4 .5 1.2 .5-3.1 .5-2.7 .5 1.1 .5 3 .5-.9 .5 2.5 .5 .8 .5-1 .5-3.4 .5 2.9 .5-1.2 .5-.7 .5-.1 .5-.6 .5-2.2 .5 3.2 .5-2.7 .5 1.7 .5 1.9 .5-.1 .5-6 .5 2.6 .5-1 .5 3.2 .5-2.4 .5 3.9 .5-3.3 .5 2.1 .5-3.3 .5 .5 .5 1 .5 1.7 .5-5.5 .5 4.6 .5-3.6 .5 3.7 .5-4.6 .5 3.2 .5 3.7 .5 .6 .5-5.8 .5 6.3 .5-5 .5 1 .5 1.1 .5-1 .5 .6 .5-.5 .5 1.6 .5-1.6 .5-1.6 .5-1.3 .5-.2 .5 2.2 .5 1.8 .5-1 .5-1.5 .5 1.7 .5-2.4 .5 1.6 .5 .7 .5-2 .5 3.9 .5-.5 .5-3.4 .5 2.1 .5-1.1 .5 .2 .5-.1 .5 2.3 .5-2.4 .5-.1 .5 1.4 .5-.2 .5 1.8 .5-6 .5 3.4 .5-6.1 .5 4.3 .5-3.2 .5-.3 .5 2.7 .5-2.4 .5 1.7 .5-4.1 .5 7.7 .5-8.2 .5 2.8 .5 5.5 .5-7.7 .5 7.2 .5-1.8 .5-3.2 .5-1.1 .5-.2 .5 1 .5 1.2 .5 .4 .5-8.8 .5 6.4 .5-1.4 .5-5.6 .5 4.6 .5-.9 .5-1.2 .5-4 .5 .9 .5-.5 .5-7 .5-1.6 .5-2.5 .5 2.7 .5-6.1 .5-5.3 .5-4.2 .5-4.3 .5 1.2 .5-1.8 .5-2.6 .5-12.1 .5-4.4 .5-4.6 .5-4.2 .5-7.1 .5 7.5 .5-8.2 .5-7.4 .5-8.8 .5 11 .5-3.9 .5-3.3 .5 2.7 .5-4.6 .5 7.4 .5-2.1 .5 7.4 .5 1.5 .5-.3 .5 5.4 .5 12.6 .5 4.1 .5 .2 .5 2.6 .5 5 .5 6.8 .5-1.9 .5 11 .5-2.3 .5 2.2 .5 6.1 .5 8.3 .5-5.3 .5 3 .5-.2 .5 5.6 .5 1.6 .5 .6 .5 .3 .5 3.1 .5 2.1 .5-2.4 .5 1.3 .5-.3 .5 .9 .5 5 .5-5 .5 3.4 .5 2.5 .5-3.4 .5 3 .5 .7 .5-5.1 .5 6.2 .5-4.6 .5 3 .5-3.8 .5 0 .5 3.5 .5 4.7 .5 1.1 .5 .1 .5-1.3 .5-.3 .5-.8 .5-.1 .5-2.4 .5-.1 .5 2.2 .5 .3 .5-2.5 .5-1.3 .5 1.2 .5 6.4 .5-6.1 .5 5.1 .5-.5 .5-.2 .5-3.9 .5 6.1 .5-3.9 .5-2 .5-.2 .5 1.4 .5 4.9 .5-7.5 .5 1.5 .5 1.6 .5 1.2 .5-3.6 .5 .2 .5 1.1 .5 2.8 .5-1.9 .5-.1 .5 1 .5-.1 .5 1.9 .5-3.9 .5 1.8 .5-1.5 .5 3.2 .5 .3 .5-2.5 .5 3.3 .5-3.1 .5 3.7 .5-4.2 .5-.1 .5-2.4 .5 1.1 .5 1.5 .5-3.5 .5 4.3 .5 2 .5-.7 .5-.8 .5 1.1 .5-2.9 .5 .2 .5 3 .5-2.3 .5 2.6 .5-3.4 .5 2.6 .5 1.3 .5-3.1 .5 4.1 .5-.5 .5-8.1 .5 8.8 .5-8.5 .5 8.1 .5-6.9 .5-2.7 .5 .8 .5 3.9 .5-4.2 .5 .4 .5 3.6 .5-6.3 .5 2.7 .5 1 .5-9.1 .5 .6 .5 2.6 .5-1.5 .5 0 .5-6.1 .5 2.7 .5 3.7 .5 1.1 .5 2.7 .5-3.3 .5 .3 .5 .5 .5 1.2 .5-1.3 .5 9.7 .5-4.4 .5 0 .5 .8 .5 3.4 .5-.7 .5-1.7 .5 4.5 .5-1.5 .5-.9 .5 .6 .5 2.9 .5-1 .5-1.7 .5 2.7 .5-6.6 .5 6 .5-3.6 .5 .5 .5 1 .5 5 .5-4.7 .5 0 .5 1.8 .5-5.6 .5 3.7 .5 2.2 .5-3.9 .5 3.7 .5-3.1 .5-1.7 .5 5.6 .5-1.9 .5 1.6 .5-1.3 .5-2.9 .5 4.9 .5-1.4 .5 .1 .5-1.9 .5-1.6 .5 5.9 .5-1.5 .5-1.4 .5-1.7 .5 4.5 .5-5.1 .5 .2 .5 6.2 .5-3 .5 .7 .5-.4 .5 2.7 .5-3.4 .5 .2 .5-3.1 .5 2.1 .5-3.6 .5 2.6 .5 .9 .5 1.7 .5 1.4 .5-4.7 .5-.9 .5 3.1 .5-2.6 .5 5.9 .5-1 .5-5.1 .5 2.8 .5 2.4 .5-5.1 .5 1 .5 1 .5 3.3 .5-2.1 .5-1.6 .5 1.3 .5-.7 .5 .4 .5 .7 .5-.6 .5 .9 .5-1.4 .5-.7 .5-.1 .5-2.9 .5 2.5 .5 5.2 .5-4.2 .5 1.3 .5 .8 .5-3.1 .5 .3 .5 2 .5-3.3 .5 4.2 .5-.5 .5-1.1 .5 .1 .5 1.1 .5-1.4 .5-4.6 .5 5.5 .5-3.3 .5 1 .5 .2 .5 0 .5-2.9 .5-.4 .5 4.1 .5 .3 .5 .9 .5-3.9 .5 2.2 .5 2.5 .5-2.6 .5-.5 .5 5.7 .5-8.1 .5 1.9 .5-.6 .5 1.3 .5 5.6 .5-6.8 .5 1.8 .5-.6 .5-.6 .5 3.7 .5-2.9 .5 3.5 .5 .8 .5-4.4 .5 4.4 .5-6 .5 3.5 .5 1.7 .5-4.7 .5 2.2 .5 1.2 .5 .3 .5-.6 .5 3.5 .5-4.6 .5 3.1 .5 1.5 .5-5.7 .5 .5 .5-1.4 .5 4 .5 1.6 .5-7.2 .5 1.9 .5 .7 .5 5.6 .5-5.1 .5 1.8 .5-3.7 .5 4.8 .5-4.4 .5 2.3 .5-2.3 .5 2.2 .5-.1 .5 .8 .5 0 .5 3.7 .5-5.9 .5 4.8 .5-2.3 .5-1.2 .5 1.1 .5-.1 .5 1.4 .5-.1 .5-.4 .5-.8 .5-4.3 .5 5.6 .5 .6 .5-1.7 .5-.1 .5-2.7 .5 2.6 .5 1.4 .5-5 .5 1.9 .5-.1 .5 4 .5-3.9 .5-3.1 .5 4.5 .5 2.6 .5-3.4 .5-.6 .5 1.5 .5 3.4 .5-4.5 .5 0 .5 1.6 .5-2.8 .5-2.1 .5 4.2 .5-1.1 .5 1.6 .5-.5 .5 .9 .5-3.7 .5 3.3 .5-2.9 .5 2.9 .5-1.8 .5 4.8 .5-5.8 .5-2.5 .5 4.8 .5-1.4 .5-1 .5 2.6 .5 3.2 .5-4.1 .5-1.2 .5 4.8 .5-.7 .5-2.5 .5-1.3 .5 2.9 .5-3.3 .5 .2 .5-.5 .5 3.1 .5 2.2 .5-3.3 .5 3.9 .5-8.4 .5 4.3 .5-3.8 .5 5.9 .5 .9 .5-7 .5 2.3 .5 1.9 .5-3.6 .5 1.4 .5-.3 .5 2.4 .5-1.9 .5-.9 .5 .8 .5 1.5 .5 .4 .5-.6 .5 3.2 .5-3.6 .5 1 .5 1.2 .5-2.2 .5 3.8 .5-1.2 .5 0 .5-3.7 .5 1.6 .5 1.6 .5 1.2 .5-3.8 .5 .2 .5-1.8 .5-.4 .5 5.9 .5-2.5 .5 1.3 .5 1.2 .5-2.5 .5 .3 .5-2.6 .5 1 .5 2.4 .5 2.1 .5-.8 .5-3.8 .5-.2 .5 3.3 .5-.5 .5 .2 .5-.7 .5 2.3 .5-2.2 .5 2.6 .5-2 .5-1.2 .5-2.5 .5 3.2 .5 1.3 .5-1.6 .5-2.5 .5-2 .5 3.5 .5 4.6 .5-6.5 .5 1.5 .5 1.4 .5 1.8 .5-4.4 .5 2.3 .5 .6 .5-3.3 .5 3.5 .5-3.2 .5 2.7 .5 1 .5-1.2 .5-3 .5 4.4 .5 0 .5-1.2 .5 1.5 .5-2.9 .5-.8 .5 1.4 .5 1.5 .5 .9 .5-3.5 .5 2 .5-.1 .5-1.5 .5-3.3 .5 .6 .5 5.9 .5-5.5 .5-.6 .5 .7 .5 2.5 .5 3.6 .5-2 .5-1.9 .5 .3 .5 1.7 .5-.9 .5-4 .5 6.6 .5-.6 .5-4.4 .5 1.8 .5 1.5 .5-.3 .5-1.4 .5 .9 .5 3.9 .5-4.7 .5 2.9 .5-1.6 .5-3.2 .5 4 .5-.6 .5 1.8 .5 1 .5-1.2 .5-1.6 .5 .5 .5 .6 .5-3.6 .5-.5 .5 4 .5-4.2 .5 1.8 .5 4.6 .5-1.9 .5 .7 .5-2.8 .5 2.6 .5-4.4 .5 0 .5 1.4 .5-1.2 .5 4.5 .5-3.3 .5-2.2 .5 4.6 .5-.4 .5 1 .5-5.3 .5 .8 .5-2.5 .5 5.2 .5-1 .5-1.2 .5 4.3 .5-4.7 .5 .6 .5-.9 .5-.3 .5 2.1 .5-.3 .5-.4 .5-1.7 .5-.5 .5 1.6 .5 1.2 .5-1.8 .5 1 .5 .1 .5-1.3 .5-1.2 .5 3 .5 3.9 .5-2.5 .5-1.3 .5-1.3 .5 .1 .5 3.9 .5-5 .5 6.6 .5-3.8 .5 .6 .5-1.5 .5 3 .5-.1 .5-3.7 .5 5.7 .5-3.6 .5-3.8 .5 4.4 .5-.3 .5-.3 .5 1.5 .5 .5 .5-5.1 .5 2.2 .5 .1 .5 .4 .5-4.1 .5 4.6 .5-.4 .5 4.1 .5-6.2 .5 .8 .5 2.1 .5-1 .5 2 .5 .7 .5-4.7 .5 2.2 .5 1.2 .5-3.1 .5 5.9 .5-3.6 .5-.3 .5-3.8 .5 1.9 .5-3 .5 6 .5-3.3 .5 1.9 .5 .7 .5-.5 .5-1.3 .5 2.5 .5-4.2 .5-1.7 .5 .9 .5 5 .5 1.4 .5-4.7 .5 .2 .5 2.2 .5-4 .5 1.9 .5-2.2 .5 3.3 .5-4.4 .5 .8 .5-.6 .5 3.8 .5 1.2 .5-1.2 .5 4.6 .5-4.5 .5-2.4 .5 1.1 .5 2.5 .5-.5 .5 3.4 .5-4.2 .5-2.7 .5-.5 .5 4.2 .5-6.4 .5 5 .5 .8 .5-3.3 .5 1.2 .5 2.1 .5 0 .5-.9 .5-1.6 .5-3.5 .5-3.4 .5-2.7 .5 8.1 .5-2.9 .5-7 .5 5.1 .5-4.9 .5-1.1 .5-2.5 .5 8.2 .5-9 .5 .9 .5 5.5 .5 1.1 .5 .1 .5-3 .5 3.3 .5-.6 .5 1.9 .5 6.7 .5-2.9 .5 2 .5-3.4 .5 1.5 .5 2.9 .5 2.3 .5-2.9 .5 4.3 .5 1.3 .5-8.5 .5 4.4 .5 1.7 .5-2 .5 4.6 .5-3.6 .5 .6 .5-4.4 .5 6.1 .5-3 .5 1.8 .5-1.6 .5-.9 .5 1.2 .5-2.5 .5 2.4 .5 3.1 .5-.3 .5-4.4 .5 4.2 .5-2.8 .5-.6 .5 2.9 .5 .3 .5-3.1 .5 3.6 .5-2.2 .5 4.6 .5-8 .5 2.9 .5-.1 .5-1.2 .5-1.2 .5 6 .5-2.2 .5-3.8 .5 1.9 .5 .4 .5 1.6 .5-3 .5 5.7 .5-3.4 .5 3.3 .5-2 .5-1.9 .5 .3 .5 1.3 .5-.6 .5 .3 .5 1.2 .5 1 .5-5.1 .5-1.5 .5 1.7 .5 4.9 .5-3.2 .5-1.1 .5 2.3 .5 .9 .5-4.3 .5 .3 .5 2.2 .5-.1 .5-1.5 .5 6.1 .5-1.5 .5-3.3 .5 1.9 .5-4.3 .5 5 .5-2.6 .5-1.2 .5-1.6 .5 5.1 .5-1.7 .5-1.5 .5 3.6 .5-2.9 .5 1.2 .5-1.7 .5 2 .5-3.6 .5 1.8 .5 1 .5-2 .5 .6 .5 2.9 .5-2.7 .5 3.5 .5-1.4 .5-1 .5-3.5 .5 7 .5-.1 .5-2.7 .5-.4 .5-.1 .5-1.1 .5 .3 .5 1.5 .5-4.3 .5 3.3 .5 1.1 .5-5 .5 2.5 .5-2.1 .5 .3 .5 4.5 .5-4 .5 7.2 .5-4.9 .5-1.5 .5 1.2 .5 .6 .5 .8 .5 0 .5 0 .5 1.8 .5 .2 .5-2.5 .5 .6 .5-2.5 .5 .3 .5 .5 .5 4 .5-4.7 .5 2.1 .5-.2 .5 1.5 .5-3.2 .5 .5 .5 3.4 .5-1.9 .5-1.8 .5 4 .5-2.5 .5-1.4 .5 3.3 .5 1.9 .5-5 .5-1.3 .5-2.1 .5 8.6 .5-5.5 .5 .6 .5-1.6 .5 1.9 .5-2 .5 5.9 .5-1.9 .5-2.9 .5-1.5 .5 4.1 .5-3.3 .5 4.9 .5-2.3 .5-.7 .5-2.7 .5 3.3 .5-3.6 .5 5.7 .5-7.1 .5 3.6 .5 5.2 .5-5.5 .5 2.8 .5 .8 .5-1.6 .5-1.1 .5 2.6 .5 .1 .5-3.7 .5 4.9 .5-.6 .5-5.3 .5 3.5 .5 .1 .5-.9 .5-1.8 .5-1.3 .5 3.9 .5-4.9 .5 2.4 .5-3.1 .5 2.8 .5 2 .5-3.7 .5 5.1 .5 .4 .5-1.2 .5 .5 .5 1.9 .5-1.7 .5-5.6 .5 3.6 .5-1.6 .5 2 .5-4 .5 4 .5-.7 .5 1.8 .5-3.4 .5 1.6 .5-4 .5 4.2 .5 .2 .5-2.9 .5 3 .5-3.1 .5 4.2 .5-3 .5 .9 .5 4.8 .5-2.5 .5 2.2 .5-1.2 .5-2.5 .5 3.8 .5-3 .5-.6 .5-1 .5-1.7 .5 3.9 .5-1.7 .5 1.5 .5-1.2 .5 1.6 .5-2.7 .5 1.9 .5 1.8 .5 .6 .5-2.9 .5-2.2 .5 5.6 .5-.6 .5-4.3 .5 4.5 .5-1.7 .5-3.3 .5 2.4 .5-3.2 .5 2 .5 0 .5 .7 .5 2.7 .5-5.9 .5-1.6 .5 6.5 .5-2.3 .5 2.8 .5-.2 .5 1.9 .5-8.4 .5 8.1 .5-3.6 .5-1.1 .5 4.7 .5-.7 .5-6 .5 1.7 .5 4.7 .5-6.5 .5 4.1 .5 .3 .5-1.6 .5-.8 .5 3 .5-2.3 .5-1.8 .5 3.7 .5-4.9 .5 2.4 .5 2 .5-4.3 .5 6.7 .5-2.7 .5-.9 .5-2.3 .5 2.8 .5-1.2 .5 1.6 .5-2.2 .5 1.9 .5-4.1 .5-.1 .5 1.7 .5-3 .5 4 .5 .7 .5-4.1 .5 3.4 .5-1.1 .5-.2 .5 4.5 .5-3.8 .5 .7 .5-1.3 .5 .1 .5 .9 .5 .3 .5-.6 .5 2.9 .5-3 .5 .3 .5 4.2 .5-3.5 .5 1.4 .5-.4 .5-2.6 .5 3.9 .5-2.5 .5-.3 .5-.2 .5 .6 .5 .9 .5-6.7 .5 7.7 .5-8 .5 1.6 .5 4.2 .5-2.2 .5 1.8 .5-4.7 .5 2.6 .5 .9 .5-3.9 .5-.3 .5 1.5 .5 .2 .5-6.9 .5 3.1 .5 .6 .5 1.9 .5-7.9 .5 1.9 .5-4.7 .5-1.2 .5-.7 .5 4.7 .5-4.6 .5-.3 .5-4.5 .5 2.4 .5-3.9 .5 1.5 .5-6.6 .5 2 .5 5.3 .5 4.3 .5 1.2 .5-6.7 .5 3.9 .5 1.4 .5 7.3 .5-5.5 .5 4.1 .5 4 .5-.1 .5-3.9 .5 9 .5-8.8 .5 6.5 .5-.9 .5-1.9 .5 3.1 .5 .5 .5-1.5 .5 1.9 .5 1.1 .5 1.1 .5-4.8 .5 3.5 .5 1.6 .5 2.5 .5 .4 .5-6.9 .5 2.9 .5 2.2 .5 1.2 .5 2.4 .5-4.8 .5-2.1 .5 3.1 .5 .6 .5-2.2 .5-.6 .5 3.7 .5-4.5 .5 1.8 .5 2.1 .5-.3 .5-.3 .5-2.3 .5-2.3 .5 2.4 .5 3.7 .5 .5 .5 1.6 .5-2.4 .5 2.1 .5-3.4 .5 1.1 .5 3.4 .5-6 .5 .3 .5 4.2 .5-.8 .5-6 .5 7.1 .5-5 .5 .2 .5 4.1 .5-1.3 .5 .1 .5 2.1 .5-1 .5-7 .5 5.3 .5 1 .5-1.7 .5-.7 .5 1.2 .5 0 .5-.8 .5-.2 .5-2.3 .5 2.8 .5-2 .5 3.7 .5-3.3 .5 .3 .5-2.3 .5 2.5 .5 1.9 .5-4.2 .5 5.4 .5-2.6 .5-.8 .5 2.2 .5-1.1 .5-5.4 .5 6.8 .5-1 .5-1.8 .5-4.6 .5-.2 .5-.2 .5 6.1 .5 0 .5-2.6 .5-.9 .5-5.1 .5 3.8 .5-3.2 .5 1 .5-3.3 .5 3.6 .5-4.2 .5 .4 .5-2.5 .5-3.4 .5-3.6 .5-.8 .5-.1 .5 2 .5 4.9 .5-4.5 .5-1 .5 3.6 .5-4.7 .5 5.3 .5 1.5 .5-4.4 .5 7.3 .5-1 .5 2.6 .5 .8 .5 2.1 .5-1.4 .5 5 .5 1.1 .5-4.4 .5 3.6 .5-.7 .5 4.1 .5-4.7 .5 2.5 .5-.6 .5-2.8 .5 6.2 .5-1.8 .5-3.5 .5 5.1 .5 .4 .5-6 .5 3.2 .5-.1 .5 .3 .5 .3 .5-.8 .5-3.2 .5 4.4 .5-3.2 .5 1.7 .5 2.7 .5 3.3 .5-1.1 .5-4.9 .5 1.2 .5 3.8 .5-1.9 .5 .8 .5-4 .5 3.3 .5 .3 .5 1.8 .5 .9 .5-5.8 .5 5 .5-4 .5 .9 .5 3.2 .5-2.9 .5 .8"/>
<path stroke="#ff0000" d="M406.5,1214.2l.5-2.6 .5 5.7 .5 3.6 .5 3.8 .5-5.1 .5-3.3 .5-1.1 .5 8 .5 4.6 .5-6.8 .5-7.6 .5 1.6 .5 13.1 .5-7 .5-9.6 .5 8.4 .5-5.3 .5 2.9 .5 .8 .5-1 .5 6.5 .5-2.9 .5-2.5 .5 5.1 .5 2.2 .5-12.1 .5 7 .5-3.4 .5 4.1 .5-5.3 .5 6.5 .5-.1 .5-1.2 .5-3.4 .5 3.3 .5-3.2 .5-1.2 .5 7.9 .5-6.3 .5 11.1 .5-2 .5-12.5 .5 10.6 .5-6.4 .5 5.6 .5 .2 .5-9.1 .5 8.1 .5 .1 .5 5.9 .5-10 .5 9.2 .5-8.5 .5 3.8 .5-2.2 .5 10.9 .5-4 .5 6.4 .5-5.7 .5 1.1 .5 .1 .5-6.5 .5 2.6 .5 6.8 .5-7.9 .5 2.8 .5-.7 .5 3 .5-4.3 .5 1.2 .5 1.9 .5-.4 .5-4.2 .5 8.1 .5-9.7 .5 .6 .5-.2 .5 10.3 .5-5.8 .5-2.5 .5-.5 .5 7.1 .5-6.4 .5-.7 .5 8.5 .5-7.8 .5 4.1 .5 1.6 .5-1.7 .5 1.9 .5 6.3 .5-7.9 .5-3 .5-2.3 .5 7.3 .5-.4 .5 2.9 .5-2.9 .5 .2 .5-.8 .5 1.1 .5 3.1 .5-2 .5 2.2 .5 7.9 .5-5.8 .5-8.4 .5 14.1 .5-5.5 .5-5.2 .5 8 .5-3.5 .5-2.4 .5 .2 .5-1.2 .5 4.5 .5 4.5 .5-5.5 .5 3.3 .5 6.2 .5-12.4 .5 6.3 .5-2.1 .5-2.8 .5 .4 .5 4.3 .5 2.1 .5-3.6 .5 2.6 .5 2.9 .5-1.5 .5 2.5 .5-1.4 .5 .4 .5 5.5 .5-4.5 .5-1.7 .5 2.5 .5-6.1 .5 2.5 .5 4.6 .5-.4 .5 3.8 .5-5.7 .5-5.5 .5 13.2 .5-2.9 .5-8 .5 9.5 .5-4.9 .5-6.8 .5 5.5 .5-.1 .5 8.1 .5-8.8 .5 2.3 .5 .1 .5-.2 .5-1.8 .5 4.4 .5 3.4 .5-1.5 .5-5.6 .5-.6 .5 4.9 .5-2.9 .5 .5 .5-3.7 .5 13.3 .5-3.5 .5-6.7 .5 7 .5 1.8 .5-11.7 .5 5.1 .5 .8 .5 3.9 .5-2.7 .5-.2 .5 .8 .5 7 .5 .3 .5-8.5 .5-1.3 .5 10.2 .5-10.1 .5 1.6 .5 2.3 .5 1.7 .5 2.1 .5-2.1 .5-4.3 .5 5 .5-.8 .5 5.9 .5-6.5 .5-4.5 .5 1.2 .5 8.8 .5-6.8 .5-4.6 .5 4.7 .5 2.2 .5 4.2 .5-7.4 .5 5.9 .5 .5 .5-4.9 .5 1.8 .5 6.9 .5-.1 .5-2.8 .5-1.7 .5 2.9 .5-4.2 .5 .3 .5-2.5 .5 3.1 .5-.2 .5 6.8 .5-6.9 .5 5 .5 .3 .5-4.9 .5 4.6 .5-10.1 .5 6.8 .5 2.6 .5-9 .5 2.6 .5 7.5 .5-4.3 .5-2.6 .5 2.5 .5-.4 .5 4.3 .5-.8 .5-2.3 .5-1.1 .5 2.1 .5 4.6 .5-3.1 .5 1.1 .5-2.4 .5-3.6 .5 2 .5 4.5 .5-1.6 .5-3.1 .5-2.2 .5 5.7 .5-1.4 .5 .1 .5 .2 .5 2.1 .5 .2 .5 2.2 .5 0 .5 1.4 .5-1.5 .5-3.5 .5 1 .5 1.8 .5-2.4 .5 2.9 .5 2 .5-6 .5-2.9 .5 9.4 .5-3.6 .5 2.3 .5-6.2 .5 9.6 .5-2.9 .5-2.6 .5-.6 .5 1.6 .5-.7 .5-.3 .5-2.4 .5 7.4 .5-3.8 .5 .4 .5 .2 .5-5.9 .5 7.5 .5-2.5 .5 .3 .5 1.2 .5-3.1 .5 5.6 .5-4.5 .5-.5 .5 .3 .5 3.2 .5 1.8 .5-3.8 .5-2.6 .5 7.7 .5-6.2 .5 6.9 .5-3.6 .5-1.8 .5 .3 .5 3.4 .5 1.3 .5-3 .5 3.4 .5 2.9 .5-6 .5-2.6 .5 .4 .5-.9 .5 2.3 .5-.1 .5-1.7 .5 5.5 .5-6.9 .5 1.8 .5 9.4 .5-2.4 .5-1.3 .5-.1 .5 3.8 .5-3.4 .5-1.2 .5-3.6 .5 3.4 .5-1.8 .5 .2 .5 .1 .5 2 .5-.7 .5 3.5 .5-6.1 .5 3.3 .5 5.8 .5-5 .5 3.4 .5-.1 .5 .6 .5-1.6 .5-5.8 .5 3.2 .5-.2 .5-3.2 .5 3.2 .5-2.1 .5-1.1 .5 5.3 .5-.6 .5-1.7 .5-.7 .5 1.2 .5 .5 .5 .1 .5 1 .5-.9 .5 2.3 .5 .4 .5-.3 .5-2.7 .5 .2 .5 2.9 .5-1.6 .5 .5 .5-5 .5 .1 .5 6.1 .5 .1 .5 2.9 .5-1.7 .5-1.3 .5-.5 .5-3.8 .5 6.3 .5-3.9 .5 3 .5-.7 .5 .2 .5 1.8 .5-3.7 .5 .4 .5-1.2 .5 1.4 .5 5.5 .5-5.4 .5 4.2 .5-.9 .5-.2 .5 .3 .5-4.7 .5 3.7 .5 3.2 .5-5.9 .5 1.8 .5-1.7 .5 2.8 .5-3.6 .5 7.1 .5-5.2 .5-3 .5 8.8 .5-2.1 .5-1.1 .5 .1 .5-2.2 .5 .4 .5 2.5 .5 .6 .5 .1 .5-1.8 .5-1.7 .5 .7 .5 3.5 .5 .9 .5-4.6 .5-.2 .5 4.5 .5-1.3 .5 0 .5-5.1 .5 2.4 .5-.3 .5 2 .5-4.8 .5 7.6 .5-2.4 .5 .4 .5-4.1 .5 3 .5 3.5 .5-7.3 .5 4.9 .5 1 .5-3.4 .5 3.8 .5-2.8 .5 4 .5-1.7 .5-.7 .5 4.3 .5-2.7 .5 1.3 .5-6.2 .5 1.4 .5 3.8 .5 .2 .5-2.3 .5 2.2 .5-4.6 .5 3.3 .5-3.3 .5 3.7 .5-2 .5-.3 .5 1.8 .5 4.4 .5-6.9 .5 1.1 .5 4.2 .5-3.6 .5 5.4 .5-3.7 .5-.3 .5 .7 .5 3.5 .5-2.6 .5-.3 .5-.6 .5-4.3 .5 1.7 .5 5.8 .5-1.5 .5-.7 .5 .4 .5-2.8 .5 2.2 .5-3 .5 3.2 .5-2.6 .5 1.3 .5 1.7 .5-1.9 .5 2.4 .5-.4 .5-.1 .5 2.4 .5-6.7 .5-.2 .5 5.3 .5 .9 .5 2.3 .5-2.6 .5 .2 .5-4.1 .5 4 .5-.1 .5-4.1 .5 .4 .5 2 .5 1 .5-5.2 .5 4.8 .5 .4 .5-.9 .5 1.1 .5 .5 .5-3.5 .5 3.5 .5-1.5 .5-1.6 .5 2.8 .5 3.1 .5-7 .5-.4 .5 0 .5 8.6 .5-5.1 .5 .5 .5-1.7 .5-.4 .5-2.2 .5 5 .5 .2 .5-5.1 .5 2.1 .5 .8 .5 1.7 .5 .7 .5 2.1 .5 .6 .5-.6 .5 .7 .5-6 .5 1.5 .5 4.1 .5-2 .5-.6 .5-4.6 .5 .2 .5 6.2 .5-.9 .5-1.5 .5-.2 .5-3.1 .5 5 .5 1.6 .5 1.5 .5-3.8 .5-.5 .5-2.1 .5 5.5 .5 1.2 .5-5.5 .5 2.2 .5-.4 .5-1.6 .5-3.1 .5 3.7 .5 2.3 .5-4.8 .5 1.4 .5-2.5 .5 7.6 .5-1.8 .5-1 .5-.8 .5-.8 .5 1.4 .5-.6 .5 .2 .5 .5 .5 .5 .5 3.4 .5-7.1 .5 4.1 .5-2.1 .5-1.2 .5-1.8 .5 6 .5-3.8 .5 .6 .5 2.9 .5-3.6 .5 2.6 .5-.2 .5 2.1 .5 .5 .5-4.4 .5 4.2 .5-2.3 .5 .5 .5-.8 .5 2.4 .5-4.7 .5 3.5 .5 2.2 .5-3.4 .5 5.2 .5-6.2 .5 2.2 .5-1.6 .5-.3 .5-1.2 .5 1.4 .5 1.2 .5-1.8 .5 4 .5 1.6 .5-7.2 .5 5.6 .5-1.5 .5 .1 .5 4 .5-1.7 .5-2 .5-.3 .5-4.9 .5 6.3 .5-3.6 .5 2.2 .5-.1 .5 2 .5 2.3 .5-2.2 .5 .7 .5-3.5 .5 1.6 .5 .8 .5-5.2 .5 7.9 .5-6.2 .5-1.3 .5 6.9 .5 .6 .5-6.1 .5 .2 .5 6 .5-4.2 .5-4.7 .5 3 .5 5.9 .5-2.9 .5 .3 .5 1.1 .5-1.3 .5-2.3 .5-3 .5 4.8 .5-3.6 .5 2.5 .5 4.3 .5-2.9 .5-1.1 .5 0 .5 1.6 .5 .5 .5-5.3 .5 3.6 .5 3.6 .5-2.3 .5-3.5 .5 .2 .5-2.9 .5 2.6 .5 5.7 .5-3.9 .5-1.9 .5 .7 .5 1.1 .5 0 .5-.5 .5-1 .5 3.3 .5 2.1 .5-4.9 .5 .1 .5 4.1 .5-6.3 .5 2.1 .5 .5 .5 1.3 .5-1 .5-1.4 .5 2.8 .5-3.5 .5-1.3 .5-.4 .5 6.2 .5-5.8 .5 5.1 .5 .6 .5 .3 .5-2.3 .5-.9 .5 1.5 .5-1.6 .5-1.6 .5 6 .5-5 .5 6.3 .5-3 .5-2.3 .5 2.1 .5 1.8 .5-6.1 .5 1.1 .5-.3 .5 2.9 .5 .5 .5-.8 .5-1.8 .5 .5 .5 4 .5-.2 .5-2.3 .5-3.4 .5 4.6 .5-.8 .5-.1 .5 3.4 .5-2.1 .5-4.2 .5 .1 .5 5.4 .5-2.7 .5 1.6 .5-2.3 .5-2 .5 3 .5 3 .5-2.8 .5-3.5 .5 2 .5-.5 .5 1.6 .5 2 .5 1.9 .5-3.7 .5-1.6 .5 1.2 .5-.1 .5-1 .5 1 .5 0 .5-2.8 .5 4 .5-2.1 .5-1.4 .5 3.4 .5-2.3 .5 5.2 .5-2.9 .5-1 .5-1.9 .5 .8 .5 2.9 .5-3.6 .5 3.4 .5-6.4 .5 5.1 .5 1.4 .5-1.1 .5-.8 .5 2.4 .5-4.4 .5-.3 .5 2.6 .5 2.5 .5-1.8 .5-1.4 .5 1.1 .5 .4 .5-4 .5-1.7 .5 2.3 .5-1.1 .5 2.1 .5-1.5 .5 .8 .5 3.1 .5-.8 .5-.3 .5 3.9 .5-4.9 .5 .2 .5 3.8 .5-5.5 .5-1.2 .5 6.8 .5-2.2 .5 .6 .5 .1 .5 .6 .5-3.2 .5 .9 .5-2.4 .5 2.9 .5 .3 .5-1.6 .5 2.6 .5 2.6 .5-6.8 .5 4.6 .5 .2 .5 .3 .5-4.3 .5 4.6 .5-1.2 .5-1.8 .5-.5 .5 1.3 .5 1.6 .5-.1 .5 2.1 .5-4.9 .5 2.2 .5-2.4 .5 2.8 .5-1.5 .5-1.7 .5-1.7 .5 1.3 .5 2.3 .5 2.9 .5-1.6 .5-4.6 .5 1.6 .5 1.2 .5-.4 .5 .4 .5 1.6 .5-1.3 .5-2.1 .5-2.9 .5 3.6 .5-3.1 .5 3.5 .5 1.1 .5-3.9 .5 2.8 .5-.5 .5 5.1 .5-3.4 .5-5.4 .5 5.4 .5-.1 .5-1.5 .5-.4 .5 2.2 .5 .2 .5-.6 .5-3.3 .5 1.7 .5-3 .5 .1 .5 2.1 .5-1.1 .5 1.4 .5 5.6 .5-3.5 .5-3.2 .5-2.1 .5 2.2 .5-1.4 .5-.9 .5 5.8 .5-2.8 .5 2.2 .5 3.6 .5-4.1 .5-.3 .5 .5 .5-1.4 .5-1.3 .5 1.4 .5 3.1 .5-3.3 .5-2.5 .5 .3 .5 .5 .5 2.4 .5 1.1 .5 0 .5 1.6 .5-3.2 .5 2.4 .5-1.2 .5 .9 .5-5.9 .5 7.2 .5-6.5 .5 1 .5 4.4 .5-2.7 .5 5 .5-3.7 .5-2.8 .5 2.8 .5-1.3 .5 4.5 .5 .2 .5-2.1 .5-2.6 .5 1.1 .5 2.2 .5-4.3 .5 0 .5 3.8 .5-.2 .5-2.3 .5-.1 .5-3.8 .5 7.1 .5-3 .5-3 .5 .7 .5 .5 .5 6 .5-2.3 .5-4.7 .5 7.3 .5-1.2 .5-5.5 .5-2 .5 6.6 .5-3.6 .5 1.1 .5-1 .5 4.2 .5 .5 .5-1.6 .5-2.2 .5 .9 .5 .8 .5-5.1 .5 6.5 .5-3.6 .5 1.4 .5-.3 .5 1.7 .5 .4 .5 1.9 .5-5.2 .5-1.3 .5 2.4 .5-1.8 .5 3.5 .5-3.9 .5 2.2 .5 1.8 .5 .2 .5-1.9 .5 2.8 .5-.3 .5-7 .5 4.8 .5-.4 .5-1.1 .5-.8 .5 1.5 .5 .8 .5-.3 .5 2.6 .5-.9 .5-3.7 .5-.4 .5 3.7 .5-3.6 .5 2 .5 .7 .5 1.3 .5-1.2 .5 2.1 .5-4.4 .5 2.6 .5-3.1 .5 2 .5-.2 .5-2.5 .5-2.3 .5 6.7 .5-1.4 .5-.5 .5-2 .5 .8 .5 1.8 .5-1 .5 2.6 .5-2.4 .5-2.2 .5 3.3 .5-2.9 .5 2 .5-4.7 .5 3.3 .5 2.1 .5-2.8 .5 1.4 .5 1.4 .5-1.2 .5 4 .5-4.8 .5 .2 .5 0 .5-4.1 .5 .9 .5 4.8 .5-2 .5 3.9 .5-3.4 .5-.2 .5 2.7 .5-1.7 .5 3 .5-6.1 .5 3.4 .5 .6 .5-.3 .5 1.3 .5-.3 .5-2.3 .5-1.4 .5 3.6 .5-2.2 .5 2.1 .5 .9 .5-2.7 .5-2.5 .5 1.5 .5 2.4 .5-2.4 .5 3.3 .5-2.7 .5 .2 .5-1.7 .5 1.2 .5 2.7 .5-3.3 .5 0 .5-1.1 .5 3.6 .5-5.4 .5 2 .5 3.6 .5 1.2 .5-3.9 .5 2.8 .5-6.8 .5 6.2 .5-1.1 .5-3.5 .5-1.3 .5 2.9 .5 1.8 .5 .2 .5-.6 .5 1.5 .5-.2 .5-4.8 .5 2.2 .5-.3 .5 3.5 .5-3.5 .5 3.4 .5-2.1 .5 4 .5-4.4 .5 .1 .5-.3 .5 .6 .5 3.9 .5-5.4 .5-.9 .5 1.5 .5 2 .5-3.9 .5 4.1 .5-.1 .5-2.2 .5-.2 .5-1.3 .5 1.2 .5-1.3 .5 4.7 .5 .9 .5-4.5 .5 .5 .5-4.3 .5 3.1 .5 2 .5-.2 .5-.4 .5 1.6 .5-1.8 .5-1.1 .5 4.5 .5-8.1 .5 1.7 .5 .9 .5-.1 .5-.1 .5 1.2 .5-1.2 .5 1.4 .5 1.4 .5-1.3 .5 .1 .5-2.5 .5-.6 .5 1.9 .5 2.7 .5-1.4 .5 1.5 .5-.3 .5 .1 .5-4.5 .5 4.5 .5-1.3 .5 2.5 .5-3.2 .5-.8 .5-1.3 .5 .4 .5-4.5 .5 2.9 .5 .2 .5 2 .5-4.4 .5 1.4 .5 3.5 .5-6.4 .5 2.6 .5-4.3 .5 0 .5 .1 .5-.5 .5-5.5 .5-4 .5 3.4 .5-9 .5-6.8 .5-14.2 .5-24.9 .5-43.3 .5-56.3 .5-82.8 .5-73.9 .5-84.4 .5-48.7 .5 5.6 .5 17.6 .5 47.5 .5 58.1 .5 86.5 .5 70.2 .5 42.1 .5 45.9 .5 24.4 .5 19.8 .5 11 .5 3.8 .5 7.7 .5 .2 .5 10.1 .5 .8 .5-1.2 .5 1.7 .5 .4 .5 1.2 .5 .6 .5-.4 .5 .6 .5-2.3 .5 1.2 .5 1.3 .5 2.2 .5-1.1 .5 5.5 .5-4.7 .5-.2 .5 2 .5 1.5 .5 2.1 .5-2 .5-3.4 .5 1 .5 2.9 .5-1.7 .5 1.3 .5-1.9 .5 3.8 .5-.3 .5-.6 .5-2.2 .5-4 .5 .7 .5 3.8 .5 .8 .5-5.9 .5 3.4 .5 3.7 .5-.5 .5-3.2 .5 2.6 .5-1.4 .5-.5 .5 3 .5 0 .5-3.7 .5-.9 .5-.9 .5-.2 .5 6.2 .5 1.2 .5-3.7 .5 1.9 .5-3.9 .5 1.4 .5 2.2 .5-1.4 .5-.8 .5-3.6 .5 .4 .5 2.4 .5-.4 .5 1.1 .5-1.3 .5 1 .5 .6 .5 1 .5-1 .5-1.4 .5 .6 .5 2.7 .5-2.6 .5-1.7 .5-.1 .5 2.9 .5 .6 .5 1.5 .5-3.5 .5 3.8 .5-3.9 .5 .3 .5-.8 .5 2.5 .5 1.1 .5-2.4 .5-1.1 .5-2.3 .5 3.7 .5-1.1 .5 .3 .5-.9 .5-.6 .5 1 .5 1.9 .5 1.2 .5-2.2 .5 .7 .5-1.2 .5 .2 .5-2.8 .5 5 .5-.6 .5 1.9 .5-4.7 .5 1.7 .5-2.4 .5 2.6 .5-.8 .5 1.8 .5-1.9 .5 1.8 .5-2.6 .5 2.4 .5-2 .5-.3 .5 1.1 .5 .7 .5-4.1 .5-.2 .5 3.8 .5-.6 .5-4.3 .5 .6 .5 2.1 .5 2.4 .5-.2 .5 1.8 .5 .3 .5 1.7 .5-7.6 .5 3.1 .5 2.5 .5-5.3 .5-.3 .5 3.6 .5 2 .5 .3 .5-6.8 .5 1.2 .5 2.5 .5-1 .5 2 .5-.5 .5 3.7 .5-4.2 .5 .6 .5-.3 .5 2.3 .5-5 .5 3.3 .5-2.6 .5-1.5 .5 5.9 .5-1.5 .5 1.9 .5-2.6 .5 .9 .5-1.2 .5 1 .5-2.3 .5 4.8 .5-5.9 .5 5.9 .5-4.4 .5 2.4 .5-1.7 .5 .7 .5 2.3 .5-3.1 .5-2.5 .5 2.7 .5 .9 .5-6.2 .5 6.8 .5 .3 .5-6.7 .5 3.7 .5 2.2 .5-4.7 .5 1.7 .5 .1 .5 2 .5 1.2 .5-2.7 .5 .1 .5 1.9 .5-1 .5-1.7 .5 3.3 .5-6.7 .5 3.5 .5-1.5 .5-.5 .5 1.4 .5-.7 .5 4.1 .5-3.4 .5-1.3 .5 2.6 .5-2.4 .5-8.2 .5 3.4 .5-.8 .5-7.6 .5-4.3 .5-13.5 .5-14.3 .5-31.3 .5-31.3 .5-25.2 .5-22 .5-6.9 .5-6.2 .5 10.4 .5 27.1 .5 18.6 .5 31.9 .5 15.2 .5 12.8 .5 18.9 .5 10.2 .5 6 .5 6.3 .5 3.1 .5 2.9 .5 .5 .5 3.2 .5 .7 .5-.1 .5 .4 .5-4.6 .5 .8 .5 2.1 .5 3 .5-4 .5 2.7 .5 1.7 .5 4.1 .5-3.8 .5-1.8 .5 3.9 .5-2 .5-1.1 .5 3.4 .5-4.8 .5 2.7 .5-.3 .5 2 .5-4.8 .5-.3 .5 2.1 .5 .3 .5 .8 .5-1 .5 1.9 .5 .7 .5-1.1 .5-3 .5 5.2 .5-6.4 .5 3.2 .5 2.6 .5-3.6 .5 4.5 .5 1.5 .5-.8 .5-2.7 .5 1.3 .5-3.5 .5 2.2 .5 .1 .5-.9 .5 .2 .5-.9 .5-4 .5 5.5 .5-.3 .5 3.9 .5-2.9 .5-1.5 .5 1.9 .5-.6 .5-1.5 .5-.9 .5-2.6 .5 3.8 .5 3.5 .5-8.2 .5 2.1 .5 4.1 .5-1.4 .5 .6 .5-5.4 .5 3 .5 2.6 .5 .2 .5-.7 .5-2.8 .5 3.3 .5-4.1 .5 .6 .5-.5 .5 6.2 .5-4.5 .5 1.2 .5-4.7 .5 7.1 .5-1.5 .5-5 .5 .1 .5 7.7 .5-6.1 .5 6.6 .5-5.5 .5-3.4 .5 7.1 .5-1.4 .5 .4 .5-2.8 .5 .7 .5 2.7 .5-4.2 .5-2.5 .5 6.6 .5-3.6 .5 4.5 .5-4.2 .5 .1 .5 .4 .5-3.9 .5 7.3 .5-4.3 .5 1.1 .5 3.9 .5-3.2 .5 1.9 .5-1.4 .5 1.1 .5-1.2 .5 2.1 .5-3.3 .5 1.6 .5-2.8 .5 4.6 .5-7.4 .5 5 .5 .4 .5-.1 .5-.8 .5 3.2 .5 1.4 .5-6 .5-3.1 .5 1.9 .5 .7 .5 1.6 .5 .2 .5 2.7 .5-3.6 .5 .9 .5 .4 .5-2.4 .5 1.3 .5 5.4 .5-4.8 .5-2.1 .5-2.2 .5 7 .5-3.3 .5-.7 .5 6 .5-1.1 .5-7.5 .5 3.2 .5 3.2 .5-.3 .5-4.7 .5 6.9 .5 .2 .5-7.1 .5-1.6 .5 .9 .5 4.9 .5 1 .5-2.1 .5-1.9 .5 1.2 .5 1.6 .5-4.3 .5-1.1 .5 3.8 .5 3.2 .5-2.5 .5 0 .5-2.1 .5 3.8 .5-6.3 .5 3.9 .5-1.2 .5 1 .5-1.8 .5 4 .5-2 .5-1.2 .5 2.6 .5-1.4 .5-1.1 .5-.1 .5 3.2 .5-4.1 .5 1.7 .5-.1 .5 1.4 .5-1.2 .5 5.1 .5-8.8 .5 5.6 .5-1.5 .5 2.7 .5-6.6 .5 6.8 .5-6.2 .5 5 .5-.5 .5-1.1 .5-1.8 .5-.2 .5 2.1 .5-2 .5-2.6 .5 .1 .5 6.2 .5 .1 .5-.8 .5-1.1 .5 .8 .5 .3 .5-.6 .5-2.5 .5 .2 .5-1 .5 3.1 .5-2.8 .5 2 .5 3.6 .5-4.1 .5 3.2 .5 1.5 .5-8.1 .5 .9 .5 4.6 .5-2.9 .5 3 .5 .4 .5-2.9 .5 3.2 .5 2.2 .5-1.9 .5-4.4 .5 1.8 .5-.9 .5 5 .5-4.2 .5-1.2 .5 1.8 .5 1.1 .5-2.2 .5 1.2 .5-.2 .5 1.7 .5 .6 .5-1.7 .5-1.8 .5 2.1 .5-3.1 .5 4.7 .5-1.7 .5-.2 .5-5.2 .5 9.1 .5-1 .5-.5 .5-2.7 .5 1.3 .5 2.9 .5-6.1 .5 3.4 .5-.4 .5-1.1 .5 .6 .5-3.2 .5 3.9 .5-4.7 .5 7.5 .5-2.4 .5-4 .5-2.6 .5 4.9 .5 1 .5-3.6 .5 6.4 .5-3.4 .5-1.7 .5-2.3 .5 3.1 .5-.2 .5 2 .5 1 .5-2.4 .5 1 .5 2.3 .5-1.9 .5-2.1 .5 2.1 .5-2.8 .5 2.4 .5-1 .5-2.8 .5 4.1 .5-1.2 .5 1.5 .5-4.9 .5 5.8 .5 .1 .5-3.6 .5 .6 .5 .4 .5-.2 .5 2 .5-3.7 .5-1 .5 2.1 .5 5 .5-5.3 .5-1.5 .5 .2 .5 2.6 .5 2.4 .5-4.6 .5 2.2 .5 .1 .5 .6 .5-.8 .5 2.2 .5-.9 .5-3.1 .5 5.9 .5-7.7 .5 .1 .5 5.6 .5-2 .5-1.1 .5 1.1 .5 1.2 .5-2.7 .5-.5 .5-1 .5 .4 .5 .2 .5 4.6 .5-2 .5 .6 .5-2.7 .5 3.9 .5-6.3 .5 4.9 .5 .5 .5-3 .5-1.1 .5 3.7 .5-2.9 .5-.5 .5 2.1 .5-2.6 .5 2.3 .5 4.8 .5-5.5 .5 3.2 .5-4.7 .5 2.7 .5-.8 .5 .2 .5 2.2 .5 2.7 .5-4.8 .5 3.5 .5-2.3 .5 .9 .5-2.9 .5-.6 .5 1.2 .5-1.3 .5 1.8 .5-2.5 .5 2.5 .5 .4 .5 4 .5-.3 .5-2.9 .5-2.4 .5 2.7 .5 .4 .5-2.4 .5-1.5 .5-2.3 .5 4.2 .5 4.6 .5-5 .5 1.4 .5 0 .5 .2 .5 .7 .5-6.4 .5 4.2 .5 1.3 .5-1.1 .5 3.1 .5-3.8 .5 3.1 .5 2 .5-4.8 .5 .6 .5-.7 .5 2.5 .5-6.5 .5 1.2 .5 2.8 .5 2.8 .5-.7 .5-3.4 .5 5.8 .5-3.6 .5-1.7 .5 2.8 .5 1.8 .5-3.3 .5-3.5 .5 2.4 .5 1.5 .5 2 .5-4.6 .5 3 .5-3.5 .5 3.1 .5-3.4 .5 2.1 .5-2.6 .5 1.3 .5-1.5 .5-.8 .5 7.6 .5-.1 .5-1.7 .5-2 .5 4.4 .5-4.2 .5 1.7 .5 1.7 .5-2.2 .5 3 .5-3.9 .5 0 .5 .7 .5-3.1 .5 .2 .5 4.4 .5-6 .5 6.9 .5-2.1 .5 2.2 .5-1 .5-.4 .5 2.8 .5-4.4 .5-.1 .5 3 .5-4.3 .5 4.3 .5-1.1 .5-2.9 .5-1.8 .5-1.7 .5 9.1 .5-8 .5 .7 .5 5 .5-.9 .5-.7 .5-.3 .5-1.2 .5-1.2 .5 .4 .5 3.2 .5 1.2 .5 .2 .5-2.9 .5-4.6 .5 5.9 .5-1.6 .5-4.3 .5 8 .5-2.8 .5-.7 .5 .6 .5-.2 .5 .3 .5-.3 .5-.2 .5 1.3 .5-.5 .5 3.6 .5-4.1 .5-1.6 .5-.2 .5 2.4 .5-.6 .5 .3 .5-1.1 .5 0 .5 2.3 .5 1.5 .5-2.5 .5-1.1 .5-2.5 .5 0 .5 2.9 .5-.8 .5 .4 .5-2.5 .5 2.4 .5-4.4 .5 1.8 .5 1 .5 3.3 .5-2.9 .5-.8 .5 2.9 .5-.9 .5 2.4 .5-1.4 .5-.3 .5-1 .5 2.1 .5-3.4 .5-1.9 .5 5.8 .5-3.3 .5 1.2 .5 1.4 .5 1 .5-7.1 .5 2.1 .5 5.5 .5-7.1 .5 5.2 .5-2 .5-1.3 .5 1.9 .5-3.8 .5 5.1 .5 1.8 .5-6.3 .5 1.8 .5 4.6 .5-2.1 .5-1.6 .5 4.2 .5-7.5 .5 3.4 .5 .9 .5-1 .5 2.7 .5-6 .5 4.1 .5-2 .5 4.8 .5-.4 .5-4.3 .5-.9 .5 2.6 .5-2 .5 .7 .5 2.4 .5-2.1 .5 5.5 .5-4.3 .5-1.4 .5-1.4 .5 1.4 .5 3.9 .5-1.3 .5 2.1 .5-.3 .5-1.8 .5-3 .5 1.3 .5 .5 .5-4.2 .5 4.8 .5-3.3 .5 2.3 .5-1 .5 2.6 .5 3.2 .5-7.5 .5 2.8 .5 4.7 .5-6.9 .5 1.7 .5 .3 .5 1 .5-4.6 .5 4.6 .5 .7 .5 3.2 .5-4.8 .5-1.2 .5 1.7 .5-4.9 .5 5.4 .5 2.9 .5-3.8 .5-.1 .5-.5 .5 1 .5-3.4 .5 6.8 .5-4.9 .5 0 .5 5.1 .5-3.9 .5-1.1 .5 5 .5-3.6 .5 1.9 .5-3.7 .5-2.9 .5 4.7 .5 3.1 .5-4.6 .5 1.9 .5 .9 .5-1.1 .5-.5 .5 1.7 .5-1.3 .5-1.9 .5 3.9 .5-.6 .5-1.1 .5 .8 .5-6.4 .5 5.3 .5-.5 .5-4.8 .5 9.2 .5-3.7 .5-2 .5 .2 .5 1.5 .5-.7 .5-3.9 .5 3 .5 2 .5 .4 .5 .6 .5-4.7 .5 1 .5 2.5 .5-2.5 .5 2 .5-2.5 .5 3.4 .5-1.3 .5 1.3 .5-1.4 .5-2 .5-1.1 .5 3 .5-1.6 .5-2.2 .5 2.3 .5 3.2 .5 1.1 .5-1.2 .5 1.4 .5-4.3 .5 .5 .5-2 .5 .4 .5 5.8 .5-3 .5 .5 .5 2.8 .5-.1 .5-6.7 .5 4.5 .5-4.4 .5 4.2 .5-7.3 .5 2.2 .5-.1 .5 6.7 .5-9.2 .5 7.1 .5-.3 .5-2.6 .5 1.5 .5 2.2 .5-4.3 .5-1.7 .5 3.8 .5-1.9 .5-5.5 .5 2.8 .5-.4 .5-4.6 .5-.5 .5-.4 .5-3 .5 2.9 .5-3.3 .5-10.6 .5-1.4 .5-7.2 .5-18.9 .5-15.7 .5-24.1 .5-43.3 .5-33.3 .5-53.1 .5-24.7 .5-41.4 .5-20.8 .5-1.5 .5 15.1 .5 39.3 .5 9.3 .5 27.2 .5 29.4 .5 24.3 .5 41.3 .5 14.9 .5 35.6 .5 12.6 .5 18 .5 12 .5 9.6 .5-.6 .5 9.3 .5 .8 .5 1.6 .5 1.1 .5 4.9 .5-.9 .5 2.9 .5-.3 .5-6.8 .5 5.1 .5 3.3 .5-4.5 .5-1.7 .5-.2 .5 9.8 .5-6.9 .5 3 .5-2.9 .5 3.9 .5 3.3 .5-7.7 .5 3.6 .5-1.6 .5-2.6 .5 2.5 .5 2.4 .5 3.1 .5 .2 .5-3.1 .5-4.1 .5 5.9 .5-1.6 .5 0 .5-2.8 .5 2.6 .5 5.1 .5-.9 .5-.5 .5-1.5 .5-2.6 .5 1 .5 .4 .5 .6 .5-1.8 .5-1.2 .5 4.9 .5-3.6 .5 3 .5-2.5 .5 2.1 .5-.3 .5 .5 .5-.1 .5-4 .5-1 .5 3.2 .5 4.3 .5-6.2 .5-.2 .5 6.9 .5-8.4 .5 2.4 .5 .4 .5-.6 .5 .1 .5 4.3 .5-2.2 .5 0 .5-4.6 .5 6.1 .5-1.6 .5 0 .5 1.7 .5-1.3 .5-.8 .5 1.1 .5-2.8 .5-.5 .5-1.1 .5 5.8 .5-4 .5 2 .5 2.4 .5 1.7 .5-5.4 .5 1.3 .5-.1 .5-3.5 .5 2.1 .5 5.7 .5-4.7 .5 4.5 .5-2.5 .5 2.5 .5-1.1 .5-2.7 .5-3.6 .5 6.6 .5-1.8 .5-.5 .5 .9 .5-4.1 .5 2.3 .5-.3 .5-3.7 .5 .7 .5 2.7 .5-4.3 .5 6.4 .5 .1 .5-2.1 .5 .9 .5-5.2 .5 4.9 .5 1.4 .5-.6 .5 1.1 .5-2.5 .5 4.8 .5-3.6 .5 .9 .5 .7 .5-4.5 .5-.9 .5 4.7 .5-5 .5 1.6 .5 3.9 .5-5.1 .5 .3 .5-.7 .5 .5 .5 7.2 .5-3.3 .5 1.1 .5-7 .5 0 .5 1.7 .5 5.5 .5 .3 .5-7.5 .5 .3 .5 5.9 .5-1 .5 .4 .5 .6 .5-4.1 .5 2.8 .5-1 .5 3.7 .5-3.8 .5-3.8 .5 7.7 .5 1.3 .5-2.1 .5-3.2 .5-1.5 .5 4.8 .5-3.8 .5 2.6 .5 .7 .5-2.3 .5-4.2 .5 5.8 .5-3.7 .5-1.4 .5 3.7 .5 .5 .5-.6 .5 1.8 .5-6.1 .5 6 .5 2.5 .5-4.2 .5-1 .5 .8 .5 3.4 .5-3.4 .5-1.5 .5-2.3 .5 7.7 .5 .1 .5-3.6 .5 4.7 .5-5.6 .5 2.7 .5-5 .5 .8 .5 2.4 .5 1.2 .5 .4 .5-3.8 .5 .9 .5 1.1 .5-.5 .5 .1 .5 2.7 .5 .8 .5-7.4 .5 7.8 .5-2.8 .5 .4 .5 0 .5 1.5 .5-.6 .5-5.5 .5 5.9 .5-4.9 .5 3.7 .5-.4 .5-4.3 .5 3.8 .5-.7 .5-1 .5 6.3 .5-4.2 .5-1.3 .5 5.2 .5-4.4 .5-.3 .5-4.2 .5 6.1 .5 .9 .5 2.2 .5-7.1 .5 5 .5 .9 .5-1.6 .5-1.8 .5-4.1 .5 4.5 .5-1.8 .5-2.9 .5 5.8 .5-1.8 .5-.3 .5 5.2 .5-5.9 .5-3.3 .5 0 .5 5.9 .5-1.9 .5-1.3 .5-2.7 .5 2.5 .5-.7 .5 2.5 .5-1.9 .5 0 .5 2 .5-1.8 .5 2.7 .5-5.3 .5 1.5 .5 6 .5-2.5 .5-3.2 .5 2.2 .5-.9 .5 .5 .5 4.4 .5-4.5 .5 1.5 .5-2.6 .5 .2 .5-1.9 .5 2.2 .5 .6 .5 .2 .5 .9 .5 .1 .5 1.4 .5-2.2 .5 3.8 .5-1.7 .5 1.9 .5-3.6 .5 3.2 .5-2.8 .5-4.3 .5 4 .5-.4 .5-3.1 .5 1.1 .5 1 .5 6.1 .5-3.9 .5 3.7 .5-2.1 .5 .3 .5-.6 .5-5.7 .5 6.7 .5-5.5 .5 3.5 .5-1.3 .5 4.2 .5-1 .5 1.6 .5-3.3 .5-1.2 .5 1.9 .5 2.7 .5-3.3 .5-1.2 .5-3.1 .5 1.1 .5 1.7 .5 1.8 .5-.1 .5-1.8 .5 .6 .5 3.4 .5 .8 .5-1.6 .5 .8 .5-.7 .5 1.4 .5-7.5 .5 1.8 .5 1.8 .5 .4 .5 2.3 .5-7.8 .5 4.9 .5 .3 .5-2.3 .5 1.3 .5 2.8 .5-1.3 .5-1.5 .5 .8 .5-.8 .5 2.6 .5-2.5 .5 2.6 .5-3.8 .5 1.3 .5-2.7 .5 2.3 .5 2.5 .5-4.5 .5 1.6 .5 1.1 .5-1.1 .5 2.9 .5-5.1 .5 5.1 .5 1.1 .5 .9 .5-4.3 .5-1.8 .5-1.9 .5 5.5 .5 .4 .5-1.3 .5 .1 .5 .8 .5-2.6 .5-2.7 .5 .1 .5 1.5 .5-.3 .5-1.7 .5 2.9 .5-1.6 .5 4.2 .5-1.8 .5 2.1 .5-5.2 .5 .5 .5-1.3 .5 4.6 .5 3.9 .5-4.1 .5-1.6 .5 1.5 .5-.6 .5 2.4 .5-2.4 .5-2.2 .5-2.6 .5 5.6 .5 1.5 .5-2.2 .5-2.6 .5 1.1 .5 .2 .5 2.1 .5-1.6 .5 3 .5-3.5 .5-1.2 .5 6.1 .5-7.2 .5 .4 .5 6.5 .5-4.1 .5 3.6 .5-9.5 .5 7.8 .5-3.4 .5 0 .5 .7 .5-6.4 .5 2.3 .5 3 .5 3.2 .5-7.2 .5 6.2 .5-3.8 .5 .3 .5-6.3 .5 3.1 .5-5.5 .5-3.1 .5 4 .5-10.2 .5-6.2 .5-6.1 .5-19.3 .5-21.4 .5-18.7 .5-29.4 .5-26.4 .5-47.4 .5-17.8 .5-18.1 .5-12.1 .5 8.5 .5 14.9 .5 9.8 .5 14.3 .5 26.5 .5 6.5 .5 18.8 .5 28.5 .5 14.3 .5 20.2 .5 13.7 .5 15.7 .5 11.7 .5 9.4 .5 14.8 .5-1.7 .5 1 .5 4.6 .5 6.6 .5-3.8 .5 3.9 .5-1.6 .5-1.4 .5 3.6 .5-.7 .5 3.5 .5 1.7 .5-1.7 .5 5.4 .5-7.4 .5 6.3 .5-2.1 .5 2.7 .5-2.1 .5-5.8 .5 4 .5 3.5 .5-2.4 .5-3.3 .5 2.1 .5 2.2 .5 2.3 .5-4.4 .5 1.8 .5-2.5 .5-.6 .5 1.7 .5 4.7 .5-1.5 .5-2.4 .5 .6 .5 1.5 .5-1.6 .5-.8 .5 .4 .5 2.3 .5-2.5 .5 2.9 .5-6.3 .5 2.6 .5 .8 .5 2.5 .5-3.7 .5 1 .5 2.1 .5-1 .5-1.4 .5 .9 .5-1.5 .5 4.3 .5-.9 .5 1.1 .5 2.7 .5-1.7 .5-1.9 .5-1.4 .5 5.1 .5-4.2 .5-1.1 .5 3.8 .5-2.1 .5-1.7 .5 1.8 .5 3.5 .5-4.2 .5 .6 .5-3 .5 1 .5 3.3 .5-2.3 .5 .5 .5 2.4 .5-3.5 .5 4.6 .5-5.3 .5-.3 .5-.1 .5-1.7 .5 5 .5-1.4 .5 3.3 .5-5.1 .5 3.6 .5 1.4 .5-3.8 .5 .1 .5-4.4 .5 9.2 .5-4.8 .5 2 .5-3 .5 2 .5-3.7 .5 4.6 .5-1.6 .5-1.2 .5 1.9 .5-5.5 .5 4.7 .5-1.6 .5 4.5 .5-1.8 .5-2.6 .5-.5 .5 5.1 .5-7.6 .5 6.6 .5-3.4 .5-1.9 .5-9.4 .5 3.9 .5-8.3 .5-7 .5-1.9 .5-10.7 .5-1 .5-8 .5 5.4 .5 1.9 .5-.8 .5 2.9 .5 3.5 .5 2.5 .5 1.9 .5 10 .5-1.2 .5 1.4 .5 3.6 .5 1.9 .5 5.7 .5 1.2 .5 0 .5 1.1 .5 1.5 .5-1.1 .5 3.2 .5-2.2 .5 3.7 .5-2 .5 2.3 .5-2.7 .5-3 .5 1.4 .5 2.6 .5 1.7 .5 .1 .5 .3 .5 .5 .5-.7 .5 .2 .5-1.6 .5 1.9 .5-1.6 .5 .1 .5 .7 .5 4.2 .5-8.2 .5 2.4 .5 .6 .5 1.7 .5-1 .5 3.9 .5-7.7 .5 8.2 .5-7.4 .5 1.3 .5 3.1 .5-1.1 .5-.3 .5 .2 .5 .8 .5 1.4 .5-1.3 .5-4.1 .5 1.3 .5 5.1 .5 1.3 .5-2.3 .5 .3 .5-1.8 .5 3.8 .5-6 .5 .6 .5-1 .5 5.6 .5-5 .5 2.5 .5-4.6 .5-.2 .5 6 .5-.7 .5 .3 .5-1.5 .5-1.2 .5-.3 .5-1.7 .5 1.8 .5 4.2 .5-3.7 .5-2.8 .5 2.6 .5-1.8 .5-.4 .5 2.5 .5-1.5 .5-1.2 .5 6.7 .5 .5 .5-3.8 .5 3.2 .5-4.7 .5 1 .5 3.3 .5-2.5 .5 1.3 .5-6.6 .5 5.3 .5-1.7 .5 .7 .5-3.4 .5 1.8 .5 3.3 .5 0 .5 .5 .5 .2 .5 .5 .5-1.7 .5-1.5 .5-.8 .5 .4 .5-1.4 .5 0 .5 2.2 .5-4.4 .5 1.6 .5 1 .5 3.3 .5 1.3 .5-1.8 .5-.9 .5-1.1 .5 3.9 .5-1 .5-3.3 .5 1.5 .5 1.1 .5 1.2 .5-3 .5 4.5 .5-.8 .5-3.9 .5 .6 .5-1.8 .5 .1 .5 2.9 .5 2.7 .5 .1 .5-3 .5-1.4 .5-.6 .5 2.6 .5-2.2 .5 2.9 .5-2 .5 1 .5-2 .5 5.7 .5-1.7 .5-2.5 .5-2.3 .5 3.4 .5 .5 .5-4.5 .5 2.9 .5 4.2 .5-4 .5-1.3 .5 2.3 .5 3 .5-5.5 .5 .1 .5 .4 .5 .8 .5 2.7 .5-2 .5-5.7 .5 5.9 .5-.1 .5 .6 .5-.9 .5-.9 .5 1.5 .5-2.9 .5-2.4 .5 3.3 .5-1.9 .5 6.7 .5-4.3 .5 4 .5-7 .5 .3 .5 3.9 .5-5.1 .5 2.5 .5-3.1 .5 5.7 .5-5.2 .5 3.8 .5-3.9 .5 5.4 .5 1.4 .5-2.3 .5-2.6 .5 3.4 .5 1.3 .5-.5 .5 1.2 .5 1.4 .5-3.9 .5-1.2 .5-.9 .5 1.5 .5-.5 .5-.8 .5 2.1 .5 3.7 .5-6.4 .5 .7 .5 .3 .5-1.6 .5 5 .5-2.9 .5 1.8 .5-5.3 .5 5.2 .5-1.6 .5-3.2 .5 5.5 .5 .2 .5-1.7 .5 .6 .5-3.4 .5 4.8 .5-3.1 .5 1.7 .5 .3 .5-.3 .5-2.9 .5 2.4 .5-.3 .5 2.5 .5-4.6 .5 4.1 .5-1.2 .5-1 .5 4.4 .5-2.6 .5-3.2 .5 2 .5-2.5 .5-1 .5 1.6 .5 0 .5 5.3 .5-2.2 .5-6.5 .5 4.2 .5-1.3 .5 1.3 .5 .8 .5-.3 .5 .9 .5-2.9 .5 5.3 .5-3.7 .5 3.3 .5-3.3 .5 1.5 .5-3.5 .5 5 .5-2 .5-1.7 .5 1.9 .5 .2 .5-4.8 .5 1.9 .5-.6 .5 4.4 .5-1.6 .5-2 .5-.1 .5 1.6 .5-4.5 .5 4.2 .5 4.2 .5-7.2 .5 .5 .5 .1 .5 3.8 .5-2.9 .5 6.4 .5-5 .5-.7 .5-1.5 .5 4.3 .5 1 .5-2.2 .5 2.7 .5-.1 .5-2.2 .5-.7 .5-1.4 .5 1.8 .5-1.3 .5 4.4 .5-1.8 .5-2.2 .5-.5 .5 1.9 .5 1.6 .5-1.9 .5 1.8 .5-3.5 .5 1.6 .5 1 .5-1.1 .5 .5 .5 1.5 .5-2.4 .5 2.4 .5-3.7 .5 2.5 .5-2.2 .5 .1 .5 2.4 .5 1.6 .5-3.4 .5 .6 .5 3 .5-5.2 .5 4.2 .5-5 .5-1.8 .5 5.4 .5-1.5 .5-.5 .5-3.6 .5 5.7 .5-2 .5-1.8 .5 2.6 .5-2.6 .5 1 .5-.1 .5 4.3 .5-2.6 .5 3.4 .5-5.1 .5-1 .5 7.2 .5-7.6 .5 6.3 .5-5.6 .5 4.4 .5-3.6 .5 5.5 .5 .8 .5-1.9 .5-1.7 .5-1.7 .5 2.8 .5 2.5 .5-5.5 .5-1.7 .5 7.1 .5-4.9 .5 2.4 .5-1.4 .5 .2 .5-1.3 .5 .4 .5-3.7 .5 2.6 .5-.7 .5 4.9 .5-3.5 .5 1 .5-4.3 .5 4.2 .5 3.5 .5-3.3 .5 1.7 .5-2.8 .5-.8 .5 3.8 .5-3.4 .5-1.4 .5 2.3 .5-.7 .5 3.5 .5-.8 .5-5.3 .5 4.8 .5-4.5 .5 3.7 .5 .9 .5-2.6 .5 0 .5 3.1 .5-2.6 .5-2 .5 6.7 .5-1.8 .5-1 .5-.3 .5 1.6 .5-2.2 .5 1.7 .5-1.2 .5-2.4 .5 4.2 .5-2.1 .5-2.4 .5 .9 .5-3.8 .5 .9 .5 .5 .5 5.1 .5 0 .5 1.1 .5-1.7 .5 3.1 .5-5.3 .5-.7 .5-.4 .5 2.7 .5-2.1 .5-.6 .5 .9 .5 1.6 .5-3.5 .5 3.1 .5 0 .5 4.1 .5-3.7 .5-3.5 .5 3.7 .5-.1 .5-3.6 .5-1.6 .5 6.5 .5-2.3 .5-1.3 .5 1.4 .5 3.5 .5 1.1 .5-5.4 .5 4.9 .5-3.8 .5 .1 .5-.3 .5 .1 .5-.2 .5-1.3 .5 1.7 .5-2.5 .5 3.8 .5-2.9 .5 2.7 .5-1.4 .5-4.1 .5 7.2 .5-2.1 .5-.9 .5-.7 .5 5.2 .5-5 .5 2.9 .5-1.8 .5-3.7 .5 5 .5-5.5 .5 4.8 .5-.1 .5-.4 .5-2.4 .5 5.2 .5 .9 .5-6.5 .5 1.3 .5 4.8 .5-5 .5 3.4 .5-4.7 .5 .8 .5 2.2 .5 .4 .5-4.6 .5 1 .5 3.8 .5 1.8 .5-1.8 .5-.4 .5 .1 .5-4 .5 3.9 .5 1.2 .5-.7 .5-4.3 .5 .5 .5 5 .5-6.1 .5 .7 .5 6.4 .5-6.1 .5 .4 .5 3.3 .5 .3 .5-2.4 .5-3.2 .5 2.1 .5 1.6 .5-2.9 .5-.4 .5 5.1 .5-2.4 .5-.5 .5-1.4 .5-7.5 .5 .4 .5-2.4 .5-6.3 .5-9.9 .5-3.9 .5 2.5 .5 7.1 .5 2.1 .5 5.9 .5-.5 .5 8.3 .5-2.9 .5 4.9 .5-4.1 .5-6.8 .5 2.7 .5-3.3 .5-.3 .5 2.9 .5 5.3 .5 1.7 .5 3.7 .5-1.7 .5-3.2 .5 4.4 .5-.1 .5 1 .5 6.7 .5-2.5 .5-4.2 .5 5.3 .5-3.5 .5-2.5 .5 6.2 .5-4 .5 1.5 .5 4.4 .5-7.1 .5 5 .5-3.2 .5-1.9 .5 2.1 .5 1 .5 .1 .5-4.2 .5 5.8 .5-4.1 .5 2.8 .5-.2 .5-1.9 .5 2.8 .5-3.2 .5-.5 .5-1.1 .5-1.1 .5 2.8 .5-2.9 .5 3.7 .5-.4 .5 5.3 .5-6.8 .5 5.6 .5-1.9 .5-.2 .5-2.2 .5-.5 .5 1.3 .5 .6 .5 1.5 .5-2.6 .5 5 .5 .3 .5-8.6 .5 4.9 .5-.6 .5-2.1 .5-2.2 .5 .4 .5 3.7 .5 2.1 .5-.5 .5 .1 .5-1.8 .5 3 .5-1.3 .5 1.6 .5-3 .5-1.3 .5-2.1 .5 7.4 .5-5.1 .5-1.1 .5-2.1 .5 6 .5-4.7 .5 3.5 .5 .5 .5 2.8 .5-5.2 .5-2.9 .5 6.7 .5-1.5 .5-2.1 .5 1.4 .5 4.7 .5-4.4 .5-1.8 .5 1.4 .5 1.6 .5-.5 .5 0 .5-.1 .5-3.6 .5 4.3 .5 1.1 .5-1 .5-1.7 .5-.1 .5 .7 .5-.3 .5-4.1 .5 3.6 .5 3.4 .5-3.8 .5-.5 .5 2.7 .5-1.2 .5-1.9 .5 2.1 .5 3.7 .5 .3 .5-4 .5-.8 .5 3.3 .5-1.8 .5 .2 .5-1.4 .5-3 .5-.4 .5 3.3 .5-2.4 .5 4.6 .5 .3 .5 1.3 .5-3.3 .5 4.2 .5-1.4 .5-2.1 .5 .9 .5-3.2 .5-3.3 .5 7.2 .5-1.3 .5 2.9 .5-2.9 .5-1.7 .5-.7 .5-.3 .5 1.9 .5-4.8 .5 1.6 .5 4.8 .5-6.7 .5 .9 .5 2.3 .5 .4 .5 1.2 .5 1.9 .5-1.4 .5 .8 .5-2.9 .5 1.5 .5-1.8 .5 1.5 .5 1.6 .5-.2 .5-5.8 .5 1.9 .5 7.2 .5-9.1 .5 4.8 .5-3 .5 2.3 .5-.9 .5 1.6 .5-2.9 .5 5.2 .5 2 .5-9.1 .5 2.6 .5-1.7 .5 4 .5 3.1 .5 0 .5-.2 .5-2.6 .5-1.9 .5 4 .5-4.2 .5-.4 .5 2.1 .5-3.2 .5 2.6 .5-1.9 .5 2.6 .5 2.1 .5-3.7 .5 2.5 .5 1.1 .5-4.2 .5 1.7 .5-.7 .5 5.3 .5-5.6 .5 1.5 .5-3.7 .5 1.2 .5 3.7 .5-2.2 .5 2.5 .5-1.6 .5 4.3 .5-5.1 .5 2.9 .5-4 .5 .7 .5-2.7 .5 8.2 .5-9.1 .5 4.9 .5-1.4 .5 3.1 .5-3.3 .5 5.8 .5-1.7 .5-1.5 .5 0 .5 1.3 .5-1.5 .5 2.9 .5-1.8 .5-2.2 .5 1.2 .5-.5 .5 2.3 .5-3.5 .5 .9 .5-3.3 .5 4.7 .5-1 .5-2.2 .5 5.8 .5-4.1 .5-2.9 .5 5.6 .5-3.2 .5-4.5 .5 5.7 .5-.8 .5 .2 .5-.7 .5-1.5 .5 2.3 .5-4.4 .5 3.6 .5 2.6 .5 .3 .5-3.6 .5 5.5 .5-3.6 .5-1.8 .5 1.5 .5-2.1 .5 3.8 .5-4.4 .5 .5 .5-1 .5 .8 .5 1.3 .5 5 .5-3.8 .5 2.3 .5-2.7 .5 2.1 .5-4.8 .5-.2 .5 7.1 .5-3.5 .5-4.7 .5 5.3 .5-2 .5-.1 .5 2.6 .5-5 .5 6 .5-2.4 .5-1.8 .5-2.1 .5 7.5 .5-5.1 .5-2.5 .5 3 .5 1.5 .5 .4 .5 2 .5-2.2 .5-1.5 .5 4.5 .5 0 .5-7.1 .5 5.1 .5-3.8 .5 5.1 .5-6 .5 3 .5 3.1 .5-3 .5 1.9 .5-4.4 .5-1.3 .5 .1 .5 4.4 .5-3.1 .5 5.1 .5-4.4 .5 4.1 .5-2.4 .5-3.5 .5 2.7 .5 1.1 .5 0 .5-1.5 .5 3 .5-.4 .5-.1 .5-4.2 .5-2.9 .5 6.2 .5-3.5 .5 .7 .5 .7 .5 1.4 .5-5.1 .5 3.9 .5 3.6 .5-6.9 .5 2.8 .5 4.2 .5-1.6 .5-.6 .5-1.2 .5-3.9 .5 3.7 .5-2.8 .5 2.6 .5-2.3 .5-1.2 .5 2.7 .5 2.4 .5-4.1 .5 1.4 .5 .9 .5-1 .5-5.3 .5 .6 .5 .3 .5-4.2 .5-.3 .5-10.9 .5-15.1 .5-7.5 .5-11.7 .5-13.1 .5-6.3 .5-5.4 .5 14.8 .5 15.1 .5 9.3 .5 11.1 .5 10.2 .5 1.3 .5 .7 .5 .9 .5-3.3 .5-2.2 .5-8.9 .5-8.6 .5 2.2 .5-4 .5 8.9 .5 1.7 .5 10.1 .5 5.2 .5 3.6 .5 .9 .5 4.9 .5 6.3 .5-2.1 .5 3.1 .5-2.3 .5 .2 .5-2.2 .5 3.5 .5-2.8 .5 .1 .5 4.7 .5-4.9 .5 7 .5-4.4 .5-1.3 .5 4.7 .5-5.6 .5 2.8 .5-.2 .5 2.2 .5 1.9 .5-3.3 .5-3.9 .5-.1 .5 2 .5 3.2 .5-1.6 .5 .4 .5-1.5 .5 4.1 .5-6 .5 7.2 .5-1.5 .5-1.2 .5-1.8 .5-.6 .5 .7 .5-1.3 .5 .3 .5-1 .5 3.8 .5-1.6 .5 .9 .5-2.9 .5-1.2 .5 .8 .5 2.7 .5-3.4 .5 4.3 .5-3.7 .5 1.2 .5 1.6 .5-3.4 .5-1.9 .5 7.5 .5-3.2 .5-1.2 .5 5.5 .5 .6 .5-4.5 .5 .7 .5 3.8 .5-6.1 .5 4.4 .5-.5 .5-3.8 .5-1 .5 .5 .5 2.1 .5 .5 .5 3.7 .5-7.1 .5 2.9 .5-2.4 .5 4 .5-1.1 .5-4.4 .5 2.1 .5 1.1 .5 1.5 .5-.6 .5 .3 .5-1.8 .5 1.2 .5-1.6 .5 1.8 .5-1.5 .5-4.6 .5 .7 .5-4.4 .5-2.1 .5-3.8 .5-9 .5-10.1 .5-11.6 .5-1.1 .5-9.5 .5-1.8 .5 8.8 .5 14.2 .5 12.1 .5 6.1 .5 1.2 .5 6.9 .5-5.3 .5 6.3 .5-4.8 .5-1.9 .5-8.5 .5 .4 .5-8.6 .5-2.6 .5 11 .5-4.9 .5 11.1 .5 .5 .5 5.5 .5 3.6 .5 5.2 .5-.1 .5-2.3 .5 1.6 .5 4.9 .5 .4 .5-4.3 .5 3.5 .5-2.2 .5 2.7 .5-4.8 .5 4.5 .5-3.3 .5-1.7 .5 4.7 .5-.1 .5-5 .5-1 .5 4.4 .5 1.4 .5-2.3 .5 1.5 .5-1.2 .5-.3 .5 2.3 .5 2 .5-1.8 .5-1.9 .5-.9 .5 2.2 .5-5.2 .5 5 .5-.5 .5 .2 .5-.6 .5 .2 .5-3.1 .5 5.1 .5-2.3 .5 .8 .5-1.2 .5-2.4 .5 5.1 .5-2 .5-.1 .5 1.5 .5 3.2 .5-4.2"/>
<path stroke="#000000" d="M406.5,1323.8l.5 3.2 .5-16.8 .5 7.9 .5 5.2 .5 1.5 .5-3.2 .5 3.8 .5-5.6 .5 1.2 .5-1.7 .5-5.8 .5 1 .5 5.6 .5-4.4 .5 8.4 .5 .1 .5 2.3 .5-8.3 .5 6.4 .5-10.4 .5 .4 .5 4.1 .5 .9 .5-8.6 .5-.6 .5 9.6 .5-5.6 .5 9.6 .5-3.7 .5-.3 .5-.4 .5 3.3 .5-4.7 .5 5.8 .5-7.2 .5 1.5 .5-2 .5 6 .5-2.4 .5-3.9 .5 12.8 .5-10.1 .5 1.3 .5 2.5 .5 6.4 .5-8.4 .5 4.1 .5-2.5 .5-6.8 .5 10.4 .5 1.3 .5-5.4 .5 1.2 .5-6.4 .5 .2 .5 5.3 .5 4.9 .5-4.7 .5 3.7 .5 3.3 .5-3.6 .5 2.4 .5 4.1 .5-11.7 .5 9.1 .5-11.4 .5 10.5 .5-.7 .5-3.1 .5-2.1 .5 4.8 .5-1.3 .5 2.5 .5-4.2 .5 6.6 .5-6.7 .5 3.4 .5-.1 .5 7.5 .5-11.9 .5 4.9 .5 7.2 .5-7.8 .5-2.3 .5 6.9 .5-2.3 .5 5.1 .5-7.3 .5 5 .5 2.3 .5 1.8 .5-9 .5 11.2 .5-9.8 .5-2.4 .5 2.6 .5 5.1 .5-1.8 .5 3.5 .5 .4 .5-.5 .5-2.2 .5 9.1 .5-15.6 .5 1 .5 5.4 .5-2.9 .5-2.5 .5 5 .5 .4 .5-4.6 .5 11.9 .5 2.2 .5-.1 .5-7.1 .5 3 .5-5 .5 5.8 .5-3.5 .5 4.8 .5-2.9 .5 6.1 .5-.7 .5 2 .5-11.6 .5-.6 .5 9.5 .5-3.9 .5 4.3 .5-.1 .5-.3 .5 3.3 .5-1.2 .5-.1 .5-5.4 .5 11 .5-6.3 .5 4.3 .5-3 .5 4.1 .5-4.3 .5 .5 .5-.1 .5-3.2 .5 .8 .5 2 .5 .3 .5-3.2 .5 11.9 .5-11.5 .5 3 .5 9.2 .5-10.2 .5 6 .5-.2 .5-3.2 .5-4.7 .5-.3 .5 6.4 .5 2 .5-9.1 .5 8.4 .5-3 .5 6.4 .5-2.6 .5-3.7 .5 1.7 .5 2.1 .5 5.3 .5 2.4 .5-5.9 .5-.7 .5 2.5 .5-2.4 .5 2.8 .5-.7 .5-1.3 .5-2.9 .5 4 .5 3.1 .5-3 .5 5.8 .5-2 .5-4 .5 7.5 .5-10.9 .5 9.1 .5 2.7 .5-7.8 .5 .8 .5 4.3 .5 2.1 .5-3.6 .5-.6 .5 2.9 .5-2.3 .5-5.5 .5 4.2 .5 .8 .5-5.5 .5 7.5 .5-4.1 .5 5.9 .5-8.4 .5 2.4 .5-1.8 .5 10.6 .5 .2 .5 .9 .5 .2 .5-1.9 .5 .1 .5-9.6 .5 7.9 .5-3 .5 .9 .5-3.2 .5 9.7 .5-4.1 .5-6 .5 7.6 .5-2 .5-3.5 .5 2.9 .5-1.6 .5-4.3 .5 1.8 .5 7.7 .5-.5 .5-.1 .5-5.3 .5 2.3 .5 2.6 .5 2.5 .5-5.5 .5-.7 .5 8.3 .5-3.8 .5-1.5 .5-1.2 .5 .5 .5 8.4 .5-2.2 .5-4.9 .5-3 .5 10.9 .5-.3 .5-1.2 .5-1.2 .5-9.8 .5 2.3 .5 6.8 .5-3 .5 2.1 .5-2.7 .5-.4 .5 4.5 .5-3.4 .5 1.6 .5 1 .5 0 .5 3.4 .5 .9 .5-9.9 .5 4.1 .5-1.3 .5 5.2 .5-6.5 .5 6.7 .5-.2 .5-.4 .5-5.5 .5 2.8 .5-3 .5 5.4 .5 2.1 .5-8.9 .5 2.6 .5 2.5 .5-1.3 .5 7.3 .5-5.8 .5 1.5 .5-4.8 .5 9.6 .5-4.9 .5 2.3 .5-2.4 .5-7.1 .5 1.1 .5 1.2 .5 6.4 .5-3.5 .5 3.4 .5-.4 .5-.1 .5 2.5 .5-2.6 .5-6.5 .5 3.5 .5 8.4 .5-9.7 .5 8.8 .5 1.1 .5-8 .5 3.4 .5-6.1 .5 7.8 .5-5.5 .5-1.9 .5 3.4 .5-.2 .5-.4 .5 2.8 .5-1.2 .5-1.7 .5 5.7 .5 3.5 .5-6.5 .5-2.7 .5-1 .5 5.7 .5-2.9 .5 1 .5-6.8 .5 2.8 .5-.1 .5 7.5 .5-4.2 .5-5.7 .5 8.5 .5 2.3 .5 .7 .5-11.3 .5 7.3 .5 2.4 .5-.7 .5-2.9 .5-5.5 .5 4.8 .5 .5 .5 3.2 .5 .3 .5-3.1 .5 3.9 .5-6.7 .5 1.4 .5 2.4 .5 2.1 .5-3.1 .5 5.5 .5-2.8 .5-4.7 .5 3.7 .5-3.4 .5-.2 .5-1.6 .5 9.9 .5-1.6 .5-8.8 .5 9.6 .5-.5 .5-4.6 .5 3.1 .5 4.9 .5-5.6 .5 .5 .5 2.5 .5-7.5 .5-.7 .5-.5 .5 4.7 .5 3.4 .5-6 .5-1.8 .5 5.6 .5-1.9 .5 3.4 .5-2.5 .5-.1 .5 .4 .5 .5 .5-3.5 .5-.5 .5 9.5 .5 1 .5-2.5 .5-9.5 .5 5.8 .5 4 .5-9.7 .5 4 .5 .3 .5-1.7 .5 .3 .5 6.5 .5-5 .5 .8 .5 6.8 .5-8.9 .5-3.7 .5 9 .5 4.1 .5-5.6 .5 .4 .5-5.5 .5 1.3 .5 8.3 .5-.6 .5-2.3 .5-4.3 .5-1.8 .5 .5 .5-.4 .5 6.2 .5-4.8 .5 1 .5 4.1 .5 0 .5-2.1 .5 1.5 .5-1.6 .5-6.6 .5 6.3 .5-1.1 .5 .2 .5 2.1 .5-2.7 .5 6.2 .5-4.8 .5 1.2 .5 .6 .5-1.7 .5 2.9 .5 .4 .5-.4 .5-4.6 .5-.7 .5 1.1 .5 2.1 .5-6.4 .5 3.5 .5-1 .5 1.7 .5-.8 .5 6 .5-1.2 .5 1.7 .5-6.6 .5 .8 .5 1.7 .5 6.7 .5 .1 .5-7.8 .5 4.3 .5 4.5 .5-10.1 .5 2.9 .5 5.2 .5-1.9 .5-5.9 .5 8.7 .5-1.8 .5-1 .5-6.5 .5 3.7 .5 5.1 .5-2.8 .5 1.1 .5-3.6 .5 6.1 .5-5.9 .5 4 .5-2 .5-4.3 .5 8.3 .5-9.3 .5 1.8 .5 3.1 .5-5.2 .5-1.4 .5 5.8 .5-1 .5 .5 .5 2.7 .5 4.8 .5-7.8 .5 7.9 .5-5.6 .5-1.2 .5-6 .5 1.2 .5 6.1 .5 1.1 .5-4.7 .5 3.8 .5 2.1 .5-4.9 .5-3.6 .5 2.2 .5 2.3 .5 2 .5 1.7 .5-5.7 .5 3.3 .5-1 .5 1 .5 3.6 .5 .7 .5-6 .5-.4 .5-.2 .5 .5 .5 .4 .5 .9 .5-1.1 .5-1.9 .5-.3 .5 4.1 .5 6.3 .5-4.6 .5 .3 .5-1 .5-1.7 .5 7.1 .5-7.6 .5-2.2 .5-.9 .5 4.8 .5-4 .5 .4 .5 .1 .5-1.6 .5 5 .5-6.2 .5 12.2 .5-12.8 .5 1.6 .5 4.9 .5 1.2 .5-2.6 .5 2.1 .5-.4 .5-.1 .5 1.5 .5-1.2 .5-1.1 .5-.2 .5 3.5 .5-3.6 .5 2.5 .5 3.4 .5-4.1 .5 2.8 .5-5.5 .5 2.3 .5 .8 .5-1 .5 .8 .5 3.2 .5-5.9 .5-1.2 .5 3.3 .5-6.1 .5 4.9 .5 4 .5-4.1 .5 1.9 .5-.6 .5 2.7 .5-2.3 .5-1.1 .5-7.2 .5 4.7 .5 4.1 .5-2.9 .5-2.1 .5 5.5 .5-6.1 .5 1.8 .5 3.4 .5-4.1 .5 2.3 .5-.7 .5-4.1 .5 2.3 .5 .5 .5-1.1 .5 5.9 .5-3.8 .5-2.2 .5-2.6 .5 3.6 .5 5.5 .5-5.5 .5 3.5 .5-1.1 .5-3.3 .5-1.5 .5 5 .5-7.6 .5 7.6 .5-6 .5 6.9 .5-4.3 .5 1 .5 3.9 .5-7.1 .5 3.6 .5-1.3 .5 2.8 .5 .6 .5-1.5 .5-.3 .5-2.1 .5 3.4 .5-2.9 .5 1.2 .5 .1 .5-5.3 .5 .7 .5 4.6 .5-.8 .5 4.3 .5-10.8 .5 7.1 .5 3 .5-3.5 .5 2.3 .5-2.7 .5-.3 .5 3.3 .5-7.7 .5-2 .5 8 .5-1.3 .5-.1 .5 .6 .5 1.1 .5-3.9 .5 3.2 .5-.6 .5-5.1 .5 3.3 .5 1.4 .5-3.7 .5 6.2 .5-4.7 .5 3.8 .5 2.1 .5-10.2 .5 .5 .5 6.5 .5-2.7 .5 2.3 .5 4.2 .5-7.8 .5 4.6 .5-4 .5-1.4 .5 3.8 .5-.9 .5 2.8 .5-2.7 .5 1.8 .5-1.3 .5-7.8 .5 4.6 .5 0 .5 4.2 .5-6.9 .5 4.2 .5-2.2 .5-5 .5 5.7 .5 2.7 .5-3.6 .5 4.4 .5-2 .5-.3 .5-3 .5 1.1 .5 2.1 .5-1.7 .5-4.5 .5 3.6 .5 2 .5 2.4 .5-1.1 .5-6.5 .5 5.8 .5-8.3 .5 3.3 .5-.7 .5 8.2 .5-3.1 .5-1.4 .5-3.4 .5 6.5 .5-5.4 .5 2.5 .5 2.1 .5-5.1 .5 2.9 .5-8.9 .5 8.8 .5-8.3 .5 7.5 .5-.5 .5 .5 .5 5 .5-13.8 .5 8.4 .5-3.2 .5 4.1 .5-1.7 .5-.9 .5-2.3 .5-.9 .5 3.7 .5-6.9 .5 9.3 .5-6.1 .5 3.6 .5-6.1 .5 5.9 .5-2.7 .5 3.5 .5 1.6 .5-6.6 .5 2.2 .5 .4 .5 4.3 .5-10.3 .5 6.8 .5-2.4 .5-4.5 .5 3.1 .5-1.4 .5 6.4 .5-7.7 .5 7.1 .5-5.6 .5 4.1 .5-9.1 .5 3.4 .5 3.3 .5-4.2 .5-2.5 .5 5.7 .5 2.7 .5-3.1 .5-.9 .5 2.1 .5-3.3 .5 4.9 .5 .5 .5-9 .5 8.5 .5-1.5 .5-1.7 .5 1.4 .5 2.6 .5 1.5 .5-1 .5-7.2 .5 5.8 .5-11.6 .5 9.6 .5-.9 .5 .9 .5-7.3 .5 8.7 .5-.7 .5-4.3 .5-6.3 .5 6.5 .5-4.7 .5-2.9 .5 3.1 .5 9.6 .5-12.9 .5 4.2 .5 1.8 .5 2.7 .5-7.6 .5-.1 .5 7 .5-2.6 .5 3.6 .5-9.4 .5 3.9 .5 3.8 .5-3.3 .5-5 .5 4.7 .5-8 .5 4.2 .5 5.8 .5 .3 .5-2 .5 .9 .5-8.7 .5 3.2 .5 6.4 .5 3.3 .5-5.9 .5-5.5 .5-.3 .5 8.3 .5-.6 .5-9.2 .5 5.2 .5 4.7 .5-.1 .5-7.7 .5 1.2 .5 2.4 .5-6.4 .5-2.2 .5 3.5 .5 7.4 .5-.7 .5-2.6 .5-6.7 .5-3 .5 3.2 .5 4.1 .5 3.7 .5-7.8 .5 3.7 .5-7.7 .5-.3 .5 7.1 .5-4.9 .5 .4 .5-3.3 .5 10.3 .5-10.6 .5 7.1 .5-6.3 .5 4.3 .5 6.7 .5-4.6 .5-.6 .5 2.9 .5-1.6 .5 3.3 .5-11.7 .5 11.3 .5-5.4 .5-4.6 .5 6.5 .5-.4 .5-2.4 .5 3.4 .5-9 .5-1.6 .5 4.2 .5 6.8 .5-2.5 .5-2.3 .5-2.7 .5 2.4 .5 4.7 .5-7.2 .5-.3 .5 4 .5 .8 .5-2.2 .5 5.2 .5-5.2 .5-5 .5-3.8 .5 12.4 .5-5.7 .5 1.9 .5 .4 .5 3.6 .5-1.4 .5-.3 .5-3.1 .5-2.2 .5 1.9 .5-4.6 .5 4.7 .5 2.8 .5-1.5 .5-2.6 .5-4.4 .5-.1 .5 .5 .5 1.2 .5 3.4 .5 0 .5 .2 .5 1.7 .5-8.4 .5 3 .5 3 .5 1 .5-6.3 .5-.3 .5 7.6 .5-2 .5-1.2 .5-3.2 .5-2.9 .5 3.7 .5 1.3 .5 .7 .5 1.4 .5-3.3 .5 4.7 .5-6.8 .5 2.7 .5-1.3 .5-8 .5 1.9 .5 3.2 .5 2.7 .5 .6 .5 3.9 .5-5.6 .5-1.5 .5 2.7 .5-6.7 .5 4.2 .5-3.6 .5 4.4 .5-3.4 .5 1.1 .5 9.8 .5-3.6 .5 3.4 .5-7.5 .5-1.7 .5-2.7 .5 3 .5-7.4 .5 7.7 .5-2.9 .5-3.4 .5-2.2 .5 3.8 .5 1.9 .5 1.5 .5-6.9 .5 6.6 .5 1.4 .5 6.9 .5-6.9 .5 2.2 .5-7.1 .5 2.9 .5-3.2 .5-.6 .5 5.5 .5-3.2 .5 7.1 .5-6.6 .5 1.9 .5-7.3 .5 .8 .5 7.1 .5-6 .5 8.3 .5-9.2 .5-.5 .5 12.1 .5-15.9 .5 5 .5 4.4 .5 .2 .5-7.7 .5 13.2 .5-10.5 .5-6.5 .5 12.2 .5-6.2 .5 2.3 .5 2.9 .5-7.4 .5 .7 .5 2.6 .5 4 .5-9.5 .5 12 .5-4.8 .5-6.6 .5 5 .5 2.3 .5 2.8 .5-1.6 .5 1.1 .5-5.6 .5 3.8 .5-11.7 .5 12.9 .5-4.7 .5 7.2 .5-9.6 .5 .5 .5 2.3 .5 3.5 .5-2.1 .5 3.1 .5-4.2 .5 4.4 .5 3.9 .5-2.8 .5-2.6 .5-9.1 .5 9.3 .5 2.1 .5-5.4 .5 5.5 .5-12.9 .5 5.6 .5-.9 .5 6.5 .5-5.7 .5-.5 .5 10.8 .5-12.6 .5 8.7 .5 2.8 .5-5.8 .5-2.6 .5 3.3 .5-1.5 .5-.7 .5 4.6 .5-1 .5 8.6 .5-2.4 .5-4.6 .5 1.9 .5 5 .5-2 .5-4.6 .5-3.4 .5 11.2 .5-7.5 .5 1.3 .5 5 .5-4.8 .5 4.9 .5-6.6 .5 2.3 .5-1.5 .5 9 .5-14 .5 5.5 .5-2.7 .5 .8 .5-2.3 .5 2.2 .5 8.8 .5 1.2 .5-8.8 .5-2.3 .5 3.4 .5 9.1 .5-7 .5-7.6 .5 11.8 .5-3.9 .5 3.3 .5-.7 .5-7 .5 9.9 .5-1.3 .5-5.4 .5-4.9 .5 3.2 .5 .3 .5 7.8 .5-5.1 .5 .8 .5 2.2 .5-1.8 .5 3.7 .5-.2 .5 2.9 .5-8.9 .5 6.8 .5-2.4 .5 9.3 .5-1.7 .5-7.5 .5 5.8 .5-11 .5 3.1 .5 3.5 .5 2.4 .5-5.4 .5 4.9 .5 5.2 .5-11.5 .5 1.2 .5-1.9 .5 12.6 .5-8.9 .5 3 .5-1.8 .5 3.5 .5-.8 .5 2.3 .5 .2 .5 6 .5-10.1 .5 4.8 .5-.8 .5-3.2 .5 7.3 .5 4.2 .5-11.5 .5 12.5 .5-8.2 .5 .5 .5-6.8 .5 7.9 .5-.5 .5-.3 .5 4 .5-3.1 .5 2.4 .5-3.8 .5-1.7 .5 5.3 .5 2.1 .5 .7 .5-2.1 .5-3 .5 3.3 .5-.9 .5-3.7 .5 6.5 .5-1.7 .5-3.3 .5 3.4 .5 3.7 .5 3.8 .5-12.6 .5 5.9 .5 3.8 .5 2.6 .5-2.7 .5-5.2 .5 2.3 .5 2 .5-2.6 .5-.8 .5-.6 .5 12.6 .5-7.1 .5-.8 .5 3.8 .5-2.2 .5-.5 .5 1.7 .5-3.5 .5 1.6 .5 5.2 .5-.9 .5-6.2 .5 10 .5-7 .5-4.2 .5 8.9 .5 0 .5-1.1 .5-4.6 .5 8.4 .5-2.3 .5-.4 .5-.3 .5 .8 .5 5.9 .5-8.7 .5 3.2 .5 3.3 .5-1.1 .5-5.5 .5 2.6 .5-.7 .5-3.8 .5 4.9 .5 4.4 .5-2.3 .5 3.2 .5-2.2 .5-4 .5 4.7 .5-8.1 .5 11.1 .5-5.8 .5 7.6 .5-10.8 .5 1.6 .5 2.1 .5 .9 .5-4.7 .5 1.4 .5 6.5 .5-4.5 .5 6.2 .5 3 .5-11.1 .5 4.1 .5 7.9 .5-2.2 .5-8.6 .5 6.4 .5 4.8 .5-12.5 .5 8.2 .5 2.7 .5-5.4 .5-.4 .5 5.2 .5-8.2 .5 7.8 .5 2.6 .5-3.9 .5-5.7 .5 11.3 .5-5.5 .5 2.2 .5-4.9 .5 3 .5 4.3 .5-9 .5 .8 .5-1.8 .5 8.3 .5 .2 .5-4.4 .5 4.3 .5-1 .5 6.7 .5-10.6 .5 5.2 .5-2.3 .5 8.1 .5-4.7 .5-5.5 .5 5.8 .5-1.9 .5-2.6 .5 4.8 .5-.8 .5-4.4 .5 2.6 .5 5.7 .5-.4 .5-3.7 .5-.7 .5 2.3 .5-1.2 .5-3.6 .5 6.5 .5-4.8 .5 7.8 .5-2.8 .5 .6 .5-3.4 .5 1.8 .5-2.5 .5 .8 .5-2 .5 8.4 .5-8.5 .5 9.7 .5-3.1 .5-5.5 .5 7.6 .5-2.9 .5-3.9 .5 3.6 .5-1.8 .5-1.3 .5 2.4 .5 1.3 .5-1.9 .5 1 .5 2.9 .5-2.9 .5-.8 .5-2.9 .5 4.2 .5-1.2 .5 .9 .5 3.5 .5 .3 .5-2.6 .5-2 .5 2.5 .5 .7 .5-.1 .5-5.4 .5 5.8 .5-4.3 .5 4.5 .5 .4 .5-.7 .5 3.5 .5-3.8 .5 1.1 .5-3.9 .5 2.7 .5-.3 .5 1 .5-.7 .5-5.6 .5 9 .5-.3 .5-8.4 .5 7.1 .5 2.6 .5-.9 .5 0 .5-2.8 .5-1 .5 7.9 .5-4.6 .5 4 .5-5.5 .5 3.3 .5-.2 .5 0 .5-6.5 .5 10.1 .5-5 .5-2 .5 2.1 .5-6.6 .5 10.3 .5-5.7 .5 2.2 .5-.2 .5-6.1 .5 4.6 .5 5.1 .5-6.4 .5 3.4 .5 2.5 .5 1.9 .5-7.7 .5 6.1 .5-1.1 .5-.4 .5 1.4 .5-.6 .5-5.4 .5 4.7 .5-3.4 .5 3 .5-2.3 .5 6.1 .5-1.7 .5-1.3 .5-3.6 .5 3.5 .5-4.8 .5 .8 .5-2.5 .5 8.1 .5-4.2 .5 4.5 .5 .7 .5-.3 .5-4.4 .5 5.9 .5-.8 .5-7.6 .5 5.2 .5-3.6 .5 2.2 .5 4.2 .5-2.7 .5 4 .5-2.9 .5 .4 .5 3 .5-1.3 .5-1.3 .5 1.8 .5-.4 .5-8 .5 1.1 .5 3.6 .5 3.2 .5-5.7 .5-2.8 .5 5 .5-1.6 .5 6.5 .5-10.8 .5 8.9 .5-.5 .5-8.2 .5 3.1 .5 2.4 .5 2 .5-1 .5 1.9 .5-1.2 .5-3.1 .5 7.7 .5-4.2 .5-3.5 .5 4.3 .5-1.9 .5-.8 .5-.6 .5-2.6 .5 1.9 .5-1.1 .5-2.2 .5 7.7 .5-.5 .5-1.6 .5-2.7 .5 1.1 .5 7.3 .5-7.4 .5 5.3 .5-1.5 .5 .5 .5-2.9 .5 .8 .5 .6 .5-3.1 .5 7.5 .5-6.6 .5 3.1 .5 4.9 .5-.8 .5-6.3 .5 3.4 .5 1.6 .5-9 .5 11.6 .5-3.9 .5-2.4 .5 .6 .5-5.7 .5 8.2 .5 2.8 .5-5.4 .5 5.6 .5-2.8 .5-6.1 .5 5.8 .5-7.7 .5 .4 .5 7.7 .5-.2 .5-1.9 .5 0 .5-4.3 .5 7.8 .5-3.1 .5-.5 .5 6.2 .5-4.7 .5-.8 .5 5.6 .5-4.5 .5-2.3 .5 6.2 .5-5.1 .5-1.9 .5 1.4 .5 1.2 .5 2.8 .5 1.1 .5-7.5 .5 7.5 .5-5.7 .5 .6 .5-4.7 .5 11.1 .5-3.1 .5-2.4 .5 .1 .5 3.5 .5-2.8 .5-6.2 .5 7 .5-.9 .5 .5 .5-.2 .5 2.5 .5-4.8 .5 7.6 .5-4.9 .5-2.6 .5 2.6 .5-5.5 .5 4.7 .5-1.7 .5-.7 .5 5.5 .5-1.6 .5-3.8 .5 1.1 .5 2.9 .5 4.4 .5-5.7 .5-.1 .5 1.9 .5-5.2 .5 3.5 .5 2.5 .5-.9 .5-.2 .5-4.6 .5 3.8 .5 4.2 .5 1.1 .5-2.4 .5-4.5 .5 .3 .5 .8 .5 5.9 .5-9.3 .5 3.4 .5-4.4 .5 3.8 .5 .4 .5 3.6 .5-.3 .5-1.7 .5-1.5 .5-.4 .5 6.2 .5-5.3 .5-3 .5 1.1 .5 2.4 .5-2.5 .5-2.4 .5 7.6 .5-4.9 .5 1.7 .5 .6 .5-1 .5 .2 .5-5.4 .5 6.1 .5-.9 .5-.5 .5 1 .5 5.6 .5-.4 .5-2.7 .5 2.4 .5-5.9 .5 1.1 .5 1.6 .5 1.3 .5-.2 .5 2.9 .5-5.8 .5 4.5 .5-5.9 .5 3.5 .5-4.6 .5 6.7 .5-5.3 .5 5.5 .5-9.7 .5 11.1 .5-5.4 .5 1.4 .5-.5 .5-5.9 .5 3.3 .5-.1 .5 1.6 .5-4.5 .5 2.8 .5 2.2 .5 3.1 .5-1.2 .5-5.7 .5 6.1 .5 2.2 .5-2.5 .5-3.3 .5-1.7 .5 1.5 .5 6.1 .5-7.9 .5-2.9 .5 8.6 .5-4.6 .5 1.7 .5-1 .5 4.6 .5-4.5 .5-1.1 .5-.2 .5 7.7 .5-.8 .5-5.5 .5-.4 .5 1.1 .5 2.1 .5-4.3 .5 7.2 .5-3.8 .5-6.8 .5 2.8 .5 2.2 .5 6.3 .5-.6 .5-4.2 .5-4.1 .5 3.2 .5 .3 .5-1.4 .5 1.7 .5 1.7 .5-3.6 .5-2 .5 3.8 .5-5.2 .5 3.3 .5 4.9 .5-3.1 .5-4.2 .5 3.4 .5-.7 .5 1.1 .5 2.7 .5-4.6 .5-2.2 .5 8.4 .5-7.3 .5 4.4 .5-.6 .5-2.2 .5 2.7 .5-.7 .5-.5 .5 1.7 .5-4.4 .5 5 .5-5.4 .5 5.5 .5 1.1 .5-6.5 .5 8.2 .5-7.7 .5 1.7 .5-2.4 .5 1.6 .5 1.1 .5-2.1 .5 4.7 .5-5.3 .5 3.3 .5-4.2 .5 .3 .5 3.1 .5 .6 .5-2.1 .5 2.1 .5 .4 .5-3.5 .5 2.1 .5-2.7 .5-1.4 .5 2.1 .5 1.1 .5 4.2 .5-2 .5-1.2 .5-6 .5 2.8 .5 4.2 .5 .3 .5-1.8 .5-3.7 .5-2 .5 .5 .5 5.6 .5 .6 .5 4.2 .5-7.4 .5 3 .5-3.4 .5 1.7 .5 .9 .5-2 .5 5.9 .5-7.6 .5 5.7 .5-3.1 .5-.9 .5 4.6 .5-4.9 .5 2.6 .5-.9 .5 2.1 .5-5.8 .5 4.5 .5 .5 .5-3.4 .5-1.2 .5-.1 .5 3 .5-2.3 .5 4 .5-2 .5-.5 .5 .6 .5 .3 .5 .1 .5 1.4 .5 1.7 .5-2.2 .5 .2 .5 3.1 .5 0 .5-4.5 .5-3.5 .5 6.9 .5-6.1 .5 .1 .5-.2 .5 1.3 .5-4.9 .5 4.4 .5 4.9 .5 2.2 .5-4.2 .5 1 .5 .2 .5-4.5 .5-1.1 .5 4 .5 2.3 .5-3.1 .5 .6 .5-1.1 .5-.4 .5-1.2 .5 4.9 .5-.8 .5-3 .5 1.2 .5 1 .5 1.5 .5 2 .5-.1 .5-5.4 .5 .7 .5-1.6 .5 3.2 .5 .9 .5-8.4 .5 5.3 .5 4 .5-8.9 .5 9.1 .5-1.3 .5-5.1 .5-1.6 .5 8.4 .5-6.6 .5-2.8 .5 4 .5-4.5 .5 1 .5 8.6 .5-6.9 .5 .7 .5-4.7 .5 2.3 .5 5.9 .5-2.1 .5 2 .5-.3 .5-2.4 .5-2.1 .5-4.9 .5 9.5 .5-3.2 .5 5.4 .5-6.3 .5 0 .5-1.2 .5-2.4 .5 3.9 .5 .9 .5-.4 .5-1.7 .5-1.6 .5 6 .5-.5 .5-5.2 .5-2.1 .5 1.9 .5-.1 .5 5.4 .5-6 .5 3.8 .5-4.4 .5 2.8 .5 6.1 .5-7.9 .5 3.4 .5-2.8 .5 5 .5-2.5 .5-1.1 .5 4.5 .5-2 .5-.7 .5-5.8 .5 .8 .5 7.4 .5-8.4 .5 8.8 .5-.1 .5-5.9 .5-2.1 .5-1.3 .5 6.4 .5-.9 .5-4.3 .5-.9 .5 4.8 .5-3.7 .5 1.9 .5-4.8 .5 6.1 .5-.9 .5-2.1 .5-2.2 .5 3.4 .5 1.4 .5 .1 .5-1 .5-2.8 .5 4.4 .5 1.6 .5-5.7 .5-2.1 .5 8.6 .5-4 .5-6.7 .5 8.6 .5-2.2 .5-2.8 .5 2.5 .5-3.8 .5 .6 .5-2.5 .5 8.9 .5-5.5 .5 2.3 .5 .4 .5-6.8 .5 6.1 .5-4.2 .5 7.6 .5-7.9 .5 6.5 .5 2.6 .5-4.4 .5 2.4 .5 1.1 .5-3.8 .5-1.3 .5-3.9 .5 10.6 .5-2.7 .5-1.2 .5-7.6 .5 9.1 .5-4.8 .5 1.8 .5 .6 .5 2.5 .5-4.7 .5-1.2 .5 4.1 .5-1 .5-2.8 .5 8.4 .5-2.8 .5-8.7 .5-.8 .5 0 .5 4.4 .5 2.8 .5 4.1 .5-5 .5-2.6 .5 2.5 .5-.3 .5-3.1 .5 3.5 .5-6.4 .5 4.7 .5 2.7 .5-2.2 .5 2.4 .5 1.8 .5-1.5 .5 .2 .5 0 .5-2.7 .5 3.9 .5-2.4 .5-3.9 .5 6.2 .5-3.1 .5-6.1 .5 11.7 .5-5.3 .5-2.6 .5 5 .5-1.2 .5-.4 .5 4.9 .5-1.9 .5-4.4 .5-1.3 .5-1.8 .5 5.5 .5-1 .5 3.2 .5-2.8 .5 1.7 .5 2.1 .5-5.8 .5-1.4 .5 3 .5-4 .5 3.6 .5-.2 .5 5.4 .5-5.6 .5 5 .5-5.1 .5 1.2 .5-1.3 .5 1.3 .5-1.6 .5-1.6 .5-.4 .5 6.8 .5-2.2 .5 4.6 .5-.3 .5-7.9 .5 8.8 .5-6.9 .5-3.6 .5 1.4 .5 2 .5-4.7 .5 8 .5-2.5 .5 3.1 .5-.9 .5-.1 .5 1.4 .5-.6 .5-5.9 .5 9.3 .5-6.3 .5 1.6 .5 2.2 .5-4.5 .5 .7 .5-4 .5 7.8 .5 0 .5-3.3 .5-1.2 .5-3.8 .5 7.8 .5-4.4 .5 1.4 .5 .5 .5 0 .5 1.6 .5 1.5 .5-1.3 .5-3.9 .5 3.3 .5-.2 .5-2.5 .5 2.2 .5 3.6 .5-.3 .5-.6 .5 .3 .5-7.6 .5 6.5 .5 4.1 .5-5.5 .5 .1 .5-1.3 .5 3.3 .5-.9 .5-2.9 .5 3.4 .5-.2 .5 1.1 .5 .2 .5-3.4 .5 3.5 .5-1.3 .5-.1 .5-.9 .5 1.5 .5-2 .5-1.4 .5 6.6 .5-7 .5 4.5 .5 1.6 .5-1.6 .5-1.6 .5 .5 .5-4 .5 5.6 .5-3.7 .5 2.4 .5-2.3 .5 5.3 .5-3.7 .5 1.1 .5 4.4 .5-7 .5 2.2 .5-5.2 .5 5 .5-.3 .5-.5 .5 3.9 .5 2.5 .5-2 .5-.1 .5 .9 .5-4.7 .5-.5 .5 3.3 .5 4.2 .5-6.7 .5-2.6 .5 4.6 .5 2.8 .5-.8 .5-.6 .5-1.6 .5 2.5 .5-3.3 .5 4.8 .5 .4 .5-1.4 .5 3.2 .5 .1 .5-7.8 .5 1.8 .5-2.2 .5-2.1 .5 1.7 .5 2.8 .5 2.1 .5-.3 .5-7.1 .5 5.8 .5-3.2 .5 5.3 .5-4.2 .5 5.3 .5 2.3 .5 .5 .5-6 .5 1.3 .5-1.6 .5 .9 .5 5.2 .5-10.2 .5 3.5 .5 2 .5-1.6 .5-1.8 .5 6.5 .5-3.3 .5-1 .5-2.7 .5 3.7 .5 3.1 .5-3.1 .5 3.8 .5-4.1 .5-1.5 .5 2.6 .5-2.7 .5-1.7 .5 6.1 .5 1.3 .5 2.2 .5-10.4 .5 8.4 .5-.9 .5-1.4 .5 1.1 .5 .6 .5-.4 .5 .2 .5-2.4 .5 5.9 .5-5 .5 3.3 .5-4.2 .5 1 .5-.2 .5 1.1 .5 3.3 .5-8.3 .5 8 .5-5.5 .5 7.6 .5-8.3 .5 3.3 .5 1.5 .5-6.5 .5 4.7 .5 .2 .5 1 .5-1.6 .5-2.4 .5-2.4 .5 3.8 .5 .5 .5 .2 .5 3.5 .5-2.1 .5-5.2 .5 2.5 .5 5.8 .5-1.3 .5-1.4 .5-1.4 .5 4.2 .5-5.3 .5 .3 .5 5.1 .5-8.4 .5 8.6 .5-4.5 .5 2.5 .5-2.3 .5-4.1 .5 6.5 .5-3.1 .5 1.8 .5 1.5 .5-.6 .5-.1 .5 1.5 .5-5.8 .5 9.4 .5-9.7 .5 3.8 .5 .6 .5-1.4 .5 3.7 .5-3.5 .5 1.6 .5 5.3 .5-6.7 .5 6.7 .5-9.3 .5 5.7 .5-1 .5 1.3 .5-7.4 .5 0 .5 7.5 .5 .6 .5-.4 .5-3.3 .5 2.9 .5-.3 .5-2.8 .5 7.1 .5-5.5 .5-1.3 .5 2.6 .5-2.2 .5 1.9 .5-3.3 .5 .2 .5 1 .5 4.5 .5-3.6 .5 5.3 .5-.4 .5-5.7 .5 .3 .5 4.7 .5-4.1 .5-.1 .5 6.1 .5-1.4 .5-1.9 .5-6.8 .5 5.6 .5-5.2 .5 5.5 .5 .4 .5 4.2 .5-8.9 .5 4.3 .5 .5 .5 .3 .5 .4 .5 1.8 .5-1.8 .5-2.5 .5 .5 .5 3.8 .5-4 .5-4.7 .5 1.2 .5 1.1 .5-.2 .5 4.4 .5-.2 .5-5.5 .5 2.1 .5 4.2 .5 0 .5-1.5 .5 5.5 .5-7.6 .5 5.7 .5-2.5 .5-6.2 .5 2.4 .5 3.4 .5-2.5 .5 1.2 .5 .6 .5 1.4 .5-1.8 .5 2.7 .5-2.4 .5-2.2 .5 1.7 .5-2.3 .5 5.7 .5-6.4 .5 2.7 .5 .4 .5 2.7 .5 2.6 .5-7.3 .5 2.3 .5-.4 .5-.7 .5-2.6 .5 5 .5-5.5 .5 9.4 .5-1.7 .5 .7 .5 2.3 .5-5.6 .5-1.7 .5-3.2 .5 8.5 .5-.9 .5-3.7 .5-1.6 .5 4 .5-.1 .5-4 .5 7.4 .5-5.7 .5 3.3 .5-6.9 .5 2.2 .5 3.4 .5-3.3 .5 7.9 .5-10.1 .5 3.7 .5-3.6 .5 4 .5 4.6 .5-2.7 .5-1.3 .5 4.1 .5-7.9 .5 .9 .5-1 .5 7.6 .5-7.7 .5 8.5 .5-5.8 .5 1.4 .5-.4 .5 3.5 .5-3.8 .5 .6 .5 0 .5 .5 .5-2.1 .5 2.6 .5-3 .5 4.5 .5-2.9 .5 5.4 .5-7.9 .5 4.4 .5-.7 .5 5.3 .5-3.5 .5-2 .5 0 .5-1.4 .5 7.4 .5 0 .5-5.6 .5-1.9 .5 3.4 .5 .8 .5-4.7 .5 1.5 .5-.3 .5 .7 .5 2.2 .5-4.3 .5-2.1 .5 10.5 .5-6.5 .5 2.4 .5-2.7 .5 1.7 .5 .5 .5-1.2 .5 5.9 .5-3.7 .5-2.6 .5 1.1 .5-.2 .5-.7 .5 3.7 .5 0 .5-3.1 .5 .8 .5-4.1 .5 4.9 .5-1.8 .5-2 .5 1.4 .5 5.1 .5-6.7 .5 .2 .5 3.6 .5 .2 .5-1.7 .5-2.5 .5 1.2 .5 7.3 .5-9.4 .5 4.5 .5 1.9 .5-.5 .5 3.6 .5-4.4 .5-2.2 .5-.8 .5 1.2 .5 4.6 .5-6.9 .5 3.8 .5-2.9 .5 2 .5 5.7 .5-4.7 .5 .5 .5-2.6 .5-2.9 .5 2 .5 1.1 .5 1.2 .5-4.9 .5 4.6 .5 4.5 .5-5.4 .5 3.5 .5-1.4 .5-.8 .5-.6 .5 2.8 .5 2.7 .5-9.6 .5 7.8 .5-3.9 .5 2.1 .5 2 .5-2.5 .5 4.9 .5-2.3 .5-3.8 .5 3.3 .5-6.5 .5 4.8 .5-2.2 .5-.8 .5 5.2 .5-2.2 .5-1.9 .5 2.3 .5-1.2 .5-.1 .5-4 .5 3 .5 2.9 .5-.4 .5-.9 .5-3.3 .5 1.1 .5-3 .5 2.3 .5 6.3 .5 1.3 .5-4.5 .5-.2 .5-3.9 .5 4.5 .5-2.1 .5 6.7 .5-3.7 .5-1.6 .5-4 .5 8.3 .5-3.8 .5 4.9 .5-3.2 .5-2.2 .5 2.4 .5 .2 .5-3.7 .5 5.3 .5 1.3 .5-6.8 .5-3.4 .5 7.3 .5-1.7 .5-.3 .5-2.5 .5 6.8 .5-9.5 .5 8.7 .5-4.8 .5-3.9 .5 3 .5 2.2 .5 5.2 .5-1.9 .5-3.6 .5 .5 .5 3.6 .5-1.4 .5 2.9 .5-7 .5 3.1 .5-2.7 .5 1.9 .5-4.4 .5 4.1 .5-4 .5 5 .5 3.1 .5-3.4 .5-.2 .5-.9 .5-3.3 .5 1.8 .5 .8 .5-1.6 .5 5.8 .5-8.1 .5 2.2 .5 .4 .5 1.7 .5-2.2 .5-.8 .5 .4 .5 1.6 .5-2 .5 6.8 .5-2.9 .5 3.4 .5-4.9 .5 3.2 .5-1.8 .5 .7 .5 3.8 .5-2.3 .5-1.2 .5-1.1 .5-4.4 .5 4.2 .5-1.1 .5 6.7 .5-6.3 .5 1.8 .5-.7 .5-1.4 .5 4.5 .5-5.7 .5 4.5 .5-6.5 .5 3.4 .5 6.2 .5-5.1 .5 1.2 .5 .2 .5-.7 .5-5.1 .5 .8 .5 6.6 .5-2 .5-4.2 .5 .2 .5 7 .5-4.7 .5 .7 .5-.5 .5-1 .5 3 .5 .5 .5-1.9 .5 .4 .5-2 .5 5.8 .5-7.5 .5 4.7 .5 1.2 .5 1.2 .5-3 .5 1.3 .5-1.9 .5-1.6 .5 2.5 .5 2.5 .5-.9 .5-5.1 .5 3.4 .5 3.3 .5-2.4 .5 3 .5-3.7 .5-.6 .5-4.5 .5 8.4 .5-7.9 .5 3.2 .5-1.3 .5 .6 .5 4.2 .5-6.5 .5 5.2 .5-4.2 .5 3.3 .5 1.2 .5-1.7 .5-.2 .5 .4 .5-.1 .5 2.1 .5-.5 .5-2.1 .5 6.2 .5-6.9 .5 6.6 .5-5.3 .5 4 .5-.6 .5-3.7 .5 3.1 .5 2.9 .5-9.2 .5 .7 .5 1.3 .5 7 .5-3.4 .5-3.2 .5 1.4 .5 1.2 .5-2.9 .5 1.5 .5 1 .5 1.1 .5 1.2 .5-3.8 .5 .8 .5-2.8 .5 3 .5 .7 .5-.5 .5 1.4 .5-4 .5 5.8 .5-2.5 .5 2.7 .5-5.6 .5 2 .5 .8 .5-2 .5 4.6 .5-2.9 .5-3.6 .5 6.2 .5-4.2 .5 2.4 .5 1.4 .5-4.8 .5 6.3 .5-1.5 .5-6.1 .5 7.1 .5-5.2 .5 .2 .5 6.2 .5-7.9 .5-1.3 .5 5.5 .5-1 .5-1.9 .5 5 .5-6.5 .5 1.4 .5 4.6 .5-3.8 .5-.7 .5 1.5 .5-2.2 .5-.1 .5 3 .5-1 .5 .9 .5-1.8 .5 2.8 .5 .5 .5 .9 .5-3.5 .5-.2 .5-1.3 .5 3.8 .5 1.6 .5 .1 .5-.4 .5 1.1 .5 1.4 .5-3.8 .5 1.1 .5-3.6 .5 3.1 .5 1.2 .5-3.8 .5 6.5 .5-3.5 .5 .7 .5-1.3 .5 4.2 .5-4.3 .5 1.8 .5-1.6 .5-1.8 .5 .8 .5-1 .5 .5 .5 3.1 .5-4.2 .5 1.2 .5 2.8 .5 1.1 .5-2.9 .5-.9 .5-2.5 .5 4.9 .5-3.6 .5 .5 .5 3.3 .5-3.1 .5 2.6 .5 0 .5-3.1 .5 1.4 .5 3.6 .5-2.3 .5-.3 .5-3.9 .5 3.1 .5 3.5 .5-3.9 .5 1.7 .5 1.5 .5 2.4 .5-9.1 .5 6.9 .5 .3 .5-2.7 .5 4.6 .5-8 .5-.5 .5 3.4 .5 2.1 .5-4.5 .5 2.7 .5-1.3 .5 6.2 .5-6.3 .5 5 .5-8.5 .5 4.8 .5 .2 .5-3.3 .5 2.5 .5 1.7 .5-1.6 .5-.6 .5 1.1 .5 1.4 .5 .2 .5-2.9 .5 4 .5-2.7 .5 5.2 .5-5 .5 .7 .5-3.3 .5 6.6 .5-4.4 .5 1.5 .5 1.5 .5-3.3 .5 1.5 .5-1.6 .5-1 .5-1.2 .5-1.7 .5 2.2 .5-2.2 .5 6.8 .5-4.8 .5 7.9 .5-5.5 .5-1.3 .5 5.6 .5-3.1 .5-1.1 .5-.1 .5 4.3 .5-5.6 .5-1.1 .5 2.6 .5 1.3 .5-5.7 .5 1.4 .5 1.2 .5 1 .5 1.1 .5-4.6 .5 3.6 .5-3.6 .5 6.7 .5-2.8 .5 2.8 .5 1.6 .5-2.8 .5-.4 .5-2 .5 .4 .5 2.9 .5 .9 .5 2.3 .5-6.5 .5-.6 .5 7.4 .5-4.7 .5-2.7 .5 5.2 .5-3.1 .5-.7 .5-2 .5 5.4 .5 .1 .5 2 .5-3.8 .5-1.3 .5 1.3 .5 .3 .5-1.5 .5-2.6 .5 .8 .5 2.4 .5-.7 .5 5.3 .5-3.9 .5-.8 .5-1.1 .5 3.2 .5-2 .5 2.9 .5-2.2 .5 2.6 .5-3.1 .5 2.1 .5 1.4 .5-4.2 .5 4.8 .5-3.8 .5 4.7 .5-.7 .5-1 .5-.3 .5 2 .5-5.7 .5 3.7 .5-2.5 .5 1 .5 .6 .5 1.4 .5-4.6 .5-.8 .5-1.1 .5 5.2 .5-2.7 .5 2.8 .5 1.1 .5 .3 .5-8 .5 5.4 .5-.1 .5-2.8 .5-1.5 .5 5 .5 3.6 .5-7.8 .5 2.7 .5 1.7 .5-6.3 .5 9.4 .5-6.5 .5 4.9 .5 1.9 .5-4 .5-3.3 .5 2.6 .5-1.1 .5 2.9 .5-4.2 .5 5.3 .5-4.5 .5 6.4 .5-8.3 .5 5.9 .5-5.9 .5 6.8 .5-3.1 .5-5 .5 2.5 .5 .7 .5-1.7 .5 3.5 .5-2.9 .5 2.6 .5 1.5 .5-1.2 .5-1 .5 0 .5 2.2 .5-2.5 .5 1.1 .5-4.7 .5 2.4 .5 3.4 .5-1.4 .5 .7 .5 0 .5 3.4 .5-5.2 .5-2.8 .5 7.5 .5-2.6 .5-2.6 .5-1.2 .5-1.5 .5 2.5 .5 1.8 .5 3.8 .5-4.4 .5 .4 .5-1.3 .5-1.4 .5 4.2 .5-.4 .5-1 .5 2.7 .5-6 .5 3.8 .5-.9 .5 2.6 .5-3.7 .5 .9 .5-.1 .5 1.7 .5-1.4 .5-.2 .5-1.6 .5 .5 .5 3.5 .5-3.3 .5 4.6 .5 2.2 .5-1.1 .5-2.3 .5-.1 .5 .5 .5-1.6 .5-.5 .5 .2 .5-1.9 .5 .9 .5 5.6 .5-7.6 .5 .3 .5-1.5 .5 6.3 .5 3 .5-1.9 .5-3.6 .5 2.9 .5-1 .5 .7 .5-4.2 .5 4.7 .5-4.1 .5 2.8 .5 .8 .5 .5 .5 2.4 .5-.7 .5-4.2 .5 5.3 .5-9 .5 2.6 .5 2.1 .5 1 .5-1.4 .5-.2 .5 4.1 .5-8.3 .5 3.8 .5-1.4 .5 1.7 .5-1.1 .5 2.6 .5 1.7 .5 1.2 .5-8.9 .5 3.5 .5 4.3 .5-2.8 .5-.9 .5 .5 .5 2.7 .5-2.7 .5 .8 .5-1.1 .5 .8 .5 .6 .5 4 .5-3 .5-1.2 .5 2.4 .5-6.8 .5 3 .5 1.2 .5-3.1 .5 2.4 .5-.3 .5-.5 .5-.3 .5 1.7 .5 2.3 .5-3.5 .5 1.9 .5 .4 .5-2.6 .5 1 .5 2.9 .5-6.1 .5 3.8 .5-.1 .5-1.5 .5-3.4 .5 6.6 .5 3 .5-5.3 .5 2.7 .5-1.5 .5 0 .5-1.2 .5 1.5 .5-3.4 .5 2.3 .5 .4 .5 0 .5-2.3 .5 4.1 .5-5.8 .5 .6 .5 3.6 .5-4.9 .5 9.2 .5-8 .5 2 .5 4.6 .5-6.6 .5 7.2 .5-.5 .5-.5 .5-2.8 .5 3.6 .5-3.8 .5 2.5 .5-4.6 .5 4.7 .5-.4 .5-.3 .5 .7 .5-4.8 .5 5 .5-2.9 .5 .7 .5 1.1 .5-2.9 .5 3.7 .5-2.7 .5 2.3 .5-1.7 .5-2.2 .5 4.5 .5-2.4 .5 1.3 .5-2.4 .5-2.8 .5 6 .5-6.9 .5 3 .5-2.7 .5 5.4 .5-5.6 .5 6.5 .5 3 .5-7.1 .5 5 .5 2.1 .5-7.9 .5 3.3 .5-1.7 .5 1.7 .5-.9 .5 5.5 .5-4 .5 4.1 .5 0 .5-1.4 .5-4.1 .5-.2 .5-.5 .5 3.6 .5-1.6 .5 .2 .5 .1 .5 3.9 .5-4.7 .5-.4 .5 1.7 .5 0 .5 2.3 .5 .2 .5-5.5 .5 3.3 .5-2.2 .5 2.3 .5-2.2 .5-1.3 .5 1.5 .5 1.7 .5-3.7 .5 3.6 .5-1.1 .5-.6 .5 1.8 .5 .7 .5-2.3 .5-4.4 .5 2.8 .5 4.9 .5-6.1 .5 4 .5-5.2 .5 9.1 .5-6.8 .5 3.8 .5-3 .5 1.8 .5 2.6 .5-3.1 .5-2.4 .5 6.2 .5-4.1 .5 4 .5-5.4 .5 1 .5 2.6 .5 .5 .5-.5 .5-3.7 .5 3.3 .5-5 .5 5.9 .5-1.8 .5 1.7 .5-3.2 .5 .8 .5 1.9 .5-4.9 .5 2.1 .5 3.6 .5-.7 .5-2.5 .5-.6 .5-1.3 .5 2.1 .5 2.5 .5-1.4 .5-3.2 .5 .7 .5 3.7 .5-6.5 .5 8.8 .5-8.8 .5 4.8 .5-1.8 .5-.1 .5 0 .5 2.5 .5-1.1 .5-.4 .5 4.9 .5-3.1 .5-1.2 .5-3.5 .5 3.2 .5 .5 .5 1.4 .5-1.3 .5-.2 .5-1.2 .5 3.5 .5-6.4 .5 4.5 .5 2.9 .5-7.9 .5 8.1 .5-2.2 .5-.3 .5-3 .5 .1 .5-.4 .5 7.1 .5-7 .5 7 .5-5.2 .5-1.9 .5 4.1 .5-2.3 .5-1.6 .5 1.1 .5 2.9 .5-2.5 .5-.8 .5 1.9 .5 .8 .5-4.5 .5 6.6 .5-6 .5 2.5 .5 2.8 .5-1.2 .5-1.9 .5-.3 .5 1.1 .5 2.9 .5-3 .5 3 .5-3.2 .5 4.7 .5-3.8 .5 2.7 .5-6.4 .5 3 .5 1.8 .5-6.3 .5 2.9 .5-1.1 .5 4.1 .5-3.6 .5 2.5 .5-.7 .5 0 .5-3.9 .5 5.7 .5-6.3 .5 7.5 .5-2.5 .5-2.5 .5 1.7 .5-3.9 .5 3 .5 1.5 .5 4.6 .5-8.3 .5 3.2 .5-2 .5 3.6 .5 2.3 .5-6.1 .5 3.1 .5 2.3 .5-3.8 .5 .4 .5-.3 .5 1 .5 .5 .5-2.4 .5 1.2 .5-2.1 .5 3.2 .5-.1 .5 2.3 .5-3 .5-.2 .5-3.1 .5 5.6 .5-1.6 .5-1.6 .5 2.2 .5 1.9 .5-1.3 .5-.2 .5 .5 .5-4.2 .5 2 .5 1.3 .5-4.5 .5 2.8 .5 4 .5-6 .5 1.7 .5 .8 .5 2.6 .5-5.3 .5 4.7 .5 1.9 .5-3.2 .5-3 .5 6.6 .5-2.5 .5-.1 .5 2.2 .5-2.2 .5-2 .5-3.3 .5 8.2 .5-4.3 .5-.5 .5 2 .5 .9 .5-4.9 .5 2.4 .5-1.5 .5-1.1 .5 1.2 .5 .1 .5 .9 .5-3.1 .5 1.4 .5 4.1 .5-5.6 .5 3.2 .5-2.9 .5 1.7 .5 1.8 .5 1.5 .5 .4 .5-4.5 .5 5.5 .5-6.4 .5 6.2 .5-6.4 .5 1.1 .5 3.8 .5-2.1 .5 2.8 .5-1.5 .5-.2 .5 2.3 .5-3.5 .5-.2 .5 1.9 .5-.5 .5 .5 .5 .6 .5 1.1 .5-4.2 .5-2.5 .5 4.4 .5 1.5 .5-1 .5-3.7 .5-1.3 .5 .1 .5 5 .5-2.6 .5 4.4 .5 2 .5-2.7 .5-1.1 .5-.4 .5 .8 .5 3.4 .5-5.4 .5-2.2 .5 4.4 .5 1.8 .5-5.9 .5-.6 .5-1.1 .5 4 .5-3.1 .5 7.3 .5-6.6 .5 5.9 .5-2.4 .5-5.6 .5 5.3 .5 3.6 .5-2.1 .5-3.1 .5 .7 .5 .7 .5 .1 .5-.6 .5-2 .5-.5 .5-2.1 .5 4.8 .5-.4 .5-2.3 .5 5.6 .5-4.6 .5 5.1 .5-4.3 .5-.6 .5 2.6 .5-3.9 .5 6 .5 .9 .5-4.6 .5 1.5 .5-3.6 .5 3.7 .5 1.8 .5-4.1 .5 2.1 .5-.2 .5-1.4 .5 4.8 .5 .5 .5-7.1 .5 4.1 .5-6.5 .5 4.9 .5 .6 .5-1.3 .5 1 .5 .5 .5 2.8 .5-3.8 .5-1.9 .5 3 .5 3.7 .5-5.8 .5 4.9 .5-2.6 .5-4.4 .5 3.1 .5-1.1 .5 2.9 .5-5.3 .5 4.3 .5-.5 .5-5 .5 4.4 .5-1.3 .5 4.5 .5-1.3 .5 .7 .5-1.9 .5-2.9 .5 5.6 .5-1.1 .5-1.9 .5 .2 .5 2.1 .5-.2 .5-2.2 .5-.7 .5 3.6 .5-2.6 .5-1.4 .5 1.3 .5-1 .5 1.6 .5-1.7 .5 1 .5 1.3 .5-2.3 .5-.4 .5 1.9 .5-2.8 .5 1.5 .5 0 .5 1.2 .5 .1 .5-1 .5 4.2 .5-6.1 .5 1.8 .5 3.9 .5-4.3 .5 .6 .5-2 .5 2.9 .5 2.9 .5-4 .5-1.7 .5 1.7 .5-3.4 .5 1.9 .5 6.6 .5-8.1 .5-.2 .5 3 .5-2 .5 2 .5 5.3 .5-2.1 .5-5.1 .5 5.2 .5-.3 .5 .6 .5-4.2 .5 1.9 .5-1.8 .5 2.2 .5-.5 .5 2.6 .5-1.8 .5-2.1 .5-4.2 .5 5.9 .5 .5 .5 .8 .5-2 .5 .2 .5-.6 .5-.5 .5-3.7 .5 2.6 .5 .7 .5-3.3 .5 3.7 .5-2.1 .5 4.1 .5-.9 .5-4.9 .5-.6 .5 6.3 .5 1.3 .5-.8 .5-6.5 .5 6.6 .5-2.7 .5 3.2 .5-2.2 .5-1.4 .5 .7 .5 2.2 .5-.8 .5-4.8 .5 3.1 .5 2 .5-.8 .5-.8 .5 .2 .5-3.6 .5 .3 .5 3 .5-.1 .5 .8 .5-2.6 .5 .2 .5-.5 .5 2.2 .5 .4 .5 1.6 .5 .1 .5-.3 .5 .1 .5 2 .5-.4 .5-3.6 .5-3.3 .5 2.6 .5 1.4 .5-.2 .5-1.9 .5 4.1 .5-6.4 .5 4 .5-.4 .5 3.6 .5-2.1 .5-2.8 .5-2.1 .5 1.6 .5 4.1 .5-2.9 .5 2.2 .5-.2 .5-1.4 .5 3.2 .5-4.5 .5 2.2 .5 1.8 .5-2.1 .5 .2 .5-2.2 .5-.8 .5 2.8 .5 .1 .5-2.1 .5 .5 .5 .6 .5 1.4 .5 2.6 .5-2.6 .5-.9 .5 4.7 .5-9 .5 5.4 .5-1.9 .5 1.6 .5 3.8 .5-7.4 .5 .4 .5 2.8 .5 3.1 .5-4 .5 .9 .5 0 .5-2.8 .5 3 .5-1.6 .5 .8 .5 .7 .5-4.6 .5 3.7 .5-.5 .5 .2 .5-.8 .5 2.6 .5 3.5 .5-5 .5 3.8 .5-4.1 .5 1.1 .5 2 .5-3.4 .5 .5 .5-2.5 .5 7 .5-8.1 .5 4.5 .5-1.1 .5 .9 .5-2.9 .5 2.7 .5 1.1 .5-3 .5-.3 .5 3.8 .5-.4 .5-.4 .5 1.4 .5-2.2 .5-1.3 .5-.1 .5 3.1 .5-4.5 .5 2.2 .5-3.4 .5 2.7 .5 4.3 .5-2.1 .5-2 .5-2.3 .5 .1 .5 .2 .5 3 .5-2.4 .5 3.8 .5-4.6 .5 7.7 .5-4.2 .5 1.1 .5-.6 .5-2.6 .5-.3 .5-.4 .5 .9 .5 6 .5-4.4 .5 1.2 .5-3.8 .5 1.3 .5-.1 .5-3.8 .5 0 .5 3.2 .5-.6 .5-1.6 .5 6.6 .5 .7 .5-7.3 .5 6.7 .5-2.2 .5-3.6 .5-1.2 .5 3.6 .5-2.8 .5 3.7 .5 2 .5-1.4 .5 3.7 .5-2.7 .5 .6 .5-.9 .5-.9 .5-.5 .5 .6 .5-3.3 .5 7.1 .5-6.8 .5 6.3 .5-3.4 .5 1.7 .5-5.4 .5 .2 .5 6.6 .5-2.9 .5-3.3 .5-.6 .5 .7 .5 .4 .5 4.2 .5 2 .5-2.7 .5 .7 .5-.7 .5-3.8 .5 2.5 .5 .9 .5 1 .5-3.6 .5 2.8 .5 3 .5 .1 .5-2.3 .5-5.7 .5 2.3 .5 2.9 .5-3.9 .5 .9 .5 3 .5-5.9 .5 7.8 .5-3.7 .5-.6 .5-.3 .5-1.1 .5 5.9 .5-2.1 .5-2.4 .5 3.2 .5-1.8 .5-1.6 .5-1 .5 4.5 .5-4.6 .5 .4 .5-1.8 .5 2.5 .5-4 .5 2.2 .5 2.9 .5 .9 .5 3.2 .5-5.3 .5-1 .5-.2 .5 4.1 .5-2.2 .5-2.5 .5 3.3 .5-1 .5 .2 .5-1.1 .5 4"/>
</g>
<text font-size="80" text-anchor="middle" transform="translate(531.1,1525.5) scale(1,1.04)">10</text>
<text font-size="80" text-anchor="middle" transform="translate(781.3,1525.5) scale(1,1.04)">20</text>
<text font-size="80" text-anchor="middle" transform="translate(1031.5,1525.5) scale(1,1.04)">30</text>
<text font-size="80" text-anchor="middle" transform="translate(1281.7,1525.5) scale(1,1.04)">40</text>
<text font-size="80" text-anchor="middle" transform="translate(1531.9,1525.5) scale(1,1.04)">50</text>
<text font-size="80" text-anchor="middle" transform="translate(1782.1,1525.5) scale(1,1.04)">60</text>
<text font-size="80" text-anchor="middle" transform="translate(2032.3,1525.5) scale(1,1.04)">70</text>
<text font-size="80" text-anchor="middle" transform="translate(2282.5,1525.5) scale(1,1.04)">80</text>
<text font-size="80" text-anchor="end" transform="translate(376.6,1455.3) scale(1.005,1.04)">0</text>
<text font-size="80" text-anchor="end" transform="translate(376.6,1059.7) scale(1.005,1.04)">3000</text>
<text font-size="80" text-anchor="end" transform="translate(376.6,664.1) scale(1.005,1.04)">6000</text>
<text font-size="80" text-anchor="end" transform="translate(376.6,268.5) scale(1.005,1.04)">9000</text>
<text font-size="123" transform="translate(1196,1723) scale(1,1.02)">2θ <tspan font-size="118" dx="2.5">(</tspan><tspan font-size="75" dx="0.5" dy="-67">o</tspan><tspan font-size="118" dx="7" dy="67">)</tspan></text>
<text font-size="123" transform="translate(109.3,1188.3) rotate(-90) scale(1.01,1)">Intensity, a.u.</text>
<text font-size="68" transform="translate(1963.5,141.2) scale(1,1.045)">FP1-300</text>
<text font-size="68" transform="translate(1991.5,311.2) scale(1,1.045)">FP1-500</text>
<text font-size="68" transform="translate(1977.3,500.7) scale(1,1.045)">FP1-400</text>
<text font-size="68" transform="translate(1963.5,775.8) scale(1,1.045)">FP1-350</text>
<text font-size="68.5" transform="translate(2030.3,1150.3) scale(1,1.05)">CeO<tspan font-size="41" dy="25">2</tspan></text>
<text font-size="80" transform="translate(2082,1385) scale(1,1.045)">BC</text>
</svg></body></html>
